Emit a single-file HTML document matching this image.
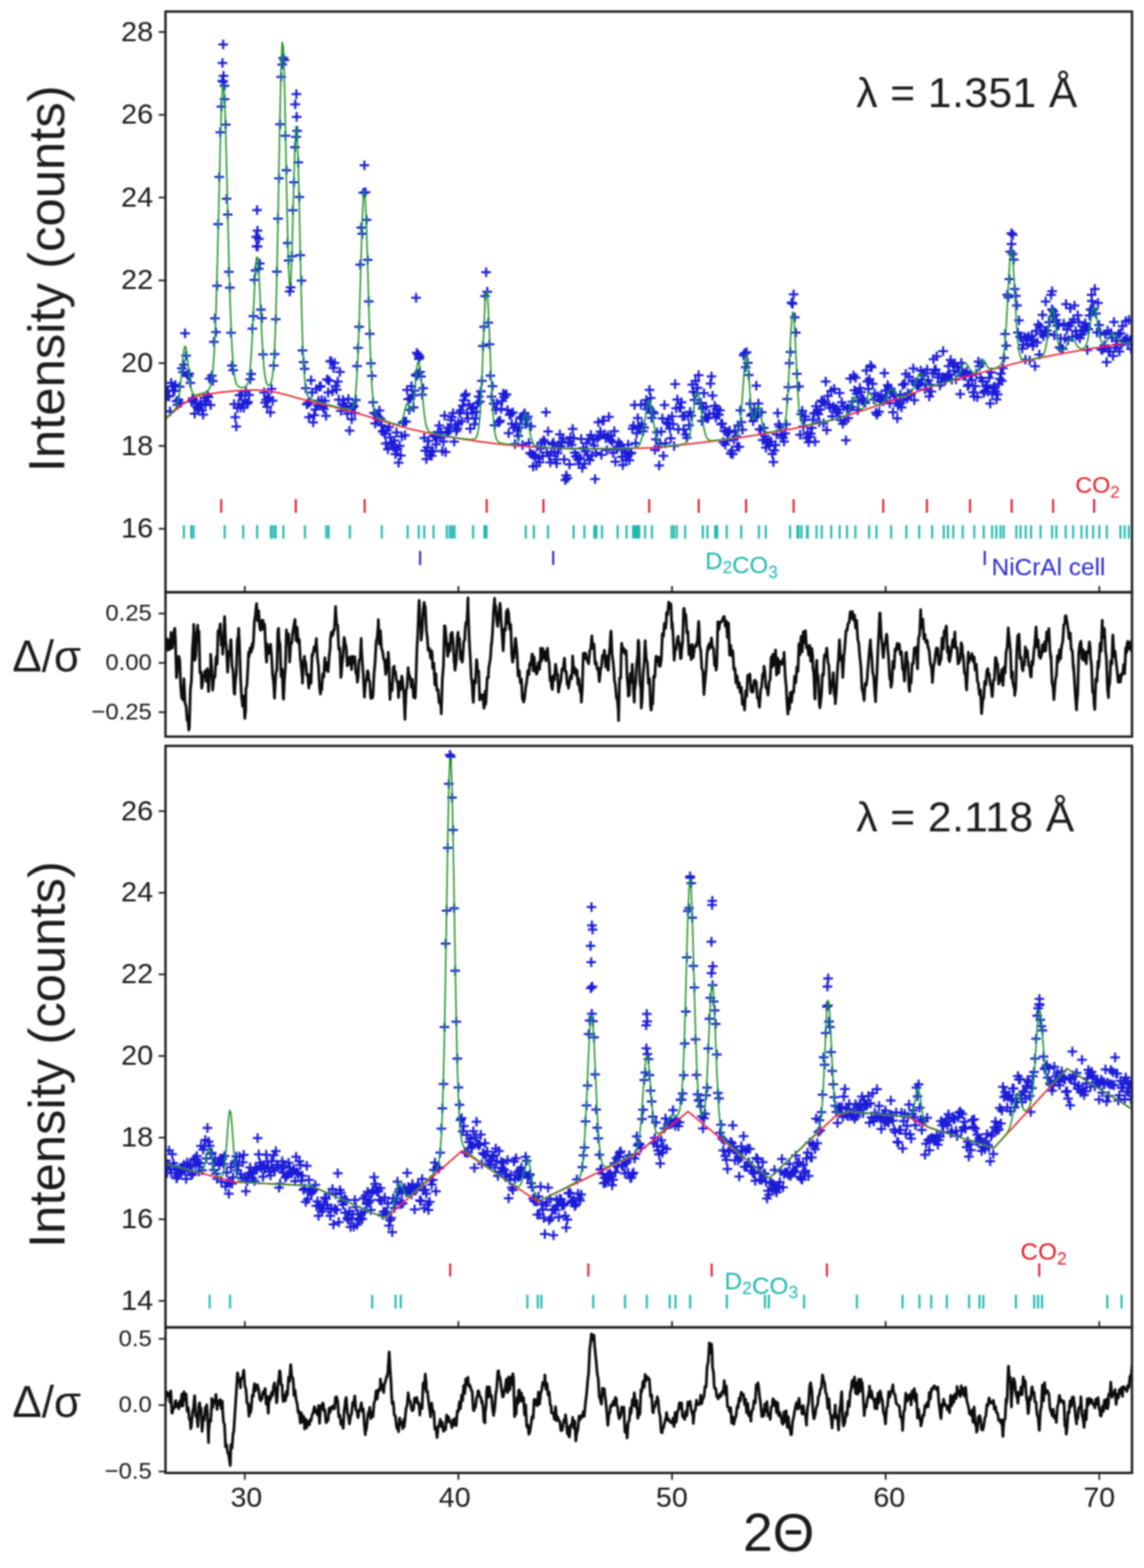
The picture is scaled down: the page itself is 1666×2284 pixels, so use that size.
<!DOCTYPE html>
<html><head><meta charset="utf-8"><title>Powder diffraction refinement</title>
<style>html,body{margin:0;padding:0;background:#fff;} svg{display:block;}</style>
</head><body>
<svg width="1666" height="2284" viewBox="0 0 1666 2284" font-family="'Liberation Sans', Arial, Helvetica, sans-serif">
<rect width="1666" height="2284" fill="#fff"/>
<defs>
<clipPath id="c1"><rect x="241.0" y="16.8" width="1407.5" height="845.8000000000001"/></clipPath>
<clipPath id="c2"><rect x="241.0" y="862.6" width="1407.5" height="210.39999999999998"/></clipPath>
<clipPath id="c3"><rect x="241.0" y="1086.5" width="1407.5" height="847.0"/></clipPath>
<clipPath id="c4"><rect x="241.0" y="1933.5" width="1407.5" height="212.0"/></clipPath>
<filter id="soft" x="0" y="0" width="1666" height="2284" filterUnits="userSpaceOnUse"><feGaussianBlur stdDeviation="0.9"/></filter>
</defs>
<g filter="url(#soft)">
<g clip-path="url(#c1)">
<path d="M234.5 568.9h14M241.5 561.9v14M236.1 576.7h14M243.1 569.7v14M237.6 569.0h14M244.6 562.0v14M239.2 577.5h14M246.2 570.5v14M240.7 599.2h14M247.7 592.2v14M242.3 557.7h14M249.3 550.7v14M243.8 562.8h14M250.8 555.8v14M245.4 569.3h14M252.4 562.3v14M246.9 569.4h14M253.9 562.4v14M248.5 560.8h14M255.5 553.8v14M250.1 584.6h14M257.1 577.6v14M251.6 589.8h14M258.6 582.8v14M253.2 582.8h14M260.2 575.8v14M254.7 563.3h14M261.7 556.3v14M256.3 587.1h14M263.3 580.1v14M257.8 536.6h14M264.8 529.6v14M259.4 541.9h14M266.4 534.9v14M260.9 531.2h14M267.9 524.2v14M262.5 485.5h14M269.5 478.5v14M264.0 518.0h14M271.0 511.0v14M265.6 545.6h14M272.6 538.6v14M267.2 548.1h14M274.2 541.1v14M268.7 544.2h14M275.7 537.2v14M270.3 557.8h14M277.3 550.8v14M271.8 584.9h14M278.8 577.9v14M273.4 580.6h14M280.4 573.6v14M274.9 582.8h14M281.9 575.8v14M276.5 602.5h14M283.5 595.5v14M278.0 586.5h14M285.0 579.5v14M279.6 592.3h14M286.6 585.3v14M281.2 595.0h14M288.2 588.0v14M282.7 594.4h14M289.7 587.4v14M284.3 590.1h14M291.3 583.1v14M285.8 588.5h14M292.8 581.5v14M287.4 597.7h14M294.4 590.7v14M288.9 603.9h14M295.9 596.9v14M290.5 579.4h14M297.5 572.4v14M292.0 588.6h14M299.0 581.6v14M293.6 584.8h14M300.6 577.8v14M295.1 575.7h14M302.1 568.7v14M296.7 578.4h14M303.7 571.4v14M298.3 551.4h14M305.3 544.4v14M299.8 589.9h14M306.8 582.9v14M301.4 547.3h14M308.4 540.3v14M302.9 554.9h14M309.9 547.9v14M304.5 498.1h14M311.5 491.1v14M306.0 463.7h14M313.0 456.7v14M307.6 483.7h14M314.6 476.7v14M309.1 416.2h14M316.1 409.2v14M310.7 326.5h14M317.7 319.5v14M312.3 257.7h14M319.3 250.7v14M313.8 192.8h14M320.8 185.8v14M315.4 155.3h14M322.4 148.3v14M316.9 117.8h14M323.9 110.8v14M318.5 110.5h14M325.5 103.5v14M320.0 144.5h14M327.0 137.5v14M321.6 181.5h14M328.6 174.5v14M323.1 289.6h14M330.1 282.6v14M324.7 312.6h14M331.7 305.6v14M326.2 396.0h14M333.2 389.0v14M327.8 419.0h14M334.8 412.0v14M329.4 484.8h14M336.4 477.8v14M330.9 532.5h14M337.9 525.5v14M332.5 539.3h14M339.5 532.3v14M334.0 588.7h14M341.0 581.7v14M335.6 607.8h14M342.6 600.8v14M337.1 621.3h14M344.1 614.3v14M338.7 594.4h14M345.7 587.4v14M340.2 588.7h14M347.2 581.7v14M341.8 575.7h14M348.8 568.7v14M343.4 593.4h14M350.4 586.4v14M344.9 575.3h14M351.9 568.3v14M346.5 588.9h14M353.5 581.9v14M348.0 594.1h14M355.0 587.1v14M349.6 583.3h14M356.6 576.3v14M351.1 571.0h14M358.1 564.0v14M352.7 588.0h14M359.7 581.0v14M354.2 585.6h14M361.2 578.6v14M355.8 575.3h14M362.8 568.3v14M357.3 552.5h14M364.3 545.5v14M358.9 544.7h14M365.9 537.7v14M360.5 478.7h14M367.5 471.7v14M362.0 460.5h14M369.0 453.5v14M363.6 407.8h14M370.6 400.8v14M365.1 394.0h14M372.1 387.0v14M366.7 358.7h14M373.7 351.7v14M368.2 359.3h14M375.2 352.3v14M369.8 391.6h14M376.8 384.6v14M371.3 383.8h14M378.3 376.8v14M372.9 451.0h14M379.9 444.0v14M374.5 463.5h14M381.5 456.5v14M376.0 516.3h14M383.0 509.3v14M377.6 571.7h14M384.6 564.7v14M379.1 586.5h14M386.1 579.5v14M380.7 582.2h14M387.7 575.2v14M382.2 592.5h14M389.2 585.5v14M383.8 580.2h14M390.8 573.2v14M385.3 579.7h14M392.3 572.7v14M386.9 600.7h14M393.9 593.7v14M388.4 566.6h14M395.4 559.6v14M390.0 583.7h14M397.0 576.7v14M391.6 532.4h14M398.6 525.4v14M393.1 515.7h14M400.1 508.7v14M394.7 465.1h14M401.7 458.1v14M396.2 395.8h14M403.2 388.8v14M397.8 318.5h14M404.8 311.5v14M399.3 259.8h14M406.3 252.8v14M400.9 181.1h14M407.9 174.1v14M402.4 112.1h14M409.4 105.1v14M404.0 93.9h14M411.0 86.9v14M405.6 84.2h14M412.6 77.2v14M407.1 87.4h14M414.1 80.4v14M408.7 197.8h14M415.7 190.8v14M410.2 248.0h14M417.2 241.0v14M411.8 354.0h14M418.8 347.0v14M413.3 379.6h14M420.3 372.6v14M414.9 424.4h14M421.9 417.4v14M416.4 418.5h14M423.4 411.5v14M418.0 373.3h14M425.0 366.3v14M419.5 306.3h14M426.5 299.3v14M421.1 265.4h14M428.1 258.4v14M422.7 214.6h14M429.7 207.6v14M424.2 199.5h14M431.2 192.5v14M425.8 190.4h14M432.8 183.4v14M427.3 236.6h14M434.3 229.6v14M428.9 287.1h14M435.9 280.1v14M430.4 371.8h14M437.4 364.8v14M432.0 408.8h14M439.0 401.8v14M433.5 510.5h14M440.5 503.5v14M435.1 527.5h14M442.1 520.5v14M436.7 537.2h14M443.7 530.2v14M438.2 565.6h14M445.2 558.6v14M439.8 588.9h14M446.8 581.9v14M441.3 587.2h14M448.3 580.2v14M442.9 607.8h14M449.9 600.8v14M444.4 585.8h14M451.4 578.8v14M446.0 554.0h14M453.0 547.0v14M447.5 571.8h14M454.5 564.8v14M449.1 615.2h14M456.1 608.2v14M450.6 604.7h14M457.6 597.7v14M452.2 596.5h14M459.2 589.5v14M453.8 566.7h14M460.8 559.7v14M455.3 589.9h14M462.3 582.9v14M456.9 583.8h14M463.9 576.8v14M458.4 563.4h14M465.4 556.4v14M460.0 562.5h14M467.0 555.5v14M461.5 582.7h14M468.5 575.7v14M463.1 592.5h14M470.1 585.5v14M464.6 595.8h14M471.6 588.8v14M466.2 584.1h14M473.2 577.1v14M467.8 605.8h14M474.8 598.8v14M469.3 552.6h14M476.3 545.6v14M470.9 571.8h14M477.9 564.8v14M472.4 554.6h14M479.4 547.6v14M474.0 526.1h14M481.0 519.1v14M475.5 526.7h14M482.5 519.7v14M477.1 569.9h14M484.1 562.9v14M478.6 536.1h14M485.6 529.1v14M480.2 528.8h14M487.2 521.8v14M481.7 562.2h14M488.7 555.2v14M483.3 567.4h14M490.3 560.4v14M484.9 555.7h14M491.9 548.7v14M486.4 582.2h14M493.4 575.2v14M488.0 541.7h14M495.0 534.7v14M489.5 598.4h14M496.5 591.4v14M491.1 589.0h14M498.1 582.0v14M492.6 582.4h14M499.6 575.4v14M494.2 591.0h14M501.2 584.0v14M495.7 592.4h14M502.7 585.4v14M497.3 593.0h14M504.3 586.0v14M498.9 602.6h14M505.9 595.6v14M500.4 580.9h14M507.4 573.9v14M502.0 627.3h14M509.0 620.3v14M503.5 593.1h14M510.5 586.1v14M505.1 610.8h14M512.1 603.8v14M506.6 593.4h14M513.6 586.4v14M508.2 591.6h14M515.2 584.6v14M509.7 601.7h14M516.7 594.7v14M511.3 582.7h14M518.3 575.7v14M512.8 533.2h14M519.8 526.2v14M514.4 506.7h14M521.4 499.7v14M516.0 475.9h14M523.0 468.9v14M517.5 385.4h14M524.5 378.4v14M519.1 331.4h14M526.1 324.4v14M520.6 340.6h14M527.6 333.6v14M522.2 280.8h14M529.2 273.8v14M523.7 240.8h14M530.7 233.8v14M525.3 280.1h14M532.3 273.1v14M526.8 320.2h14M533.8 313.2v14M528.4 378.6h14M535.4 371.6v14M530.0 439.1h14M537.0 432.1v14M531.5 486.3h14M538.5 479.3v14M533.1 529.3h14M540.1 522.3v14M534.6 547.6h14M541.6 540.6v14M536.2 586.1h14M543.2 579.1v14M537.7 601.6h14M544.7 594.6v14M539.3 616.8h14M546.3 609.8v14M540.8 602.9h14M547.8 595.9v14M542.4 609.7h14M549.4 602.7v14M543.9 607.3h14M550.9 600.3v14M545.5 597.9h14M552.5 590.9v14M547.1 610.0h14M554.1 603.0v14M548.6 619.4h14M555.6 612.4v14M550.2 628.4h14M557.2 621.4v14M551.7 627.7h14M558.7 620.7v14M553.3 631.9h14M560.3 624.9v14M554.8 646.1h14M561.8 639.1v14M556.4 626.5h14M563.4 619.5v14M557.9 654.4h14M564.9 647.4v14M559.5 622.0h14M566.5 615.0v14M561.1 636.9h14M568.1 629.9v14M562.6 644.7h14M569.6 637.7v14M564.2 647.2h14M571.2 640.2v14M565.7 651.2h14M572.7 644.2v14M567.3 641.7h14M574.3 634.7v14M568.8 661.5h14M575.8 654.5v14M570.4 629.9h14M577.4 622.9v14M571.9 653.9h14M578.9 646.9v14M573.5 674.0h14M580.5 667.0v14M575.0 649.6h14M582.0 642.6v14M576.6 663.6h14M583.6 656.6v14M578.2 635.7h14M585.2 628.7v14M579.7 615.7h14M586.7 608.7v14M581.3 614.0h14M588.3 607.0v14M582.8 633.9h14M589.8 626.9v14M584.4 614.1h14M591.4 607.1v14M585.9 567.9h14M592.9 560.9v14M587.5 581.6h14M594.5 574.6v14M589.0 597.0h14M596.0 590.0v14M590.6 580.6h14M597.6 573.6v14M592.2 562.6h14M599.2 555.6v14M593.7 576.2h14M600.7 569.2v14M595.3 593.4h14M602.3 586.4v14M596.8 569.1h14M603.8 562.1v14M598.4 546.3h14M605.4 539.3v14M599.9 547.6h14M606.9 540.6v14M601.5 544.5h14M608.5 537.5v14M603.0 522.8h14M610.0 515.8v14M604.6 541.8h14M611.6 534.8v14M606.1 548.6h14M613.1 541.6v14M607.7 575.0h14M614.7 568.0v14M609.3 565.6h14M616.3 558.6v14M610.8 637.9h14M617.8 630.9v14M612.4 656.5h14M619.4 649.5v14M613.9 668.7h14M620.9 661.7v14M615.5 651.6h14M622.5 644.6v14M617.0 642.2h14M624.0 635.2v14M618.6 662.7h14M625.6 655.7v14M620.1 658.7h14M627.1 651.7v14M621.7 664.1h14M628.7 657.1v14M623.3 657.1h14M630.3 650.1v14M624.8 634.4h14M631.8 627.4v14M626.4 636.0h14M633.4 629.0v14M627.9 647.3h14M634.9 640.3v14M629.5 637.9h14M636.5 630.9v14M631.0 629.2h14M638.0 622.2v14M632.6 619.8h14M639.6 612.8v14M634.1 637.9h14M641.1 630.9v14M635.7 629.5h14M642.7 622.5v14M637.2 657.1h14M644.2 650.1v14M638.8 643.1h14M645.8 636.1v14M640.4 605.4h14M647.4 598.4v14M641.9 658.5h14M648.9 651.5v14M643.5 631.0h14M650.5 624.0v14M645.0 623.2h14M652.0 616.2v14M646.6 628.2h14M653.6 621.2v14M648.1 623.7h14M655.1 616.7v14M649.7 611.7h14M656.7 604.7v14M651.2 607.5h14M658.2 600.5v14M652.8 601.8h14M659.8 594.8v14M654.4 643.2h14M661.4 636.2v14M655.9 619.8h14M662.9 612.8v14M657.5 627.7h14M664.5 620.7v14M659.0 624.2h14M666.0 617.2v14M660.6 616.6h14M667.6 609.6v14M662.1 601.6h14M669.1 594.6v14M663.7 598.1h14M670.7 591.1v14M665.2 613.7h14M672.2 606.7v14M666.8 590.9h14M673.8 583.9v14M668.3 582.9h14M675.3 575.9v14M669.9 576.5h14M676.9 569.5v14M671.5 574.0h14M678.5 567.0v14M673.0 602.2h14M680.0 595.2v14M674.6 609.7h14M681.6 602.7v14M676.1 588.9h14M683.1 581.9v14M677.7 624.5h14M684.7 617.5v14M679.2 595.3h14M686.2 588.3v14M680.8 601.8h14M687.8 594.8v14M682.3 592.7h14M689.3 585.7v14M683.9 618.1h14M690.9 611.1v14M685.5 609.4h14M692.5 602.4v14M687.0 600.0h14M694.0 593.0v14M688.6 587.4h14M695.6 580.4v14M690.1 577.7h14M697.1 570.7v14M691.7 584.9h14M698.7 577.9v14M693.2 569.9h14M700.2 562.9v14M694.8 554.8h14M701.8 547.8v14M696.3 503.9h14M703.3 496.9v14M697.9 475.9h14M704.9 468.9v14M699.4 431.3h14M706.4 424.3v14M701.0 396.5h14M708.0 389.5v14M702.6 425.0h14M709.6 418.0v14M704.1 470.1h14M711.1 463.1v14M705.7 501.4h14M712.7 494.4v14M707.2 547.2h14M714.2 540.2v14M708.8 577.7h14M715.8 570.7v14M710.3 562.4h14M717.3 555.4v14M711.9 588.1h14M718.9 581.1v14M713.4 619.6h14M720.4 612.6v14M715.0 596.9h14M722.0 589.9v14M716.6 587.4h14M723.6 580.4v14M718.1 614.6h14M725.1 607.6v14M719.7 614.9h14M726.7 607.9v14M721.2 612.7h14M728.2 605.7v14M722.8 595.6h14M729.8 588.6v14M724.3 584.0h14M731.3 577.0v14M725.9 573.5h14M732.9 566.5v14M727.4 578.5h14M734.4 571.5v14M729.0 574.9h14M736.0 567.9v14M730.5 574.6h14M737.5 567.6v14M732.1 597.3h14M739.1 590.3v14M733.7 631.1h14M740.7 624.1v14M735.2 604.2h14M742.2 597.2v14M736.8 602.6h14M743.8 595.6v14M738.3 617.2h14M745.3 610.2v14M739.9 600.8h14M746.9 593.8v14M741.4 623.3h14M748.4 616.3v14M743.0 646.7h14M750.0 639.7v14M744.5 617.2h14M751.5 610.2v14M746.1 626.7h14M753.1 619.7v14M747.7 634.9h14M754.7 627.9v14M749.2 622.7h14M756.2 615.7v14M750.8 607.9h14M757.8 600.9v14M752.3 609.6h14M759.3 602.6v14M753.9 648.3h14M760.9 641.3v14M755.4 604.9h14M762.4 597.9v14M757.0 601.9h14M764.0 594.9v14M758.5 617.8h14M765.5 610.8v14M760.1 611.1h14M767.1 604.1v14M761.6 607.1h14M768.6 600.1v14M763.2 645.2h14M770.2 638.2v14M764.8 659.9h14M771.8 652.9v14M766.3 621.1h14M773.3 614.1v14M767.9 662.3h14M774.9 655.3v14M769.4 679.5h14M776.4 672.5v14M771.0 662.9h14M778.0 655.9v14M772.5 664.7h14M779.5 657.7v14M774.1 678.3h14M781.1 671.3v14M775.6 650.7h14M782.6 643.7v14M777.2 667.4h14M784.2 660.4v14M778.8 673.5h14M785.8 666.5v14M780.3 653.4h14M787.3 646.4v14M781.9 644.8h14M788.9 637.8v14M783.4 664.3h14M790.4 657.3v14M785.0 641.3h14M792.0 634.3v14M786.5 644.5h14M793.5 637.5v14M788.1 600.6h14M795.1 593.6v14M789.6 659.3h14M796.6 652.3v14M791.2 628.6h14M798.2 621.6v14M792.7 664.0h14M799.7 657.0v14M794.3 673.4h14M801.3 666.4v14M795.9 658.3h14M802.9 651.3v14M797.4 647.6h14M804.4 640.6v14M799.0 644.7h14M806.0 637.7v14M800.5 659.1h14M807.5 652.1v14M802.1 669.4h14M809.1 662.4v14M803.6 674.9h14M810.6 667.9v14M805.2 660.1h14M812.2 653.1v14M806.7 650.8h14M813.7 643.8v14M808.3 632.8h14M815.3 625.8v14M809.9 649.9h14M816.9 642.9v14M811.4 643.0h14M818.4 636.0v14M813.0 639.0h14M820.0 632.0v14M814.5 669.3h14M821.5 662.3v14M816.1 699.3h14M823.1 692.3v14M817.6 692.6h14M824.6 685.6v14M819.2 696.5h14M826.2 689.5v14M820.7 645.0h14M827.7 638.0v14M822.3 676.4h14M829.3 669.4v14M823.8 636.9h14M830.8 629.9v14M825.4 648.3h14M832.4 641.3v14M827.0 624.8h14M834.0 617.8v14M828.5 638.5h14M835.5 631.5v14M830.1 659.3h14M837.1 652.3v14M831.6 665.2h14M838.6 658.2v14M833.2 663.9h14M840.2 656.9v14M834.7 669.3h14M841.7 662.3v14M836.3 676.1h14M843.3 669.1v14M837.8 666.9h14M844.8 659.9v14M839.4 639.5h14M846.4 632.5v14M841.0 681.4h14M848.0 674.4v14M842.5 652.5h14M849.5 645.5v14M844.1 675.5h14M851.1 668.5v14M845.6 657.1h14M852.6 650.1v14M847.2 645.5h14M854.2 638.5v14M848.7 663.1h14M855.7 656.1v14M850.3 639.5h14M857.3 632.5v14M851.8 670.4h14M858.8 663.4v14M853.4 633.5h14M860.4 626.5v14M854.9 663.4h14M861.9 656.4v14M856.5 640.7h14M863.5 633.7v14M858.1 649.1h14M865.1 642.1v14M859.6 697.7h14M866.6 690.7v14M861.2 659.4h14M868.2 652.4v14M862.7 638.7h14M869.7 631.7v14M864.3 615.1h14M871.3 608.1v14M865.8 635.6h14M872.8 628.6v14M867.4 628.8h14M874.4 621.8v14M868.9 662.6h14M875.9 655.6v14M870.5 612.7h14M877.5 605.7v14M872.1 612.5h14M879.1 605.5v14M873.6 632.5h14M880.6 625.5v14M875.2 638.2h14M882.2 631.2v14M876.7 655.8h14M883.7 648.8v14M878.3 634.3h14M885.3 627.3v14M879.8 607.3h14M886.8 600.3v14M881.4 640.2h14M888.4 633.2v14M882.9 634.8h14M889.9 627.8v14M884.5 643.3h14M891.5 636.3v14M886.0 659.7h14M893.0 652.7v14M887.6 627.9h14M894.6 620.9v14M889.2 672.5h14M896.2 665.5v14M890.7 654.2h14M897.7 647.2v14M892.3 651.2h14M899.3 644.2v14M893.8 644.5h14M900.8 637.5v14M895.4 649.8h14M902.4 642.8v14M896.9 647.7h14M903.9 640.7v14M898.5 665.4h14M905.5 658.4v14M900.0 677.5h14M907.0 670.5v14M901.6 654.4h14M908.6 647.4v14M903.2 658.1h14M910.2 651.1v14M904.7 669.5h14M911.7 662.5v14M906.3 664.0h14M913.3 657.0v14M907.8 647.8h14M914.8 640.8v14M909.4 670.4h14M916.4 663.4v14M910.9 661.0h14M917.9 654.0v14M912.5 659.6h14M919.5 652.6v14M914.0 624.6h14M921.0 617.6v14M915.6 620.0h14M922.6 613.0v14M917.1 590.0h14M924.1 583.0v14M918.7 645.4h14M925.7 638.4v14M920.3 631.0h14M927.3 624.0v14M921.8 609.1h14M928.8 602.1v14M923.4 621.8h14M930.4 614.8v14M924.9 622.2h14M931.9 615.2v14M926.5 589.6h14M933.5 582.6v14M928.0 618.2h14M935.0 611.2v14M929.6 628.3h14M936.6 621.3v14M931.1 622.7h14M938.1 615.7v14M932.7 588.3h14M939.7 581.3v14M934.3 582.8h14M941.3 575.8v14M935.8 596.2h14M942.8 589.2v14M937.4 592.6h14M944.4 585.6v14M938.9 568.0h14M945.9 561.0v14M940.5 579.8h14M947.5 572.8v14M942.0 608.8h14M949.0 601.8v14M943.6 600.1h14M950.6 593.1v14M945.1 601.9h14M952.1 594.9v14M946.7 655.3h14M953.7 648.3v14M948.2 640.0h14M955.2 633.0v14M949.8 629.7h14M956.8 622.7v14M951.4 651.2h14M958.4 644.2v14M952.9 678.1h14M959.9 671.1v14M954.5 646.6h14M961.5 639.6v14M956.0 628.8h14M963.0 621.8v14M957.6 609.4h14M964.6 602.4v14M959.1 664.0h14M966.1 657.0v14M960.7 590.0h14M967.7 583.0v14M962.2 645.8h14M969.2 638.8v14M963.8 615.0h14M970.8 608.0v14M965.4 617.7h14M972.4 610.7v14M966.9 610.6h14M973.9 603.6v14M968.5 624.2h14M975.5 617.2v14M970.0 638.4h14M977.0 631.4v14M971.6 606.6h14M978.6 599.6v14M973.1 617.8h14M980.1 610.8v14M974.7 649.7h14M981.7 642.7v14M976.2 559.5h14M983.2 552.5v14M977.8 594.7h14M984.8 587.7v14M979.3 582.0h14M986.3 575.0v14M980.9 625.5h14M987.9 618.5v14M982.5 593.4h14M989.5 586.4v14M984.0 593.9h14M991.0 586.9v14M985.6 586.0h14M992.6 579.0v14M987.1 606.6h14M994.1 599.6v14M988.7 625.2h14M995.7 618.2v14M990.2 605.7h14M997.2 598.7v14M991.8 633.1h14M998.8 626.1v14M993.3 637.8h14M1000.3 630.8v14M994.9 605.4h14M1001.9 598.4v14M996.5 619.5h14M1003.5 612.5v14M998.0 600.1h14M1005.0 593.1v14M999.6 605.5h14M1006.6 598.5v14M1001.1 560.2h14M1008.1 553.2v14M1002.7 570.7h14M1009.7 563.7v14M1004.2 582.5h14M1011.2 575.5v14M1005.8 554.9h14M1012.8 547.9v14M1007.3 572.6h14M1014.3 565.6v14M1008.9 565.0h14M1015.9 558.0v14M1010.4 546.6h14M1017.4 539.6v14M1012.0 587.9h14M1019.0 580.9v14M1013.6 586.7h14M1020.6 579.7v14M1015.1 613.3h14M1022.1 606.3v14M1016.7 595.2h14M1023.7 588.2v14M1018.2 572.7h14M1025.2 565.7v14M1019.8 607.3h14M1026.8 600.3v14M1021.3 592.4h14M1028.3 585.4v14M1022.9 609.6h14M1029.9 602.6v14M1024.4 608.8h14M1031.4 601.8v14M1026.0 603.0h14M1033.0 596.0v14M1027.6 558.8h14M1034.6 551.8v14M1029.1 548.3h14M1036.1 541.3v14M1030.7 576.3h14M1037.7 569.3v14M1032.2 602.0h14M1039.2 595.0v14M1033.8 591.3h14M1040.8 584.3v14M1035.3 608.2h14M1042.3 601.2v14M1036.9 595.5h14M1043.9 588.5v14M1038.4 603.7h14M1045.4 596.7v14M1040.0 604.3h14M1047.0 597.3v14M1041.5 597.7h14M1048.5 590.7v14M1043.1 618.1h14M1050.1 611.1v14M1044.7 616.9h14M1051.7 609.9v14M1046.2 644.0h14M1053.2 637.0v14M1047.8 627.5h14M1054.8 620.5v14M1049.3 647.6h14M1056.3 640.6v14M1050.9 629.0h14M1057.9 622.0v14M1052.4 641.9h14M1059.4 634.9v14M1054.0 630.0h14M1061.0 623.0v14M1055.5 627.3h14M1062.5 620.3v14M1057.1 660.6h14M1064.1 653.6v14M1058.7 656.5h14M1065.7 649.5v14M1060.2 661.6h14M1067.2 654.6v14M1061.8 640.4h14M1068.8 633.4v14M1063.3 628.1h14M1070.3 621.1v14M1064.9 635.2h14M1071.9 628.2v14M1066.4 650.6h14M1073.4 643.6v14M1068.0 619.8h14M1075.0 612.8v14M1069.5 651.1h14M1076.5 644.1v14M1071.1 597.8h14M1078.1 590.8v14M1072.6 614.9h14M1079.6 607.9v14M1074.2 625.9h14M1081.2 618.9v14M1075.8 517.8h14M1082.8 510.8v14M1077.3 514.5h14M1084.3 507.5v14M1078.9 535.0h14M1085.9 528.0v14M1080.4 513.2h14M1087.4 506.2v14M1082.0 528.5h14M1089.0 521.5v14M1083.5 546.2h14M1090.5 539.2v14M1085.1 588.0h14M1092.1 581.0v14M1086.6 605.5h14M1093.6 598.5v14M1088.2 603.0h14M1095.2 596.0v14M1089.8 613.5h14M1096.8 606.5v14M1091.3 595.9h14M1098.3 588.9v14M1092.9 607.6h14M1099.9 600.6v14M1094.4 561.8h14M1101.4 554.8v14M1096.0 604.2h14M1103.0 597.2v14M1097.5 587.7h14M1104.5 580.7v14M1099.1 625.3h14M1106.1 618.3v14M1100.6 625.8h14M1107.6 618.8v14M1102.2 600.4h14M1109.2 593.4v14M1103.7 640.9h14M1110.7 633.9v14M1105.3 623.2h14M1112.3 616.2v14M1106.9 635.0h14M1113.9 628.0v14M1108.4 652.0h14M1115.4 645.0v14M1110.0 643.8h14M1117.0 636.8v14M1111.5 645.1h14M1118.5 638.1v14M1113.1 649.6h14M1120.1 642.6v14M1114.6 643.6h14M1121.6 636.6v14M1116.2 643.4h14M1123.2 636.4v14M1117.7 661.2h14M1124.7 654.2v14M1119.3 673.0h14M1126.3 666.0v14M1120.9 656.2h14M1127.9 649.2v14M1122.4 648.2h14M1129.4 641.2v14M1124.0 632.8h14M1131.0 625.8v14M1125.5 601.7h14M1132.5 594.7v14M1127.1 617.9h14M1134.1 610.9v14M1128.6 621.8h14M1135.6 614.8v14M1130.2 627.2h14M1137.2 620.2v14M1131.7 634.6h14M1138.7 627.6v14M1133.3 638.1h14M1140.3 631.1v14M1134.8 643.2h14M1141.8 636.2v14M1136.4 631.3h14M1143.4 624.3v14M1138.0 618.1h14M1145.0 611.1v14M1139.5 581.3h14M1146.5 574.3v14M1141.1 564.0h14M1148.1 557.0v14M1142.6 528.9h14M1149.6 521.9v14M1144.2 512.7h14M1151.2 505.7v14M1145.7 440.7h14M1152.7 433.7v14M1147.3 442.6h14M1154.3 435.6v14M1148.8 428.8h14M1155.8 421.8v14M1150.4 462.2h14M1157.4 455.2v14M1152.0 484.5h14M1159.0 477.5v14M1153.5 544.5h14M1160.5 537.5v14M1155.1 563.2h14M1162.1 556.2v14M1156.6 563.0h14M1163.6 556.0v14M1158.2 633.2h14M1165.2 626.2v14M1159.7 603.3h14M1166.7 596.3v14M1161.3 598.6h14M1168.3 591.6v14M1162.8 621.2h14M1169.8 614.2v14M1164.4 611.8h14M1171.4 604.8v14M1165.9 606.7h14M1172.9 599.7v14M1167.5 637.9h14M1174.5 630.9v14M1169.1 630.1h14M1176.1 623.1v14M1170.6 644.2h14M1177.6 637.2v14M1172.2 636.3h14M1179.2 629.3v14M1173.7 631.7h14M1180.7 624.7v14M1175.3 623.3h14M1182.3 616.3v14M1176.8 611.2h14M1183.8 604.2v14M1178.4 602.1h14M1185.4 595.1v14M1179.9 643.3h14M1186.9 636.3v14M1181.5 591.7h14M1188.5 584.7v14M1183.1 600.0h14M1190.1 593.0v14M1184.6 603.6h14M1191.6 596.6v14M1186.2 615.0h14M1193.2 608.0v14M1187.7 596.4h14M1194.7 589.4v14M1189.3 583.5h14M1196.3 576.5v14M1190.8 585.3h14M1197.8 578.3v14M1192.4 616.7h14M1199.4 609.7v14M1193.9 586.3h14M1200.9 579.3v14M1195.5 555.8h14M1202.5 548.8v14M1197.0 626.6h14M1204.0 619.6v14M1198.6 576.8h14M1205.6 569.8v14M1200.2 589.4h14M1207.2 582.4v14M1201.7 594.1h14M1208.7 587.1v14M1203.3 569.4h14M1210.3 562.4v14M1204.8 606.6h14M1211.8 599.6v14M1206.4 592.2h14M1213.4 585.2v14M1207.9 566.4h14M1214.9 559.4v14M1209.5 595.0h14M1216.5 588.0v14M1211.0 599.7h14M1218.0 592.7v14M1212.6 596.5h14M1219.6 589.5v14M1214.2 601.8h14M1221.2 594.8v14M1215.7 572.6h14M1222.7 565.6v14M1217.3 612.0h14M1224.3 605.0v14M1218.8 586.0h14M1225.8 579.0v14M1220.4 617.2h14M1227.4 610.2v14M1221.9 592.0h14M1228.9 585.0v14M1223.5 612.6h14M1230.5 605.6v14M1225.0 641.2h14M1232.0 634.2v14M1226.6 595.1h14M1233.6 588.1v14M1228.1 609.1h14M1235.1 602.1v14M1229.7 595.4h14M1236.7 588.4v14M1231.3 551.4h14M1238.3 544.4v14M1232.8 593.0h14M1239.8 586.0v14M1234.4 584.9h14M1241.4 577.9v14M1235.9 546.9h14M1242.9 539.9v14M1237.5 568.5h14M1244.5 561.5v14M1239.0 550.2h14M1246.0 543.2v14M1240.6 573.5h14M1247.6 566.5v14M1242.1 597.6h14M1249.1 590.6v14M1243.7 583.2h14M1250.7 576.2v14M1245.3 565.2h14M1252.3 558.2v14M1246.8 571.1h14M1253.8 564.1v14M1248.4 583.8h14M1255.4 576.8v14M1249.9 580.8h14M1256.9 573.8v14M1251.5 584.5h14M1258.5 577.5v14M1253.0 587.0h14M1260.0 580.0v14M1254.6 539.7h14M1261.6 532.7v14M1256.1 555.8h14M1263.1 548.8v14M1257.7 566.5h14M1264.7 559.5v14M1259.2 552.3h14M1266.2 545.3v14M1260.8 532.3h14M1267.8 525.3v14M1262.4 535.0h14M1269.4 528.0v14M1263.9 559.1h14M1270.9 552.1v14M1265.5 582.0h14M1272.5 575.0v14M1267.0 573.3h14M1274.0 566.3v14M1268.6 601.0h14M1275.6 594.0v14M1270.1 604.3h14M1277.1 597.3v14M1271.7 577.2h14M1278.7 570.2v14M1273.2 599.7h14M1280.2 592.7v14M1274.8 584.8h14M1281.8 577.8v14M1276.4 575.5h14M1283.4 568.5v14M1277.9 582.1h14M1284.9 575.1v14M1279.5 584.4h14M1286.5 577.4v14M1281.0 543.6h14M1288.0 536.6v14M1282.6 568.9h14M1289.6 561.9v14M1284.1 578.7h14M1291.1 571.7v14M1285.7 561.0h14M1292.7 554.0v14M1287.2 564.9h14M1294.2 557.9v14M1288.8 587.6h14M1295.8 580.6v14M1290.3 566.3h14M1297.3 559.3v14M1291.9 571.7h14M1298.9 564.7v14M1293.5 600.6h14M1300.5 593.6v14M1295.0 574.8h14M1302.0 567.8v14M1296.6 576.3h14M1303.6 569.3v14M1298.1 583.1h14M1305.1 576.1v14M1299.7 609.4h14M1306.7 602.4v14M1301.2 591.0h14M1308.2 584.0v14M1302.8 586.4h14M1309.8 579.4v14M1304.3 575.0h14M1311.3 568.0v14M1305.9 593.6h14M1312.9 586.6v14M1307.5 560.4h14M1314.5 553.4v14M1309.0 583.0h14M1316.0 576.0v14M1310.6 559.0h14M1317.6 552.0v14M1312.1 544.8h14M1319.1 537.8v14M1313.7 580.8h14M1320.7 573.8v14M1315.2 573.1h14M1322.2 566.1v14M1316.8 548.7h14M1323.8 541.7v14M1318.3 575.7h14M1325.3 568.7v14M1319.9 573.8h14M1326.9 566.8v14M1321.4 554.9h14M1328.4 547.9v14M1323.0 536.8h14M1330.0 529.8v14M1324.6 582.9h14M1331.6 575.9v14M1326.1 556.8h14M1333.1 549.8v14M1327.7 560.6h14M1334.7 553.6v14M1329.2 562.0h14M1336.2 555.0v14M1330.8 561.3h14M1337.8 554.3v14M1332.3 558.3h14M1339.3 551.3v14M1333.9 539.7h14M1340.9 532.7v14M1335.4 552.8h14M1342.4 545.8v14M1337.0 546.9h14M1344.0 539.9v14M1338.6 543.2h14M1345.6 536.2v14M1340.1 567.3h14M1347.1 560.3v14M1341.7 559.6h14M1348.7 552.6v14M1343.2 538.2h14M1350.2 531.2v14M1344.8 554.0h14M1351.8 547.0v14M1346.3 577.6h14M1353.3 570.6v14M1347.9 560.5h14M1354.9 553.5v14M1349.4 570.3h14M1356.4 563.3v14M1351.0 543.8h14M1358.0 536.8v14M1352.5 523.3h14M1359.5 516.3v14M1354.1 539.3h14M1361.1 532.3v14M1355.7 538.2h14M1362.7 531.2v14M1357.2 519.0h14M1364.2 512.0v14M1358.8 549.7h14M1365.8 542.7v14M1360.3 545.5h14M1367.3 538.5v14M1361.9 561.5h14M1368.9 554.5v14M1363.4 556.9h14M1370.4 549.9v14M1365.0 549.6h14M1372.0 542.6v14M1366.5 511.6h14M1373.5 504.6v14M1368.1 549.7h14M1375.1 542.7v14M1369.7 554.1h14M1376.7 547.1v14M1371.2 550.4h14M1378.2 543.4v14M1372.8 547.4h14M1379.8 540.4v14M1374.3 533.2h14M1381.3 526.2v14M1375.9 545.6h14M1382.9 538.6v14M1377.4 524.2h14M1384.4 517.2v14M1379.0 553.1h14M1386.0 546.1v14M1380.5 530.0h14M1387.5 523.0v14M1382.1 540.2h14M1389.1 533.2v14M1383.6 529.5h14M1390.6 522.5v14M1385.2 552.4h14M1392.2 545.4v14M1386.8 534.7h14M1393.8 527.7v14M1388.3 534.3h14M1395.3 527.3v14M1389.9 542.7h14M1396.9 535.7v14M1391.4 574.0h14M1398.4 567.0v14M1393.0 528.5h14M1400.0 521.5v14M1394.5 542.5h14M1401.5 535.5v14M1396.1 547.5h14M1403.1 540.5v14M1397.6 544.1h14M1404.6 537.1v14M1399.2 547.8h14M1406.2 540.8v14M1400.8 540.7h14M1407.8 533.7v14M1402.3 562.3h14M1409.3 555.3v14M1403.9 560.4h14M1410.9 553.4v14M1405.4 546.6h14M1412.4 539.6v14M1407.0 546.3h14M1414.0 539.3v14M1408.5 553.7h14M1415.5 546.7v14M1410.1 571.4h14M1417.1 564.4v14M1411.6 577.6h14M1418.6 570.6v14M1413.2 562.5h14M1420.2 555.5v14M1414.7 544.2h14M1421.7 537.2v14M1416.3 578.4h14M1423.3 571.4v14M1417.9 526.8h14M1424.9 519.8v14M1419.4 533.6h14M1426.4 526.6v14M1421.0 550.6h14M1428.0 543.6v14M1422.5 529.4h14M1429.5 522.4v14M1424.1 555.2h14M1431.1 548.2v14M1425.6 572.3h14M1432.6 565.3v14M1427.2 569.3h14M1434.2 562.3v14M1428.7 562.6h14M1435.7 555.6v14M1430.3 561.2h14M1437.3 554.2v14M1431.9 570.4h14M1438.9 563.4v14M1433.4 550.5h14M1440.4 543.5v14M1435.0 587.7h14M1442.0 580.7v14M1436.5 542.6h14M1443.5 535.6v14M1438.1 574.0h14M1445.1 567.0v14M1439.6 565.6h14M1446.6 558.6v14M1441.2 563.1h14M1448.2 556.1v14M1442.7 570.3h14M1449.7 563.3v14M1444.3 581.7h14M1451.3 574.7v14M1445.8 574.4h14M1452.8 567.4v14M1447.4 559.4h14M1454.4 552.4v14M1449.0 551.8h14M1456.0 544.8v14M1450.5 544.3h14M1457.5 537.3v14M1452.1 554.7h14M1459.1 547.7v14M1453.6 536.3h14M1460.6 529.3v14M1455.2 521.2h14M1462.2 514.2v14M1456.7 486.6h14M1463.7 479.6v14M1458.3 503.6h14M1465.3 496.6v14M1459.8 429.2h14M1466.8 422.2v14M1461.4 432.9h14M1468.4 425.9v14M1463.0 406.4h14M1470.0 399.4v14M1464.5 366.6h14M1471.5 359.6v14M1466.1 355.5h14M1473.1 348.5v14M1467.6 370.0h14M1474.6 363.0v14M1469.2 378.2h14M1476.2 371.2v14M1470.7 421.0h14M1477.7 414.0v14M1472.3 431.1h14M1479.3 424.1v14M1473.8 444.9h14M1480.8 437.9v14M1475.4 484.5h14M1482.4 477.5v14M1476.9 466.7h14M1483.9 459.7v14M1478.5 490.6h14M1485.5 483.6v14M1480.1 492.1h14M1487.1 485.1v14M1481.6 507.8h14M1488.6 500.8v14M1483.2 502.4h14M1490.2 495.4v14M1484.7 490.7h14M1491.7 483.7v14M1486.3 523.8h14M1493.3 516.8v14M1487.8 493.1h14M1494.8 486.1v14M1489.4 501.5h14M1496.4 494.5v14M1490.9 490.0h14M1497.9 483.0v14M1492.5 525.1h14M1499.5 518.1v14M1494.1 495.2h14M1501.1 488.2v14M1495.6 489.1h14M1502.6 482.1v14M1497.2 504.1h14M1504.2 497.1v14M1498.7 495.9h14M1505.7 488.9v14M1500.3 533.5h14M1507.3 526.5v14M1501.8 482.0h14M1508.8 475.0v14M1503.4 499.0h14M1510.4 492.0v14M1504.9 472.8h14M1511.9 465.8v14M1506.5 516.6h14M1513.5 509.6v14M1508.0 475.9h14M1515.0 468.9v14M1509.6 486.1h14M1516.6 479.1v14M1511.2 458.8h14M1518.2 451.8v14M1512.7 489.8h14M1519.7 482.8v14M1514.3 482.5h14M1521.3 475.5v14M1515.8 439.3h14M1522.8 432.3v14M1517.4 481.6h14M1524.4 474.6v14M1518.9 486.5h14M1525.9 479.5v14M1520.5 469.3h14M1527.5 462.3v14M1522.0 469.6h14M1529.0 462.6v14M1523.6 429.6h14M1530.6 422.6v14M1525.2 424.3h14M1532.2 417.3v14M1526.7 460.8h14M1533.7 453.8v14M1528.3 488.3h14M1535.3 481.3v14M1529.8 458.5h14M1536.8 451.5v14M1531.4 466.3h14M1538.4 459.3v14M1532.9 474.5h14M1539.9 467.5v14M1534.5 473.5h14M1541.5 466.5v14M1536.0 505.9h14M1543.0 498.9v14M1537.6 493.1h14M1544.6 486.1v14M1539.1 507.9h14M1546.1 500.9v14M1540.7 508.2h14M1547.7 501.2v14M1542.3 471.4h14M1549.3 464.4v14M1543.8 493.0h14M1550.8 486.0v14M1545.4 443.1h14M1552.4 436.1v14M1546.9 480.0h14M1553.9 473.0v14M1548.5 495.4h14M1555.5 488.4v14M1550.0 474.5h14M1557.0 467.5v14M1551.6 449.1h14M1558.6 442.1v14M1553.1 470.6h14M1560.1 463.6v14M1554.7 490.8h14M1561.7 483.8v14M1556.3 464.9h14M1563.3 457.9v14M1557.8 445.0h14M1564.8 438.0v14M1559.4 482.2h14M1566.4 475.2v14M1560.9 489.4h14M1567.9 482.4v14M1562.5 459.3h14M1569.5 452.3v14M1564.0 469.1h14M1571.0 462.1v14M1565.6 492.8h14M1572.6 485.8v14M1567.1 481.6h14M1574.1 474.6v14M1568.7 486.7h14M1575.7 479.7v14M1570.2 475.3h14M1577.2 468.3v14M1571.8 482.8h14M1578.8 475.8v14M1573.4 471.0h14M1580.4 464.0v14M1574.9 476.4h14M1581.9 469.4v14M1576.5 510.0h14M1583.5 503.0v14M1578.0 479.6h14M1585.0 472.6v14M1579.6 459.6h14M1586.6 452.6v14M1581.1 450.9h14M1588.1 443.9v14M1582.7 429.6h14M1589.7 422.6v14M1584.2 450.2h14M1591.2 443.2v14M1585.8 450.1h14M1592.8 443.1v14M1587.4 420.9h14M1594.4 413.9v14M1588.9 456.7h14M1595.9 449.7v14M1590.5 484.3h14M1597.5 477.3v14M1592.0 441.2h14M1599.0 434.2v14M1593.6 473.4h14M1600.6 466.4v14M1595.1 484.7h14M1602.1 477.7v14M1596.7 508.7h14M1603.7 501.7v14M1598.2 509.8h14M1605.2 502.8v14M1599.8 506.8h14M1606.8 499.8v14M1601.3 503.1h14M1608.3 496.1v14M1602.9 487.2h14M1609.9 480.2v14M1604.5 527.4h14M1611.5 520.4v14M1606.0 481.4h14M1613.0 474.4v14M1607.6 512.0h14M1614.6 505.0v14M1609.1 511.7h14M1616.1 504.7v14M1610.7 485.1h14M1617.7 478.1v14M1612.2 491.9h14M1619.2 484.9v14M1613.8 518.4h14M1620.8 511.4v14M1615.3 469.1h14M1622.3 462.1v14M1616.9 506.7h14M1623.9 499.7v14M1618.5 496.3h14M1625.5 489.3v14M1620.0 502.4h14M1627.0 495.4v14M1621.6 486.9h14M1628.6 479.9v14M1623.1 512.0h14M1630.1 505.0v14M1624.7 485.3h14M1631.7 478.3v14M1626.2 502.1h14M1633.2 495.1v14M1627.8 474.9h14M1634.8 467.9v14M1629.3 497.2h14M1636.3 490.2v14M1630.9 495.2h14M1637.9 488.2v14M1632.4 467.9h14M1639.4 460.9v14M1634.0 492.7h14M1641.0 485.7v14M1635.6 499.7h14M1642.6 492.7v14M1637.1 465.9h14M1644.1 458.9v14M1638.7 495.2h14M1645.7 488.2v14M1640.2 508.2h14M1647.2 501.2v14M318.0 64.7h14M325.0 57.7v14M317.0 91.8h14M324.0 84.8v14M318.0 119.0h14M325.0 112.0v14M320.0 125.0h14M327.0 118.0v14M367.4 305.9h14M374.4 298.9v14M368.0 336.0h14M375.0 329.0v14M366.0 345.1h14M373.0 338.1v14M370.0 348.1h14M377.0 341.1v14M424.6 137.0h14M431.6 130.0v14M423.0 152.1h14M430.0 145.1v14M425.0 170.2h14M432.0 163.2v14M602.4 516.9h14M609.4 509.9v14M600.0 513.9h14M607.0 506.9v14M604.0 520.0h14M611.0 513.0v14M599.0 433.7h14M606.0 426.7v14M1465.8 339.7h14M1472.8 332.7v14M1468.0 342.1h14M1475.0 335.1v14M1525.0 450.6h14M1532.0 443.6v14M1527.0 453.6h14M1534.0 446.6v14M1583.0 438.6h14M1590.0 431.6v14" stroke="#1a1ad8" stroke-width="3.0" fill="none"/>
<polyline points="241.5,610.0 243.1,608.6 244.6,607.2 246.2,605.8 247.7,604.4 249.3,603.0 250.8,601.6 252.4,600.2 253.9,598.9 255.5,597.5 257.1,596.2 258.6,594.9 260.2,593.6 261.7,592.3 263.3,591.1 264.8,589.9 266.4,588.7 267.9,587.6 269.5,586.5 271.0,585.4 272.6,584.4 274.2,583.4 275.7,582.5 277.3,581.6 278.8,580.8 280.4,580.0 281.9,579.3 283.5,578.6 285.0,578.0 286.6,577.4 288.2,576.9 289.7,576.5 291.3,576.2 292.8,575.9 294.4,575.6 295.9,575.3 297.5,575.1 299.0,574.8 300.6,574.6 302.1,574.3 303.7,574.1 305.3,573.8 306.8,573.6 308.4,573.3 309.9,573.1 311.5,572.9 313.0,572.7 314.6,572.4 316.1,572.2 317.7,572.0 319.3,571.8 320.8,571.6 322.4,571.4 323.9,571.2 325.5,571.1 327.0,570.9 328.6,570.7 330.1,570.5 331.7,570.4 333.2,570.2 334.8,570.1 336.4,569.9 337.9,569.8 339.5,569.7 341.0,569.5 342.6,569.4 344.1,569.3 345.7,569.2 347.2,569.1 348.8,569.0 350.4,568.9 351.9,568.8 353.5,568.7 355.0,568.6 356.6,568.6 358.1,568.5 359.7,568.4 361.2,568.4 362.8,568.3 364.3,568.3 365.9,568.3 367.5,568.2 369.0,568.2 370.6,568.2 372.1,568.2 373.7,568.2 375.2,568.2 376.8,568.3 378.3,568.3 379.9,568.4 381.5,568.5 383.0,568.7 384.6,568.8 386.1,569.0 387.7,569.1 389.2,569.3 390.8,569.6 392.3,569.8 393.9,570.1 395.4,570.3 397.0,570.6 398.6,570.9 400.1,571.2 401.7,571.5 403.2,571.8 404.8,572.2 406.3,572.5 407.9,572.9 409.4,573.3 411.0,573.7 412.6,574.0 414.1,574.4 415.7,574.8 417.2,575.3 418.8,575.7 420.3,576.1 421.9,576.5 423.4,576.9 425.0,577.4 426.5,577.8 428.1,578.2 429.7,578.7 431.2,579.1 432.8,579.6 434.3,580.0 435.9,580.4 437.4,580.9 439.0,581.3 440.5,581.7 442.1,582.1 443.7,582.6 445.2,583.0 446.8,583.4 448.3,583.8 449.9,584.2 451.4,584.6 453.0,585.0 454.5,585.3 456.1,585.7 457.6,586.1 459.2,586.4 460.8,586.8 462.3,587.2 463.9,587.5 465.4,587.9 467.0,588.3 468.5,588.6 470.1,589.0 471.6,589.4 473.2,589.8 474.8,590.2 476.3,590.5 477.9,590.9 479.4,591.3 481.0,591.7 482.5,592.1 484.1,592.5 485.6,592.9 487.2,593.3 488.7,593.7 490.3,594.1 491.9,594.4 493.4,594.9 495.0,595.3 496.5,595.7 498.1,596.1 499.6,596.5 501.2,596.9 502.7,597.3 504.3,597.7 505.9,598.1 507.4,598.5 509.0,598.9 510.5,599.3 512.1,599.8 513.6,600.2 515.2,600.6 516.7,601.0 518.3,601.4 519.8,601.9 521.4,602.3 523.0,602.7 524.5,603.2 526.1,603.6 527.6,604.1 529.2,604.5 530.7,605.0 532.3,605.5 533.8,605.9 535.4,606.4 537.0,606.9 538.5,607.4 540.1,607.9 541.6,608.3 543.2,608.8 544.7,609.3 546.3,609.8 547.8,610.3 549.4,610.8 550.9,611.3 552.5,611.8 554.1,612.3 555.6,612.8 557.2,613.3 558.7,613.8 560.3,614.2 561.8,614.7 563.4,615.2 564.9,615.7 566.5,616.2 568.1,616.7 569.6,617.2 571.2,617.6 572.7,618.1 574.3,618.6 575.8,619.0 577.4,619.5 578.9,619.9 580.5,620.4 582.0,620.8 583.6,621.3 585.2,621.7 586.7,622.1 588.3,622.6 589.8,623.0 591.4,623.4 592.9,623.8 594.5,624.2 596.0,624.5 597.6,624.9 599.2,625.3 600.7,625.6 602.3,626.0 603.8,626.3 605.4,626.7 606.9,627.0 608.5,627.4 610.0,627.7 611.6,628.1 613.1,628.4 614.7,628.7 616.3,629.1 617.8,629.4 619.4,629.7 620.9,630.1 622.5,630.4 624.0,630.7 625.6,631.0 627.1,631.3 628.7,631.6 630.3,632.0 631.8,632.3 633.4,632.6 634.9,632.9 636.5,633.2 638.0,633.5 639.6,633.8 641.1,634.1 642.7,634.4 644.2,634.6 645.8,634.9 647.4,635.2 648.9,635.5 650.5,635.8 652.0,636.0 653.6,636.3 655.1,636.6 656.7,636.9 658.2,637.1 659.8,637.4 661.4,637.6 662.9,637.9 664.5,638.2 666.0,638.4 667.6,638.7 669.1,638.9 670.7,639.1 672.2,639.4 673.8,639.6 675.3,639.9 676.9,640.1 678.5,640.3 680.0,640.6 681.6,640.8 683.1,641.0 684.7,641.2 686.2,641.5 687.8,641.7 689.3,641.9 690.9,642.1 692.5,642.4 694.0,642.6 695.6,642.8 697.1,643.0 698.7,643.2 700.2,643.5 701.8,643.7 703.3,643.9 704.9,644.1 706.4,644.3 708.0,644.5 709.6,644.7 711.1,644.9 712.7,645.1 714.2,645.3 715.8,645.5 717.3,645.7 718.9,645.9 720.4,646.1 722.0,646.3 723.6,646.5 725.1,646.7 726.7,646.8 728.2,647.0 729.8,647.2 731.3,647.3 732.9,647.5 734.4,647.7 736.0,647.8 737.5,648.0 739.1,648.1 740.7,648.2 742.2,648.4 743.8,648.5 745.3,648.6 746.9,648.8 748.4,648.9 750.0,649.0 751.5,649.1 753.1,649.2 754.7,649.3 756.2,649.4 757.8,649.5 759.3,649.7 760.9,649.8 762.4,649.9 764.0,650.0 765.5,650.1 767.1,650.2 768.6,650.3 770.2,650.4 771.8,650.5 773.3,650.6 774.9,650.7 776.4,650.8 778.0,650.9 779.5,651.0 781.1,651.1 782.6,651.3 784.2,651.4 785.8,651.4 787.3,651.5 788.9,651.6 790.4,651.7 792.0,651.8 793.5,651.9 795.1,652.0 796.6,652.1 798.2,652.2 799.7,652.3 801.3,652.4 802.9,652.4 804.4,652.5 806.0,652.6 807.5,652.7 809.1,652.8 810.6,652.8 812.2,652.9 813.7,653.0 815.3,653.0 816.9,653.1 818.4,653.2 820.0,653.2 821.5,653.3 823.1,653.3 824.6,653.4 826.2,653.4 827.7,653.5 829.3,653.5 830.8,653.6 832.4,653.6 834.0,653.6 835.5,653.7 837.1,653.7 838.6,653.7 840.2,653.8 841.7,653.8 843.3,653.8 844.8,653.8 846.4,653.8 848.0,653.8 849.5,653.8 851.1,653.8 852.6,653.8 854.2,653.8 855.7,653.8 857.3,653.8 858.8,653.8 860.4,653.8 861.9,653.8 863.5,653.8 865.1,653.8 866.6,653.8 868.2,653.8 869.7,653.8 871.3,653.7 872.8,653.7 874.4,653.7 875.9,653.7 877.5,653.7 879.1,653.7 880.6,653.7 882.2,653.6 883.7,653.6 885.3,653.6 886.8,653.6 888.4,653.6 889.9,653.6 891.5,653.5 893.0,653.5 894.6,653.5 896.2,653.5 897.7,653.4 899.3,653.4 900.8,653.4 902.4,653.4 903.9,653.4 905.5,653.3 907.0,653.3 908.6,653.3 910.2,653.2 911.7,653.2 913.3,653.2 914.8,653.2 916.4,653.1 917.9,653.1 919.5,653.1 921.0,653.0 922.6,653.0 924.1,653.0 925.7,652.9 927.3,652.9 928.8,652.9 930.4,652.8 931.9,652.8 933.5,652.8 935.0,652.7 936.6,652.7 938.1,652.7 939.7,652.6 941.3,652.6 942.8,652.5 944.4,652.5 945.9,652.4 947.5,652.3 949.0,652.3 950.6,652.2 952.1,652.1 953.7,652.0 955.2,651.9 956.8,651.8 958.4,651.7 959.9,651.6 961.5,651.4 963.0,651.3 964.6,651.2 966.1,651.0 967.7,650.9 969.2,650.7 970.8,650.6 972.4,650.4 973.9,650.3 975.5,650.1 977.0,649.9 978.6,649.8 980.1,649.6 981.7,649.4 983.2,649.2 984.8,649.0 986.3,648.9 987.9,648.7 989.5,648.5 991.0,648.3 992.6,648.1 994.1,647.9 995.7,647.7 997.2,647.5 998.8,647.3 1000.3,647.2 1001.9,647.0 1003.5,646.8 1005.0,646.6 1006.6,646.4 1008.1,646.2 1009.7,646.0 1011.2,645.8 1012.8,645.6 1014.3,645.4 1015.9,645.3 1017.4,645.1 1019.0,644.9 1020.6,644.7 1022.1,644.5 1023.7,644.4 1025.2,644.2 1026.8,644.0 1028.3,643.8 1029.9,643.6 1031.4,643.4 1033.0,643.3 1034.6,643.1 1036.1,642.9 1037.7,642.7 1039.2,642.5 1040.8,642.3 1042.3,642.1 1043.9,641.9 1045.4,641.7 1047.0,641.5 1048.5,641.3 1050.1,641.1 1051.7,640.9 1053.2,640.7 1054.8,640.5 1056.3,640.3 1057.9,640.1 1059.4,639.9 1061.0,639.7 1062.5,639.5 1064.1,639.2 1065.7,639.0 1067.2,638.8 1068.8,638.6 1070.3,638.4 1071.9,638.2 1073.4,637.9 1075.0,637.7 1076.5,637.5 1078.1,637.3 1079.6,637.0 1081.2,636.8 1082.8,636.6 1084.3,636.4 1085.9,636.1 1087.4,635.9 1089.0,635.7 1090.5,635.4 1092.1,635.2 1093.6,634.9 1095.2,634.7 1096.8,634.5 1098.3,634.2 1099.9,634.0 1101.4,633.7 1103.0,633.5 1104.5,633.2 1106.1,633.0 1107.6,632.7 1109.2,632.5 1110.7,632.2 1112.3,632.0 1113.9,631.7 1115.4,631.5 1117.0,631.2 1118.5,630.9 1120.1,630.7 1121.6,630.4 1123.2,630.2 1124.7,629.9 1126.3,629.6 1127.9,629.3 1129.4,629.1 1131.0,628.8 1132.5,628.5 1134.1,628.3 1135.6,628.0 1137.2,627.7 1138.7,627.4 1140.3,627.1 1141.8,626.8 1143.4,626.6 1145.0,626.3 1146.5,626.0 1148.1,625.7 1149.6,625.4 1151.2,625.1 1152.7,624.8 1154.3,624.5 1155.8,624.2 1157.4,623.9 1159.0,623.6 1160.5,623.3 1162.1,623.0 1163.6,622.6 1165.2,622.3 1166.7,622.0 1168.3,621.7 1169.8,621.4 1171.4,621.0 1172.9,620.7 1174.5,620.4 1176.1,620.1 1177.6,619.7 1179.2,619.4 1180.7,619.0 1182.3,618.7 1183.8,618.4 1185.4,618.0 1186.9,617.7 1188.5,617.3 1190.1,617.0 1191.6,616.6 1193.2,616.2 1194.7,615.9 1196.3,615.5 1197.8,615.1 1199.4,614.8 1200.9,614.4 1202.5,614.0 1204.0,613.6 1205.6,613.2 1207.2,612.8 1208.7,612.4 1210.3,612.0 1211.8,611.6 1213.4,611.2 1214.9,610.8 1216.5,610.3 1218.0,609.9 1219.6,609.5 1221.2,609.0 1222.7,608.6 1224.3,608.1 1225.8,607.7 1227.4,607.2 1228.9,606.7 1230.5,606.3 1232.0,605.8 1233.6,605.3 1235.1,604.8 1236.7,604.3 1238.3,603.9 1239.8,603.4 1241.4,602.9 1242.9,602.4 1244.5,601.9 1246.0,601.4 1247.6,600.9 1249.1,600.4 1250.7,599.8 1252.3,599.3 1253.8,598.8 1255.4,598.3 1256.9,597.8 1258.5,597.3 1260.0,596.7 1261.6,596.2 1263.1,595.7 1264.7,595.2 1266.2,594.7 1267.8,594.1 1269.4,593.6 1270.9,593.1 1272.5,592.5 1274.0,592.0 1275.6,591.5 1277.1,591.0 1278.7,590.4 1280.2,589.9 1281.8,589.4 1283.4,588.9 1284.9,588.3 1286.5,587.8 1288.0,587.3 1289.6,586.7 1291.1,586.2 1292.7,585.7 1294.2,585.2 1295.8,584.7 1297.3,584.1 1298.9,583.6 1300.5,583.1 1302.0,582.6 1303.6,582.1 1305.1,581.6 1306.7,581.0 1308.2,580.5 1309.8,580.0 1311.3,579.4 1312.9,578.9 1314.5,578.3 1316.0,577.8 1317.6,577.2 1319.1,576.7 1320.7,576.1 1322.2,575.6 1323.8,575.0 1325.3,574.4 1326.9,573.9 1328.4,573.3 1330.0,572.8 1331.6,572.2 1333.1,571.6 1334.7,571.1 1336.2,570.5 1337.8,570.0 1339.3,569.4 1340.9,568.9 1342.4,568.3 1344.0,567.8 1345.6,567.2 1347.1,566.7 1348.7,566.1 1350.2,565.6 1351.8,565.0 1353.3,564.5 1354.9,564.0 1356.4,563.5 1358.0,563.0 1359.5,562.4 1361.1,561.9 1362.7,561.4 1364.2,560.9 1365.8,560.4 1367.3,560.0 1368.9,559.5 1370.4,559.0 1372.0,558.5 1373.5,558.1 1375.1,557.6 1376.7,557.2 1378.2,556.7 1379.8,556.3 1381.3,555.8 1382.9,555.4 1384.4,554.9 1386.0,554.5 1387.5,554.1 1389.1,553.6 1390.6,553.2 1392.2,552.8 1393.8,552.4 1395.3,551.9 1396.9,551.5 1398.4,551.1 1400.0,550.7 1401.5,550.3 1403.1,549.8 1404.6,549.4 1406.2,549.0 1407.8,548.6 1409.3,548.2 1410.9,547.8 1412.4,547.3 1414.0,546.9 1415.5,546.5 1417.1,546.1 1418.6,545.7 1420.2,545.2 1421.7,544.8 1423.3,544.4 1424.9,543.9 1426.4,543.5 1428.0,543.1 1429.5,542.7 1431.1,542.2 1432.6,541.8 1434.2,541.3 1435.7,540.9 1437.3,540.5 1438.9,540.0 1440.4,539.6 1442.0,539.2 1443.5,538.7 1445.1,538.3 1446.6,537.9 1448.2,537.4 1449.7,537.0 1451.3,536.6 1452.8,536.1 1454.4,535.7 1456.0,535.3 1457.5,534.8 1459.1,534.4 1460.6,534.0 1462.2,533.6 1463.7,533.2 1465.3,532.7 1466.8,532.3 1468.4,531.9 1470.0,531.5 1471.5,531.1 1473.1,530.7 1474.6,530.3 1476.2,529.9 1477.7,529.5 1479.3,529.1 1480.8,528.8 1482.4,528.4 1483.9,528.0 1485.5,527.6 1487.1,527.3 1488.6,526.9 1490.2,526.6 1491.7,526.2 1493.3,525.9 1494.8,525.5 1496.4,525.2 1497.9,524.8 1499.5,524.5 1501.1,524.1 1502.6,523.8 1504.2,523.5 1505.7,523.1 1507.3,522.8 1508.8,522.5 1510.4,522.2 1511.9,521.8 1513.5,521.5 1515.0,521.2 1516.6,520.9 1518.2,520.6 1519.7,520.2 1521.3,519.9 1522.8,519.6 1524.4,519.3 1525.9,519.0 1527.5,518.7 1529.0,518.4 1530.6,518.1 1532.2,517.8 1533.7,517.5 1535.3,517.2 1536.8,516.9 1538.4,516.6 1539.9,516.3 1541.5,516.0 1543.0,515.7 1544.6,515.4 1546.1,515.2 1547.7,514.9 1549.3,514.6 1550.8,514.3 1552.4,514.0 1553.9,513.7 1555.5,513.5 1557.0,513.2 1558.6,512.9 1560.1,512.6 1561.7,512.4 1563.3,512.1 1564.8,511.8 1566.4,511.5 1567.9,511.3 1569.5,511.0 1571.0,510.7 1572.6,510.5 1574.1,510.2 1575.7,509.9 1577.2,509.7 1578.8,509.4 1580.4,509.1 1581.9,508.9 1583.5,508.6 1585.0,508.4 1586.6,508.1 1588.1,507.8 1589.7,507.6 1591.2,507.3 1592.8,507.1 1594.4,506.8 1595.9,506.6 1597.5,506.3 1599.0,506.1 1600.6,505.8 1602.1,505.6 1603.7,505.3 1605.2,505.1 1606.8,504.8 1608.3,504.6 1609.9,504.4 1611.5,504.1 1613.0,503.9 1614.6,503.6 1616.1,503.4 1617.7,503.2 1619.2,502.9 1620.8,502.7 1622.3,502.5 1623.9,502.2 1625.5,502.0 1627.0,501.8 1628.6,501.6 1630.1,501.3 1631.7,501.1 1633.2,500.9 1634.8,500.7 1636.3,500.5 1637.9,500.2 1639.4,500.0 1641.0,499.8 1642.6,499.6 1644.1,499.4 1645.7,499.2 1647.2,499.0" fill="none" stroke="#e0242a" stroke-width="2.2" stroke-linejoin="round" />
<polyline points="241.5,609.3 243.1,607.8 244.6,606.4 246.2,604.9 247.7,603.5 249.3,602.0 250.8,600.5 252.4,599.0 253.9,597.3 255.5,595.2 257.1,592.2 258.6,587.7 260.2,580.6 261.7,570.0 263.3,555.7 264.8,538.8 266.4,522.0 267.9,509.1 269.5,504.0 271.0,507.9 272.6,519.2 274.2,533.9 275.7,548.5 277.3,560.2 278.8,568.1 280.4,572.7 281.9,574.8 283.5,575.5 285.0,575.5 286.6,575.1 288.2,574.7 289.7,574.2 291.3,573.8 292.8,573.4 294.4,573.0 295.9,572.5 297.5,572.0 299.0,571.4 300.6,570.7 302.1,569.6 303.7,568.0 305.3,565.4 306.8,560.8 308.4,553.1 309.9,540.4 311.5,520.5 313.0,491.3 314.6,451.1 316.1,399.6 317.7,338.9 319.3,273.7 320.8,211.0 322.4,159.6 323.9,128.2 325.5,122.5 327.0,143.9 328.6,187.9 330.1,246.8 331.7,311.6 333.2,374.4 334.8,429.4 336.4,473.8 337.9,506.8 339.5,529.7 341.0,544.5 342.6,553.6 344.1,558.8 345.7,561.6 347.2,563.1 348.8,563.9 350.4,564.2 351.9,564.4 353.5,564.4 355.0,564.2 356.6,563.8 358.1,562.9 359.7,561.0 361.2,557.0 362.8,549.4 364.3,536.6 365.9,516.6 367.5,489.2 369.0,455.9 370.6,421.2 372.1,391.7 373.7,374.8 375.2,375.4 376.8,393.2 378.3,423.2 379.9,457.9 381.5,490.9 383.0,517.8 384.6,537.1 386.1,549.4 387.7,556.5 389.2,560.1 390.8,561.4 392.3,561.3 393.9,559.5 395.4,555.2 397.0,546.4 398.6,530.2 400.1,502.9 401.7,460.6 403.2,401.2 404.8,326.2 406.3,241.8 407.9,159.6 409.4,94.7 411.0,61.6 412.6,68.7 414.1,113.7 415.7,184.8 417.2,265.2 418.8,338.7 420.3,392.2 421.9,417.3 423.4,411.0 425.0,376.2 426.5,321.2 428.1,259.8 429.7,208.7 431.2,184.1 432.8,194.8 434.3,238.5 435.9,303.5 437.4,375.0 439.0,440.4 440.5,492.4 442.1,529.1 443.7,552.4 445.2,565.8 446.8,573.1 448.3,576.9 449.9,579.0 451.4,580.3 453.0,581.2 454.5,582.0 456.1,582.6 457.6,583.3 459.2,583.8 460.8,584.4 462.3,584.9 463.9,585.4 465.4,585.9 467.0,586.4 468.5,586.8 470.1,587.3 471.6,587.7 473.2,588.2 474.8,588.6 476.3,589.0 477.9,589.4 479.4,589.9 481.0,590.3 482.5,590.7 484.1,591.1 485.6,591.5 487.2,591.9 488.7,592.2 490.3,592.6 491.9,593.0 493.4,593.4 495.0,593.7 496.5,594.1 498.1,594.4 499.6,594.7 501.2,595.0 502.7,595.3 504.3,595.6 505.9,595.8 507.4,596.0 509.0,596.1 510.5,595.9 512.1,595.2 513.6,593.5 515.2,589.7 516.7,582.4 518.3,569.2 519.8,547.7 521.4,515.8 523.0,473.0 524.5,421.8 526.1,367.7 527.6,319.4 529.2,286.9 530.7,278.1 532.3,295.4 533.8,334.5 535.4,386.4 537.0,441.4 538.5,491.5 540.1,532.1 541.6,561.7 543.2,581.4 544.7,593.6 546.3,600.6 547.8,604.5 549.4,606.8 550.9,608.2 552.5,609.2 554.1,610.0 555.6,610.7 557.2,611.4 558.7,612.0 560.3,612.6 561.8,613.2 563.4,613.8 564.9,614.4 566.5,614.9 568.1,615.4 569.6,615.9 571.2,616.4 572.7,616.9 574.3,617.4 575.8,617.8 577.4,618.2 578.9,618.5 580.5,618.6 582.0,618.3 583.6,617.0 585.2,614.2 586.7,609.6 588.3,603.2 589.8,596.2 591.4,590.5 592.9,588.0 594.5,589.5 596.0,593.6 597.6,597.6 599.2,598.5 600.7,594.1 602.3,583.9 603.8,569.0 605.4,551.9 606.9,536.7 608.5,527.4 610.0,526.9 611.6,535.7 613.1,551.1 614.7,569.6 616.3,587.5 617.8,602.4 619.4,613.4 620.9,620.7 622.5,625.1 624.0,627.6 625.6,629.1 627.1,629.9 628.7,630.5 630.3,630.9 631.8,631.3 633.4,631.7 634.9,632.1 636.5,632.4 638.0,632.8 639.6,633.1 641.1,633.4 642.7,633.7 644.2,634.0 645.8,634.3 647.4,634.6 648.9,634.9 650.5,635.2 652.0,635.5 653.6,635.8 655.1,636.0 656.7,636.3 658.2,636.6 659.8,636.8 661.4,637.1 662.9,637.3 664.5,637.6 666.0,637.8 667.6,638.0 669.1,638.3 670.7,638.5 672.2,638.7 673.8,638.9 675.3,639.1 676.9,639.3 678.5,639.4 680.0,639.6 681.6,639.7 683.1,639.9 684.7,640.0 686.2,640.1 687.8,640.1 689.3,640.0 690.9,639.6 692.5,638.7 694.0,636.4 695.6,631.8 697.1,622.9 698.7,607.7 700.2,584.3 701.8,552.2 703.3,513.7 704.9,474.1 706.4,441.3 708.0,423.6 709.6,426.2 711.1,448.4 712.7,484.0 714.2,524.3 715.8,562.1 717.3,592.7 718.9,614.5 720.4,628.5 722.0,636.7 723.6,641.0 725.1,643.3 726.7,644.5 728.2,645.1 729.8,645.6 731.3,645.9 732.9,646.2 734.4,646.5 736.0,646.7 737.5,647.0 739.1,647.1 740.7,647.3 742.2,647.5 743.8,647.6 745.3,647.7 746.9,647.8 748.4,647.8 750.0,647.5 751.5,646.9 753.1,645.5 754.7,643.0 756.2,638.8 757.8,632.8 759.3,625.3 760.9,616.9 762.4,609.3 764.0,604.1 765.5,603.0 767.1,606.2 768.6,612.9 770.2,621.3 771.8,629.7 773.3,636.9 774.9,642.3 776.4,646.0 778.0,648.2 779.5,649.4 781.1,650.1 782.6,650.5 784.2,650.8 785.8,650.9 787.3,651.1 788.9,651.2 790.4,651.4 792.0,651.5 793.5,651.6 795.1,651.7 796.6,651.8 798.2,651.9 799.7,652.0 801.3,652.1 802.9,652.2 804.4,652.3 806.0,652.4 807.5,652.5 809.1,652.5 810.6,652.6 812.2,652.7 813.7,652.8 815.3,652.8 816.9,652.9 818.4,653.0 820.0,653.0 821.5,653.1 823.1,653.2 824.6,653.2 826.2,653.3 827.7,653.3 829.3,653.4 830.8,653.4 832.4,653.4 834.0,653.5 835.5,653.5 837.1,653.5 838.6,653.6 840.2,653.6 841.7,653.6 843.3,653.6 844.8,653.7 846.4,653.7 848.0,653.7 849.5,653.7 851.1,653.7 852.6,653.7 854.2,653.7 855.7,653.7 857.3,653.7 858.8,653.7 860.4,653.7 861.9,653.6 863.5,653.6 865.1,653.6 866.6,653.6 868.2,653.6 869.7,653.6 871.3,653.6 872.8,653.6 874.4,653.6 875.9,653.5 877.5,653.5 879.1,653.5 880.6,653.5 882.2,653.5 883.7,653.5 885.3,653.4 886.8,653.4 888.4,653.4 889.9,653.4 891.5,653.3 893.0,653.3 894.6,653.3 896.2,653.3 897.7,653.2 899.3,653.2 900.8,653.2 902.4,653.1 903.9,653.1 905.5,653.1 907.0,653.0 908.6,653.0 910.2,652.9 911.7,652.9 913.3,652.8 914.8,652.8 916.4,652.7 917.9,652.7 919.5,652.6 921.0,652.5 922.6,652.4 924.1,652.2 925.7,651.9 927.3,651.4 928.8,650.6 930.4,649.0 931.9,646.4 933.5,642.4 935.0,636.5 936.6,628.7 938.1,619.0 939.7,608.3 941.3,597.9 942.8,589.2 944.4,584.1 945.9,583.5 947.5,587.6 949.0,595.5 950.6,605.6 952.1,616.3 953.7,626.1 955.2,634.2 956.8,640.3 958.4,644.6 959.9,647.2 961.5,648.8 963.0,649.6 964.6,650.0 966.1,650.1 967.7,650.1 969.2,650.1 970.8,650.0 972.4,649.8 973.9,649.7 975.5,649.6 977.0,649.4 978.6,649.2 980.1,649.1 981.7,648.9 983.2,648.7 984.8,648.5 986.3,648.3 987.9,648.1 989.5,647.9 991.0,647.6 992.6,647.4 994.1,647.0 995.7,646.6 997.2,646.0 998.8,645.0 1000.3,643.3 1001.9,640.6 1003.5,636.3 1005.0,630.2 1006.6,621.9 1008.1,611.7 1009.7,600.2 1011.2,588.7 1012.8,578.9 1014.3,572.6 1015.9,571.1 1017.4,574.8 1019.0,582.7 1020.6,593.1 1022.1,604.5 1023.7,615.1 1025.2,624.1 1026.8,630.9 1028.3,635.6 1029.9,638.6 1031.4,640.4 1033.0,641.3 1034.6,641.7 1036.1,641.9 1037.7,641.8 1039.2,641.7 1040.8,641.6 1042.3,641.5 1043.9,641.3 1045.4,641.1 1047.0,640.9 1048.5,640.7 1050.1,640.5 1051.7,640.3 1053.2,640.1 1054.8,639.9 1056.3,639.7 1057.9,639.5 1059.4,639.2 1061.0,639.0 1062.5,638.7 1064.1,638.4 1065.7,638.1 1067.2,637.8 1068.8,637.4 1070.3,636.9 1071.9,636.1 1073.4,634.4 1075.0,631.2 1076.5,625.2 1078.1,614.9 1079.6,599.1 1081.2,578.1 1082.8,554.4 1084.3,532.5 1085.9,518.5 1087.4,516.8 1089.0,528.0 1090.5,548.0 1092.1,570.7 1093.6,590.7 1095.2,604.5 1096.8,610.6 1098.3,609.9 1099.9,604.3 1101.4,597.1 1103.0,591.6 1104.5,590.8 1106.1,595.2 1107.6,603.1 1109.2,611.9 1110.7,619.4 1112.3,624.7 1113.9,627.7 1115.4,629.2 1117.0,629.7 1118.5,629.8 1120.1,629.7 1121.6,629.5 1123.2,629.2 1124.7,629.0 1126.3,628.7 1127.9,628.4 1129.4,628.1 1131.0,627.8 1132.5,627.4 1134.1,627.0 1135.6,626.6 1137.2,626.1 1138.7,625.2 1140.3,623.7 1141.8,620.7 1143.4,614.9 1145.0,604.2 1146.5,586.5 1148.1,561.0 1149.6,529.0 1151.2,495.4 1152.7,467.9 1154.3,454.5 1155.8,459.9 1157.4,482.0 1159.0,513.6 1160.5,546.4 1162.1,574.3 1163.6,594.5 1165.2,607.2 1166.7,614.2 1168.3,617.5 1169.8,618.9 1171.4,619.4 1172.9,619.4 1174.5,619.3 1176.1,619.1 1177.6,618.9 1179.2,618.6 1180.7,618.4 1182.3,618.1 1183.8,617.8 1185.4,617.5 1186.9,617.2 1188.5,616.8 1190.1,616.5 1191.6,616.2 1193.2,615.9 1194.7,615.5 1196.3,615.2 1197.8,614.8 1199.4,614.5 1200.9,614.1 1202.5,613.7 1204.0,613.3 1205.6,613.0 1207.2,612.6 1208.7,612.2 1210.3,611.8 1211.8,611.4 1213.4,610.9 1214.9,610.5 1216.5,610.1 1218.0,609.6 1219.6,609.2 1221.2,608.7 1222.7,608.3 1224.3,607.8 1225.8,607.3 1227.4,606.8 1228.9,606.3 1230.5,605.7 1232.0,604.9 1233.6,603.7 1235.1,601.7 1236.7,598.6 1238.3,594.2 1239.8,588.7 1241.4,583.3 1242.9,579.4 1244.5,578.2 1246.0,580.2 1247.6,584.2 1249.1,588.7 1250.7,592.6 1252.3,595.1 1253.8,596.2 1255.4,596.0 1256.9,594.7 1258.5,592.1 1260.0,588.1 1261.6,583.0 1263.1,577.7 1264.7,573.7 1266.2,572.1 1267.8,573.5 1269.4,577.1 1270.9,581.4 1272.5,585.2 1274.0,587.8 1275.6,589.2 1277.1,589.7 1278.7,589.7 1280.2,589.3 1281.8,588.8 1283.4,588.1 1284.9,587.2 1286.5,586.0 1288.0,584.3 1289.6,582.0 1291.1,578.9 1292.7,575.4 1294.2,571.7 1295.8,568.5 1297.3,566.6 1298.9,566.2 1300.5,567.4 1302.0,569.6 1303.6,572.2 1305.1,574.7 1306.7,576.6 1308.2,577.8 1309.8,578.3 1311.3,578.4 1312.9,578.2 1314.5,577.8 1316.0,577.3 1317.6,576.8 1319.1,576.2 1320.7,575.6 1322.2,574.8 1323.8,573.9 1325.3,572.8 1326.9,571.2 1328.4,569.1 1330.0,566.3 1331.6,562.8 1333.1,558.7 1334.7,554.2 1336.2,550.0 1337.8,546.5 1339.3,544.3 1340.9,543.9 1342.4,545.2 1344.0,547.7 1345.6,550.9 1347.1,554.2 1348.7,557.2 1350.2,559.5 1351.8,561.1 1353.3,562.1 1354.9,562.5 1356.4,562.5 1358.0,562.3 1359.5,562.0 1361.1,561.5 1362.7,561.1 1364.2,560.6 1365.8,560.1 1367.3,559.7 1368.9,559.2 1370.4,558.7 1372.0,558.3 1373.5,557.8 1375.1,557.3 1376.7,556.9 1378.2,556.4 1379.8,556.0 1381.3,555.5 1382.9,555.0 1384.4,554.5 1386.0,554.0 1387.5,553.4 1389.1,552.7 1390.6,551.7 1392.2,550.4 1393.8,548.6 1395.3,546.2 1396.9,543.3 1398.4,539.9 1400.0,536.3 1401.5,533.0 1403.1,530.4 1404.6,528.9 1406.2,528.9 1407.8,530.1 1409.3,532.3 1410.9,535.0 1412.4,537.7 1414.0,540.0 1415.5,541.7 1417.1,542.9 1418.6,543.4 1420.2,543.3 1421.7,542.5 1423.3,540.9 1424.9,538.2 1426.4,534.6 1428.0,530.4 1429.5,526.7 1431.1,524.5 1432.6,524.6 1434.2,526.8 1435.7,529.9 1437.3,533.1 1438.9,535.5 1440.4,536.9 1442.0,537.5 1443.5,537.6 1445.1,537.3 1446.6,536.9 1448.2,536.4 1449.7,535.9 1451.3,535.4 1452.8,534.8 1454.4,534.0 1456.0,532.9 1457.5,531.2 1459.1,528.0 1460.6,522.4 1462.2,512.6 1463.7,497.3 1465.3,475.4 1466.8,447.6 1468.4,416.9 1470.0,388.6 1471.5,368.9 1473.1,363.2 1474.6,373.2 1476.2,395.7 1477.7,424.7 1479.3,454.1 1480.8,479.3 1482.4,498.2 1483.9,510.7 1485.5,518.1 1487.1,522.0 1488.6,523.8 1490.2,524.5 1491.7,524.6 1493.3,524.5 1494.8,524.3 1496.4,524.1 1497.9,523.8 1499.5,523.6 1501.1,523.3 1502.6,523.0 1504.2,522.7 1505.7,522.4 1507.3,522.0 1508.8,521.7 1510.4,521.3 1511.9,521.0 1513.5,520.6 1515.0,520.0 1516.6,519.3 1518.2,518.0 1519.7,515.9 1521.3,512.3 1522.8,506.6 1524.4,498.2 1525.9,487.3 1527.5,474.8 1529.0,462.6 1530.6,453.3 1532.2,449.2 1533.7,451.4 1535.3,459.3 1536.8,470.6 1538.4,482.6 1539.9,493.3 1541.5,501.4 1543.0,506.9 1544.6,509.9 1546.1,511.0 1547.7,510.8 1549.3,509.5 1550.8,507.4 1552.4,504.6 1553.9,501.4 1555.5,498.1 1557.0,495.2 1558.6,493.1 1560.1,492.3 1561.7,492.8 1563.3,494.6 1564.8,497.1 1566.4,499.9 1567.9,502.5 1569.5,504.8 1571.0,506.4 1572.6,507.5 1574.1,508.1 1575.7,508.2 1577.2,507.9 1578.8,507.0 1580.4,505.3 1581.9,502.3 1583.5,497.3 1585.0,490.1 1586.6,480.6 1588.1,469.7 1589.7,458.9 1591.2,450.6 1592.8,446.8 1594.4,448.7 1595.9,455.5 1597.5,465.3 1599.0,475.9 1600.6,485.3 1602.1,492.6 1603.7,497.4 1605.2,500.0 1606.8,501.0 1608.3,500.8 1609.9,499.6 1611.5,497.7 1613.0,495.3 1614.6,492.7 1616.1,490.1 1617.7,488.0 1619.2,486.7 1620.8,486.5 1622.3,487.4 1623.9,489.1 1625.5,491.3 1627.0,493.6 1628.6,495.6 1630.1,497.3 1631.7,498.4 1633.2,499.2 1634.8,499.6 1636.3,499.8 1637.9,499.8 1639.4,499.7 1641.0,499.5 1642.6,499.3 1644.1,499.2 1645.7,499.0 1647.2,498.8" fill="none" stroke="#138a13" stroke-width="2.0" stroke-linejoin="round" />
</g>
<g clip-path="url(#c3)">
<path d="M234.5 1690.6h14M241.5 1683.6v14M236.1 1708.7h14M243.1 1701.7v14M237.6 1698.1h14M244.6 1691.1v14M239.2 1675.7h14M246.2 1668.7v14M240.7 1703.2h14M247.7 1696.2v14M242.3 1708.6h14M249.3 1701.6v14M243.8 1681.2h14M250.8 1674.2v14M245.4 1694.6h14M252.4 1687.6v14M246.9 1698.7h14M253.9 1691.7v14M248.5 1704.1h14M255.5 1697.1v14M250.1 1716.4h14M257.1 1709.4v14M251.6 1713.3h14M258.6 1706.3v14M253.2 1710.3h14M260.2 1703.3v14M254.7 1706.9h14M261.7 1699.9v14M256.3 1701.1h14M263.3 1694.1v14M257.8 1701.7h14M264.8 1694.7v14M259.4 1704.3h14M266.4 1697.3v14M260.9 1696.8h14M267.9 1689.8v14M262.5 1706.0h14M269.5 1699.0v14M264.0 1717.3h14M271.0 1710.3v14M265.6 1693.6h14M272.6 1686.6v14M267.2 1703.6h14M274.2 1696.6v14M268.7 1700.1h14M275.7 1693.1v14M270.3 1697.1h14M277.3 1690.1v14M271.8 1711.7h14M278.8 1704.7v14M273.4 1709.7h14M280.4 1702.7v14M274.9 1689.8h14M281.9 1682.8v14M276.5 1687.8h14M283.5 1680.8v14M278.0 1697.2h14M285.0 1690.2v14M279.6 1684.1h14M286.6 1677.1v14M281.2 1693.1h14M288.2 1686.1v14M282.7 1706.6h14M289.7 1699.6v14M284.3 1694.6h14M291.3 1687.6v14M285.8 1669.2h14M292.8 1662.2v14M287.4 1704.7h14M294.4 1697.7v14M288.9 1674.4h14M295.9 1667.4v14M290.5 1669.8h14M297.5 1662.8v14M292.0 1660.4h14M299.0 1653.4v14M293.6 1687.4h14M300.6 1680.4v14M295.1 1643.1h14M302.1 1636.1v14M296.7 1663.0h14M303.7 1656.0v14M298.3 1669.0h14M305.3 1662.0v14M299.8 1680.6h14M306.8 1673.6v14M301.4 1679.2h14M308.4 1672.2v14M302.9 1694.9h14M309.9 1687.9v14M304.5 1704.2h14M311.5 1697.2v14M306.0 1687.6h14M313.0 1680.6v14M307.6 1709.8h14M314.6 1702.8v14M309.1 1717.0h14M316.1 1710.0v14M310.7 1691.4h14M317.7 1684.4v14M312.3 1697.5h14M319.3 1690.5v14M313.8 1687.6h14M320.8 1680.6v14M315.4 1721.2h14M322.4 1714.2v14M316.9 1687.7h14M323.9 1680.7v14M318.5 1695.6h14M325.5 1688.6v14M320.0 1683.8h14M327.0 1676.8v14M321.6 1728.5h14M328.6 1721.5v14M323.1 1707.9h14M330.1 1700.9v14M324.7 1723.1h14M331.7 1716.1v14M326.2 1738.7h14M333.2 1731.7v14M327.8 1722.3h14M334.8 1715.3v14M329.4 1699.9h14M336.4 1692.9v14M330.9 1724.0h14M337.9 1717.0v14M332.5 1714.7h14M339.5 1707.7v14M334.0 1695.0h14M341.0 1688.0v14M335.6 1691.3h14M342.6 1684.3v14M337.1 1684.6h14M344.1 1677.6v14M338.7 1704.8h14M345.7 1697.8v14M340.2 1697.2h14M347.2 1690.2v14M341.8 1684.7h14M348.8 1677.7v14M343.4 1710.2h14M350.4 1703.2v14M344.9 1716.1h14M351.9 1709.1v14M346.5 1693.1h14M353.5 1686.1v14M348.0 1682.2h14M355.0 1675.2v14M349.6 1716.7h14M356.6 1709.7v14M351.1 1735.3h14M358.1 1728.3v14M352.7 1720.8h14M359.7 1713.8v14M354.2 1713.3h14M361.2 1706.3v14M355.8 1708.8h14M362.8 1701.8v14M357.3 1700.5h14M364.3 1693.5v14M358.9 1709.7h14M365.9 1702.7v14M360.5 1716.6h14M367.5 1709.6v14M362.0 1706.7h14M369.0 1699.7v14M363.6 1720.2h14M370.6 1713.2v14M365.1 1700.6h14M372.1 1693.6v14M366.7 1704.3h14M373.7 1697.3v14M368.2 1657.8h14M375.2 1650.8v14M369.8 1681.4h14M376.8 1674.4v14M371.3 1694.0h14M378.3 1687.0v14M372.9 1701.3h14M379.9 1694.3v14M374.5 1698.3h14M381.5 1691.3v14M376.0 1714.1h14M383.0 1707.1v14M377.6 1700.3h14M384.6 1693.3v14M379.1 1702.6h14M386.1 1695.6v14M380.7 1682.1h14M387.7 1675.1v14M382.2 1691.7h14M389.2 1684.7v14M383.8 1700.0h14M390.8 1693.0v14M385.3 1706.7h14M392.3 1699.7v14M386.9 1712.2h14M393.9 1705.2v14M388.4 1691.5h14M395.4 1684.5v14M390.0 1702.0h14M397.0 1695.0v14M391.6 1682.8h14M398.6 1675.8v14M393.1 1705.6h14M400.1 1698.6v14M394.7 1676.7h14M401.7 1669.7v14M396.2 1696.5h14M403.2 1689.5v14M397.8 1699.9h14M404.8 1692.9v14M399.3 1730.1h14M406.3 1723.1v14M400.9 1724.2h14M407.9 1717.2v14M402.4 1701.8h14M409.4 1694.8v14M404.0 1691.5h14M411.0 1684.5v14M405.6 1708.2h14M412.6 1701.2v14M407.1 1697.9h14M414.1 1690.9v14M408.7 1715.3h14M415.7 1708.3v14M410.2 1712.6h14M417.2 1705.6v14M411.8 1710.7h14M418.8 1703.7v14M413.3 1693.8h14M420.3 1686.8v14M414.9 1701.1h14M421.9 1694.1v14M416.4 1708.1h14M423.4 1701.1v14M418.0 1709.2h14M425.0 1702.2v14M419.5 1705.6h14M426.5 1698.6v14M421.1 1702.7h14M428.1 1695.7v14M422.7 1720.5h14M429.7 1713.5v14M424.2 1685.0h14M431.2 1678.0v14M425.8 1707.4h14M432.8 1700.4v14M427.3 1710.5h14M434.3 1703.5v14M428.9 1691.6h14M435.9 1684.6v14M430.4 1696.9h14M437.4 1689.9v14M432.0 1720.1h14M439.0 1713.1v14M433.5 1712.7h14M440.5 1705.7v14M435.1 1733.3h14M442.1 1726.3v14M436.7 1731.1h14M443.7 1724.1v14M438.2 1750.7h14M445.2 1743.7v14M439.8 1698.3h14M446.8 1691.3v14M441.3 1746.8h14M448.3 1739.8v14M442.9 1718.7h14M449.9 1711.7v14M444.4 1734.6h14M451.4 1727.6v14M446.0 1738.2h14M453.0 1731.2v14M447.5 1736.2h14M454.5 1729.2v14M449.1 1733.7h14M456.1 1726.7v14M450.6 1731.9h14M457.6 1724.9v14M452.2 1726.1h14M459.2 1719.1v14M453.8 1756.6h14M460.8 1749.6v14M455.3 1750.1h14M462.3 1743.1v14M456.9 1771.1h14M463.9 1764.1v14M458.4 1756.5h14M465.4 1749.5v14M460.0 1759.5h14M467.0 1752.5v14M461.5 1764.8h14M468.5 1757.8v14M463.1 1761.0h14M470.1 1754.0v14M464.6 1754.1h14M471.6 1747.1v14M466.2 1744.5h14M473.2 1737.5v14M467.8 1746.1h14M474.8 1739.1v14M469.3 1755.3h14M476.3 1748.3v14M470.9 1761.1h14M477.9 1754.1v14M472.4 1738.7h14M479.4 1731.7v14M474.0 1771.1h14M481.0 1764.1v14M475.5 1760.0h14M482.5 1753.0v14M477.1 1732.0h14M484.1 1725.0v14M478.6 1783.5h14M485.6 1776.5v14M480.2 1760.9h14M487.2 1753.9v14M481.7 1739.5h14M488.7 1732.5v14M483.3 1762.6h14M490.3 1755.6v14M484.9 1709.1h14M491.9 1702.1v14M486.4 1780.2h14M493.4 1773.2v14M488.0 1733.6h14M495.0 1726.6v14M489.5 1737.7h14M496.5 1730.7v14M491.1 1750.1h14M498.1 1743.1v14M492.6 1754.7h14M499.6 1747.7v14M494.2 1746.9h14M501.2 1739.9v14M495.7 1766.4h14M502.7 1759.4v14M497.3 1748.1h14M504.3 1741.1v14M498.9 1774.5h14M505.9 1767.5v14M500.4 1777.0h14M507.4 1770.0v14M502.0 1764.4h14M509.0 1757.4v14M503.5 1787.3h14M510.5 1780.3v14M505.1 1775.0h14M512.1 1768.0v14M506.6 1768.7h14M513.6 1761.7v14M508.2 1786.7h14M515.2 1779.7v14M509.7 1747.9h14M516.7 1740.9v14M511.3 1758.3h14M518.3 1751.3v14M512.8 1784.0h14M519.8 1777.0v14M514.4 1768.4h14M521.4 1761.4v14M516.0 1776.8h14M523.0 1769.8v14M517.5 1774.4h14M524.5 1767.4v14M519.1 1768.1h14M526.1 1761.1v14M520.6 1775.8h14M527.6 1768.8v14M522.2 1745.8h14M529.2 1738.8v14M523.7 1765.3h14M530.7 1758.3v14M525.3 1742.1h14M532.3 1735.1v14M526.8 1753.8h14M533.8 1746.8v14M528.4 1736.1h14M535.4 1729.1v14M530.0 1751.8h14M537.0 1744.8v14M531.5 1748.3h14M538.5 1741.3v14M533.1 1762.4h14M540.1 1755.4v14M534.6 1738.2h14M541.6 1731.2v14M536.2 1733.7h14M543.2 1726.7v14M537.7 1714.7h14M544.7 1707.7v14M539.3 1724.5h14M546.3 1717.5v14M540.8 1729.2h14M547.8 1722.2v14M542.4 1736.0h14M549.4 1729.0v14M543.9 1734.5h14M550.9 1727.5v14M545.5 1747.8h14M552.5 1740.8v14M547.1 1730.7h14M554.1 1723.7v14M548.6 1749.2h14M555.6 1742.2v14M550.2 1769.6h14M557.2 1762.6v14M551.7 1765.0h14M558.7 1758.0v14M553.3 1744.3h14M560.3 1737.3v14M554.8 1765.2h14M561.8 1758.2v14M556.4 1766.7h14M563.4 1759.7v14M557.9 1752.9h14M564.9 1745.9v14M559.5 1785.3h14M566.5 1778.3v14M561.1 1777.5h14M568.1 1770.5v14M562.6 1774.0h14M569.6 1767.0v14M564.2 1794.8h14M571.2 1787.8v14M565.7 1745.4h14M572.7 1738.4v14M567.3 1759.6h14M574.3 1752.6v14M568.8 1750.2h14M575.8 1743.2v14M570.4 1745.8h14M577.4 1738.8v14M571.9 1721.2h14M578.9 1714.2v14M573.5 1736.1h14M580.5 1729.1v14M575.0 1731.9h14M582.0 1724.9v14M576.6 1754.1h14M583.6 1747.1v14M578.2 1738.1h14M585.2 1731.1v14M579.7 1752.7h14M586.7 1745.7v14M581.3 1730.2h14M588.3 1723.2v14M582.8 1732.4h14M589.8 1725.4v14M584.4 1736.8h14M591.4 1729.8v14M585.9 1708.6h14M592.9 1701.6v14M587.5 1729.3h14M594.5 1722.3v14M589.0 1730.0h14M596.0 1723.0v14M590.6 1731.9h14M597.6 1724.9v14M592.2 1739.7h14M599.2 1732.7v14M593.7 1724.8h14M600.7 1717.8v14M595.3 1730.6h14M602.3 1723.6v14M596.8 1761.7h14M603.8 1754.7v14M598.4 1733.4h14M605.4 1726.4v14M599.9 1731.5h14M606.9 1724.5v14M601.5 1725.7h14M608.5 1718.7v14M603.0 1727.2h14M610.0 1720.2v14M604.6 1748.5h14M611.6 1741.5v14M606.1 1749.5h14M613.1 1742.5v14M607.7 1717.3h14M614.7 1710.3v14M609.3 1734.1h14M616.3 1727.1v14M610.8 1760.0h14M617.8 1753.0v14M612.4 1733.2h14M619.4 1726.2v14M613.9 1738.7h14M620.9 1731.7v14M615.5 1754.6h14M622.5 1747.6v14M617.0 1762.5h14M624.0 1755.5v14M618.6 1750.8h14M625.6 1743.8v14M620.1 1719.4h14M627.1 1712.4v14M621.7 1725.6h14M628.7 1718.6v14M623.3 1718.8h14M630.3 1711.8v14M624.8 1704.2h14M631.8 1697.2v14M626.4 1693.6h14M633.4 1686.6v14M627.9 1735.3h14M634.9 1728.3v14M629.5 1700.2h14M636.5 1693.2v14M631.0 1700.4h14M638.0 1693.4v14M632.6 1701.8h14M639.6 1694.8v14M634.1 1679.0h14M641.1 1672.0v14M635.7 1644.1h14M642.7 1637.1v14M637.2 1614.6h14M644.2 1607.6v14M638.8 1578.9h14M645.8 1571.9v14M640.4 1495.9h14M647.4 1488.9v14M641.9 1374.6h14M648.9 1367.6v14M643.5 1326.5h14M650.5 1319.5v14M645.0 1234.9h14M652.0 1227.9v14M646.6 1141.8h14M653.6 1134.8v14M648.1 1099.4h14M655.1 1092.4v14M649.7 1102.3h14M656.7 1095.3v14M651.2 1161.7h14M658.2 1154.7v14M652.8 1209.0h14M659.8 1202.0v14M654.4 1323.1h14M661.4 1316.1v14M655.9 1413.9h14M662.9 1406.9v14M657.5 1488.2h14M664.5 1481.2v14M659.0 1542.1h14M666.0 1535.1v14M660.6 1583.9h14M667.6 1576.9v14M662.1 1609.2h14M669.1 1602.2v14M663.7 1631.6h14M670.7 1624.6v14M665.2 1628.8h14M672.2 1621.8v14M666.8 1648.1h14M673.8 1641.1v14M668.3 1640.2h14M675.3 1633.2v14M669.9 1677.9h14M676.9 1670.9v14M671.5 1679.0h14M678.5 1672.0v14M673.0 1652.9h14M680.0 1645.9v14M674.6 1679.0h14M681.6 1672.0v14M676.1 1663.4h14M683.1 1656.4v14M677.7 1659.3h14M684.7 1652.3v14M679.2 1671.9h14M686.2 1664.9v14M680.8 1669.3h14M687.8 1662.3v14M682.3 1647.7h14M689.3 1640.7v14M683.9 1701.3h14M690.9 1694.3v14M685.5 1656.8h14M692.5 1649.8v14M687.0 1634.1h14M694.0 1627.1v14M688.6 1665.9h14M695.6 1658.9v14M690.1 1668.3h14M697.1 1661.3v14M691.7 1667.3h14M698.7 1660.3v14M693.2 1652.7h14M700.2 1645.7v14M694.8 1695.6h14M701.8 1688.6v14M696.3 1679.7h14M703.3 1672.7v14M697.9 1681.5h14M704.9 1674.5v14M699.4 1665.2h14M706.4 1658.2v14M701.0 1682.4h14M708.0 1675.4v14M702.6 1677.5h14M709.6 1670.5v14M704.1 1695.9h14M711.1 1688.9v14M705.7 1691.5h14M712.7 1684.5v14M707.2 1696.5h14M714.2 1689.5v14M708.8 1690.1h14M715.8 1683.1v14M710.3 1685.1h14M717.3 1678.1v14M711.9 1682.9h14M718.9 1675.9v14M713.4 1700.8h14M720.4 1693.8v14M715.0 1673.1h14M722.0 1666.1v14M716.6 1691.5h14M723.6 1684.5v14M718.1 1712.8h14M725.1 1705.8v14M719.7 1676.7h14M726.7 1669.7v14M721.2 1706.7h14M728.2 1699.7v14M722.8 1692.4h14M729.8 1685.4v14M724.3 1701.7h14M731.3 1694.7v14M725.9 1694.1h14M732.9 1687.1v14M727.4 1704.0h14M734.4 1697.0v14M729.0 1714.6h14M736.0 1707.6v14M730.5 1710.3h14M737.5 1703.3v14M732.1 1689.7h14M739.1 1682.7v14M733.7 1745.5h14M740.7 1738.5v14M735.2 1718.8h14M742.2 1711.8v14M736.8 1711.8h14M743.8 1704.8v14M738.3 1729.9h14M745.3 1722.9v14M739.9 1733.4h14M746.9 1726.4v14M741.4 1691.8h14M748.4 1684.8v14M743.0 1717.6h14M750.0 1710.6v14M744.5 1687.3h14M751.5 1680.3v14M746.1 1708.0h14M753.1 1701.0v14M747.7 1714.4h14M754.7 1707.4v14M749.2 1705.2h14M756.2 1698.2v14M750.8 1713.0h14M757.8 1706.0v14M752.3 1700.8h14M759.3 1693.8v14M753.9 1708.8h14M760.9 1701.8v14M755.4 1708.0h14M762.4 1701.0v14M757.0 1707.8h14M764.0 1700.8v14M758.5 1684.9h14M765.5 1677.9v14M760.1 1691.0h14M767.1 1684.0v14M761.6 1715.6h14M768.6 1708.6v14M763.2 1712.7h14M770.2 1705.7v14M764.8 1710.5h14M771.8 1703.5v14M766.3 1723.4h14M773.3 1716.4v14M767.9 1729.2h14M774.9 1722.2v14M769.4 1746.0h14M776.4 1739.0v14M771.0 1749.4h14M778.0 1742.4v14M772.5 1744.2h14M779.5 1737.2v14M774.1 1750.2h14M781.1 1743.2v14M775.6 1769.2h14M782.6 1762.2v14M777.2 1742.9h14M784.2 1735.9v14M778.8 1769.3h14M785.8 1762.3v14M780.3 1728.5h14M787.3 1721.5v14M781.9 1754.2h14M788.9 1747.2v14M783.4 1762.1h14M790.4 1755.1v14M785.0 1774.1h14M792.0 1767.1v14M786.5 1797.6h14M793.5 1790.6v14M788.1 1755.8h14M795.1 1748.8v14M789.6 1751.1h14M796.6 1744.1v14M791.2 1730.1h14M798.2 1723.1v14M792.7 1777.6h14M799.7 1770.6v14M794.3 1746.2h14M801.3 1739.2v14M795.9 1774.0h14M802.9 1767.0v14M797.4 1762.6h14M804.4 1755.6v14M799.0 1799.3h14M806.0 1792.3v14M800.5 1761.4h14M807.5 1754.4v14M802.1 1762.8h14M809.1 1755.8v14M803.6 1747.8h14M810.6 1740.8v14M805.2 1755.4h14M812.2 1748.4v14M806.7 1773.1h14M813.7 1766.1v14M808.3 1746.3h14M815.3 1739.3v14M809.9 1747.0h14M816.9 1740.0v14M811.4 1756.5h14M818.4 1749.5v14M813.0 1752.7h14M820.0 1745.7v14M814.5 1755.2h14M821.5 1748.2v14M816.1 1770.9h14M823.1 1763.9v14M817.6 1788.3h14M824.6 1781.3v14M819.2 1776.5h14M826.2 1769.5v14M820.7 1738.3h14M827.7 1731.3v14M822.3 1737.4h14M829.3 1730.4v14M823.8 1738.6h14M830.8 1731.6v14M825.4 1749.7h14M832.4 1742.7v14M827.0 1752.1h14M834.0 1745.1v14M828.5 1748.3h14M835.5 1741.3v14M830.1 1756.8h14M837.1 1749.8v14M831.6 1754.3h14M838.6 1747.3v14M833.2 1718.0h14M840.2 1711.0v14M834.7 1738.8h14M841.7 1731.8v14M836.3 1744.9h14M843.3 1737.9v14M837.8 1748.8h14M844.8 1741.8v14M839.4 1740.0h14M846.4 1733.0v14M841.0 1700.1h14M848.0 1693.1v14M842.5 1682.9h14M849.5 1675.9v14M844.1 1671.4h14M851.1 1664.4v14M845.6 1633.6h14M852.6 1626.6v14M847.2 1610.3h14M854.2 1603.3v14M848.7 1581.2h14M855.7 1574.2v14M850.3 1506.2h14M857.3 1499.2v14M851.8 1486.5h14M858.8 1479.5v14M853.4 1439.4h14M860.4 1432.4v14M854.9 1476.8h14M861.9 1469.8v14M856.5 1487.4h14M863.5 1480.4v14M858.1 1510.9h14M865.1 1503.9v14M859.6 1565.0h14M866.6 1558.0v14M861.2 1616.2h14M868.2 1609.2v14M862.7 1642.8h14M869.7 1635.8v14M864.3 1658.3h14M871.3 1651.3v14M865.8 1682.1h14M872.8 1675.1v14M867.4 1703.5h14M874.4 1696.5v14M868.9 1702.9h14M875.9 1695.9v14M870.5 1709.7h14M877.5 1702.7v14M872.1 1723.5h14M879.1 1716.5v14M873.6 1715.8h14M880.6 1708.8v14M875.2 1722.8h14M882.2 1715.8v14M876.7 1715.5h14M883.7 1708.5v14M878.3 1710.9h14M885.3 1703.9v14M879.8 1715.8h14M886.8 1708.8v14M881.4 1709.6h14M888.4 1702.6v14M882.9 1714.0h14M889.9 1707.0v14M884.5 1726.4h14M891.5 1719.4v14M886.0 1718.6h14M893.0 1711.6v14M887.6 1694.5h14M894.6 1687.5v14M889.2 1707.4h14M896.2 1700.4v14M890.7 1687.0h14M897.7 1680.0v14M892.3 1698.9h14M899.3 1691.9v14M893.8 1684.8h14M900.8 1677.8v14M895.4 1679.3h14M902.4 1672.3v14M896.9 1677.3h14M903.9 1670.3v14M898.5 1696.9h14M905.5 1689.9v14M900.0 1698.9h14M907.0 1691.9v14M901.6 1691.3h14M908.6 1684.3v14M903.2 1709.2h14M910.2 1702.2v14M904.7 1694.7h14M911.7 1687.7v14M906.3 1691.4h14M913.3 1684.4v14M907.8 1708.2h14M914.8 1701.2v14M909.4 1683.1h14M916.4 1676.1v14M910.9 1716.0h14M917.9 1709.0v14M912.5 1715.0h14M919.5 1708.0v14M914.0 1710.3h14M921.0 1703.3v14M915.6 1708.3h14M922.6 1701.3v14M917.1 1687.4h14M924.1 1680.4v14M918.7 1681.4h14M925.7 1674.4v14M920.3 1655.3h14M927.3 1648.3v14M921.8 1668.4h14M928.8 1661.4v14M923.4 1665.8h14M930.4 1658.8v14M924.9 1667.3h14M931.9 1660.3v14M926.5 1671.9h14M933.5 1664.9v14M928.0 1630.1h14M935.0 1623.1v14M929.6 1616.5h14M936.6 1609.5v14M931.1 1573.3h14M938.1 1566.3v14M932.7 1562.3h14M939.7 1555.3v14M934.3 1527.0h14M941.3 1520.0v14M935.8 1535.5h14M942.8 1528.5v14M937.4 1542.7h14M944.4 1535.7v14M938.9 1565.9h14M945.9 1558.9v14M940.5 1588.8h14M947.5 1581.8v14M942.0 1604.6h14M949.0 1597.6v14M943.6 1626.4h14M950.6 1619.4v14M945.1 1665.2h14M952.1 1658.2v14M946.7 1657.4h14M953.7 1650.4v14M948.2 1635.0h14M955.2 1628.0v14M949.8 1668.9h14M956.8 1661.9v14M951.4 1675.9h14M958.4 1668.9v14M952.9 1681.6h14M959.9 1674.6v14M954.5 1694.7h14M961.5 1687.7v14M956.0 1661.1h14M963.0 1654.1v14M957.6 1679.3h14M964.6 1672.3v14M959.1 1670.4h14M966.1 1663.4v14M960.7 1643.4h14M967.7 1636.4v14M962.2 1629.3h14M969.2 1622.3v14M963.8 1673.6h14M970.8 1666.6v14M965.4 1638.0h14M972.4 1631.0v14M966.9 1634.6h14M973.9 1627.6v14M968.5 1637.8h14M975.5 1630.8v14M970.0 1632.3h14M977.0 1625.3v14M971.6 1636.6h14M978.6 1629.6v14M973.1 1617.0h14M980.1 1610.0v14M974.7 1634.6h14M981.7 1627.6v14M976.2 1639.7h14M983.2 1632.7v14M977.8 1631.6h14M984.8 1624.6v14M979.3 1635.1h14M986.3 1628.1v14M980.9 1640.6h14M987.9 1633.6v14M982.5 1634.8h14M989.5 1627.8v14M984.0 1602.1h14M991.0 1595.1v14M985.6 1601.8h14M992.6 1594.8v14M987.1 1592.7h14M994.1 1585.7v14M988.7 1566.2h14M995.7 1559.2v14M990.2 1519.9h14M997.2 1512.9v14M991.8 1473.5h14M998.8 1466.5v14M993.3 1394.5h14M1000.3 1387.5v14M994.9 1326.9h14M1001.9 1319.9v14M996.5 1322.7h14M1003.5 1315.7v14M998.0 1278.5h14M1005.0 1271.5v14M999.6 1286.5h14M1006.6 1279.5v14M1001.1 1336.8h14M1008.1 1329.8v14M1002.7 1406.9h14M1009.7 1399.9v14M1004.2 1438.4h14M1011.2 1431.4v14M1005.8 1514.0h14M1012.8 1507.0v14M1007.3 1565.8h14M1014.3 1558.8v14M1008.9 1594.1h14M1015.9 1587.1v14M1010.4 1603.2h14M1017.4 1596.2v14M1012.0 1602.2h14M1019.0 1595.2v14M1013.6 1611.8h14M1020.6 1604.8v14M1015.1 1626.0h14M1022.1 1619.0v14M1016.7 1643.7h14M1023.7 1636.7v14M1018.2 1629.1h14M1025.2 1622.1v14M1019.8 1622.2h14M1026.8 1615.2v14M1021.3 1595.4h14M1028.3 1588.4v14M1022.9 1584.3h14M1029.9 1577.3v14M1024.4 1527.3h14M1031.4 1520.3v14M1026.0 1484.0h14M1033.0 1477.0v14M1027.6 1453.6h14M1034.6 1446.6v14M1029.1 1417.5h14M1036.1 1410.5v14M1030.7 1435.1h14M1037.7 1428.1v14M1032.2 1458.8h14M1039.2 1451.8v14M1033.8 1471.8h14M1040.8 1464.8v14M1035.3 1491.6h14M1042.3 1484.6v14M1036.9 1536.0h14M1043.9 1529.0v14M1038.4 1592.0h14M1045.4 1585.0v14M1040.0 1600.1h14M1047.0 1593.1v14M1041.5 1650.0h14M1048.5 1643.0v14M1043.1 1638.2h14M1050.1 1631.2v14M1044.7 1658.8h14M1051.7 1651.8v14M1046.2 1675.7h14M1053.2 1668.7v14M1047.8 1661.3h14M1054.8 1654.3v14M1049.3 1683.9h14M1056.3 1676.9v14M1050.9 1689.4h14M1057.9 1682.4v14M1052.4 1702.7h14M1059.4 1695.7v14M1054.0 1677.2h14M1061.0 1670.2v14M1055.5 1675.1h14M1062.5 1668.1v14M1057.1 1663.5h14M1064.1 1656.5v14M1058.7 1665.2h14M1065.7 1658.2v14M1060.2 1639.3h14M1067.2 1632.3v14M1061.8 1670.4h14M1068.8 1663.4v14M1063.3 1690.3h14M1070.3 1683.3v14M1064.9 1677.3h14M1071.9 1670.3v14M1066.4 1679.7h14M1073.4 1672.7v14M1068.0 1690.3h14M1075.0 1683.3v14M1069.5 1713.7h14M1076.5 1706.7v14M1071.1 1686.9h14M1078.1 1679.9v14M1072.6 1669.8h14M1079.6 1662.8v14M1074.2 1675.8h14M1081.2 1668.8v14M1075.8 1655.0h14M1082.8 1648.0v14M1077.3 1699.4h14M1084.3 1692.4v14M1078.9 1677.1h14M1085.9 1670.1v14M1080.4 1700.1h14M1087.4 1693.1v14M1082.0 1673.3h14M1089.0 1666.3v14M1083.5 1692.8h14M1090.5 1685.8v14M1085.1 1673.5h14M1092.1 1666.5v14M1086.6 1699.3h14M1093.6 1692.3v14M1088.2 1705.5h14M1095.2 1698.5v14M1089.8 1709.3h14M1096.8 1702.3v14M1091.3 1708.7h14M1098.3 1701.7v14M1092.9 1719.9h14M1099.9 1712.9v14M1094.4 1686.7h14M1101.4 1679.7v14M1096.0 1688.4h14M1103.0 1681.4v14M1097.5 1700.3h14M1104.5 1693.3v14M1099.1 1718.3h14M1106.1 1711.3v14M1100.6 1707.6h14M1107.6 1700.6v14M1102.2 1718.4h14M1109.2 1711.4v14M1103.7 1692.7h14M1110.7 1685.7v14M1105.3 1709.2h14M1112.3 1702.2v14M1106.9 1710.1h14M1113.9 1703.1v14M1108.4 1721.6h14M1115.4 1714.6v14M1110.0 1745.7h14M1117.0 1738.7v14M1111.5 1734.5h14M1118.5 1727.5v14M1113.1 1740.3h14M1120.1 1733.3v14M1114.6 1722.2h14M1121.6 1715.2v14M1116.2 1723.0h14M1123.2 1716.0v14M1117.7 1731.5h14M1124.7 1724.5v14M1119.3 1725.1h14M1126.3 1718.1v14M1120.9 1704.2h14M1127.9 1697.2v14M1122.4 1733.6h14M1129.4 1726.6v14M1124.0 1736.7h14M1131.0 1729.7v14M1125.5 1731.0h14M1132.5 1724.0v14M1127.1 1728.2h14M1134.1 1721.2v14M1128.6 1721.8h14M1135.6 1714.8v14M1130.2 1706.2h14M1137.2 1699.2v14M1131.7 1688.3h14M1138.7 1681.3v14M1133.3 1729.6h14M1140.3 1722.6v14M1134.8 1710.3h14M1141.8 1703.3v14M1136.4 1707.8h14M1143.4 1700.8v14M1138.0 1708.3h14M1145.0 1701.3v14M1139.5 1707.8h14M1146.5 1700.8v14M1141.1 1711.6h14M1148.1 1704.6v14M1142.6 1695.4h14M1149.6 1688.4v14M1144.2 1713.1h14M1151.2 1706.1v14M1145.7 1709.1h14M1152.7 1702.1v14M1147.3 1708.2h14M1154.3 1701.2v14M1148.8 1707.3h14M1155.8 1700.3v14M1150.4 1706.0h14M1157.4 1699.0v14M1152.0 1683.3h14M1159.0 1676.3v14M1153.5 1699.1h14M1160.5 1692.1v14M1155.1 1694.1h14M1162.1 1687.1v14M1156.6 1692.9h14M1163.6 1685.9v14M1158.2 1713.9h14M1165.2 1706.9v14M1159.7 1717.0h14M1166.7 1710.0v14M1161.3 1718.3h14M1168.3 1711.3v14M1162.8 1696.6h14M1169.8 1689.6v14M1164.4 1708.4h14M1171.4 1701.4v14M1165.9 1705.2h14M1172.9 1698.2v14M1167.5 1687.5h14M1174.5 1680.5v14M1169.1 1679.1h14M1176.1 1672.1v14M1170.6 1713.0h14M1177.6 1706.0v14M1172.2 1664.6h14M1179.2 1657.6v14M1173.7 1686.1h14M1180.7 1679.1v14M1175.3 1686.0h14M1182.3 1679.0v14M1176.8 1666.8h14M1183.8 1659.8v14M1178.4 1669.6h14M1185.4 1662.6v14M1179.9 1673.9h14M1186.9 1666.9v14M1181.5 1629.6h14M1188.5 1622.6v14M1183.1 1665.2h14M1190.1 1658.2v14M1184.6 1648.8h14M1191.6 1641.8v14M1186.2 1631.7h14M1193.2 1624.7v14M1187.7 1646.5h14M1194.7 1639.5v14M1189.3 1620.1h14M1196.3 1613.1v14M1190.8 1594.5h14M1197.8 1587.5v14M1192.4 1540.1h14M1199.4 1533.1v14M1193.9 1550.9h14M1200.9 1543.9v14M1195.5 1504.7h14M1202.5 1497.7v14M1197.0 1466.2h14M1204.0 1459.2v14M1198.6 1464.8h14M1205.6 1457.8v14M1200.2 1488.1h14M1207.2 1481.1v14M1201.7 1496.1h14M1208.7 1489.1v14M1203.3 1532.6h14M1210.3 1525.6v14M1204.8 1560.0h14M1211.8 1553.0v14M1206.4 1579.6h14M1213.4 1572.6v14M1207.9 1598.2h14M1214.9 1591.2v14M1209.5 1610.7h14M1216.5 1603.7v14M1211.0 1619.7h14M1218.0 1612.7v14M1212.6 1635.7h14M1219.6 1628.7v14M1214.2 1612.7h14M1221.2 1605.7v14M1215.7 1614.0h14M1222.7 1607.0v14M1217.3 1620.7h14M1224.3 1613.7v14M1218.8 1612.3h14M1225.8 1605.3v14M1220.4 1626.9h14M1227.4 1619.9v14M1221.9 1597.3h14M1228.9 1590.3v14M1223.5 1586.2h14M1230.5 1579.2v14M1225.0 1623.6h14M1232.0 1616.6v14M1226.6 1615.2h14M1233.6 1608.2v14M1228.1 1625.9h14M1235.1 1618.9v14M1229.7 1608.0h14M1236.7 1601.0v14M1231.3 1621.0h14M1238.3 1614.0v14M1232.8 1625.7h14M1239.8 1618.7v14M1234.4 1624.9h14M1241.4 1617.9v14M1235.9 1617.4h14M1242.9 1610.4v14M1237.5 1629.5h14M1244.5 1622.5v14M1239.0 1608.5h14M1246.0 1601.5v14M1240.6 1625.9h14M1247.6 1618.9v14M1242.1 1612.7h14M1249.1 1605.7v14M1243.7 1617.6h14M1250.7 1610.6v14M1245.3 1607.6h14M1252.3 1600.6v14M1246.8 1612.6h14M1253.8 1605.6v14M1248.4 1597.2h14M1255.4 1590.2v14M1249.9 1621.6h14M1256.9 1614.6v14M1251.5 1603.0h14M1258.5 1596.0v14M1253.0 1610.9h14M1260.0 1603.9v14M1254.6 1610.5h14M1261.6 1603.5v14M1256.1 1608.7h14M1263.1 1601.7v14M1257.7 1596.4h14M1264.7 1589.4v14M1259.2 1635.4h14M1266.2 1628.4v14M1260.8 1607.2h14M1267.8 1600.2v14M1262.4 1627.6h14M1269.4 1620.6v14M1263.9 1592.6h14M1270.9 1585.6v14M1265.5 1633.4h14M1272.5 1626.4v14M1267.0 1621.1h14M1274.0 1614.1v14M1268.6 1627.6h14M1275.6 1620.6v14M1270.1 1586.4h14M1277.1 1579.4v14M1271.7 1625.2h14M1278.7 1618.2v14M1273.2 1610.9h14M1280.2 1603.9v14M1274.8 1628.3h14M1281.8 1621.3v14M1276.4 1644.6h14M1283.4 1637.6v14M1277.9 1627.3h14M1284.9 1620.3v14M1279.5 1622.6h14M1286.5 1615.6v14M1281.0 1635.1h14M1288.0 1628.1v14M1282.6 1617.7h14M1289.6 1610.7v14M1284.1 1633.6h14M1291.1 1626.6v14M1285.7 1628.2h14M1292.7 1621.2v14M1287.2 1634.9h14M1294.2 1627.9v14M1288.8 1623.9h14M1295.8 1616.9v14M1290.3 1603.0h14M1297.3 1596.0v14M1291.9 1624.6h14M1298.9 1617.6v14M1293.5 1632.3h14M1300.5 1625.3v14M1295.0 1645.5h14M1302.0 1638.5v14M1296.6 1649.2h14M1303.6 1642.2v14M1298.1 1620.6h14M1305.1 1613.6v14M1299.7 1663.3h14M1306.7 1656.3v14M1301.2 1664.2h14M1308.2 1657.2v14M1302.8 1645.9h14M1309.8 1638.9v14M1304.3 1646.0h14M1311.3 1639.0v14M1305.9 1620.9h14M1312.9 1613.9v14M1307.5 1672.9h14M1314.5 1665.9v14M1309.0 1633.1h14M1316.0 1626.1v14M1310.6 1622.5h14M1317.6 1615.5v14M1312.1 1651.2h14M1319.1 1644.2v14M1313.7 1640.0h14M1320.7 1633.0v14M1315.2 1626.9h14M1322.2 1619.9v14M1316.8 1609.1h14M1323.8 1602.1v14M1318.3 1652.2h14M1325.3 1645.2v14M1319.9 1658.5h14M1326.9 1651.5v14M1321.4 1622.7h14M1328.4 1615.7v14M1323.0 1617.6h14M1330.0 1610.6v14M1324.6 1627.2h14M1331.6 1620.2v14M1326.1 1639.0h14M1333.1 1632.0v14M1327.7 1584.3h14M1334.7 1577.3v14M1329.2 1596.9h14M1336.2 1589.9v14M1330.8 1579.5h14M1337.8 1572.5v14M1332.3 1613.6h14M1339.3 1606.6v14M1333.9 1631.0h14M1340.9 1624.0v14M1335.4 1645.9h14M1342.4 1638.9v14M1337.0 1633.6h14M1344.0 1626.6v14M1338.6 1633.1h14M1345.6 1626.1v14M1340.1 1682.0h14M1347.1 1675.0v14M1341.7 1666.1h14M1348.7 1659.1v14M1343.2 1628.2h14M1350.2 1621.2v14M1344.8 1660.4h14M1351.8 1653.4v14M1346.3 1675.4h14M1353.3 1668.4v14M1347.9 1658.9h14M1354.9 1651.9v14M1349.4 1658.0h14M1356.4 1651.0v14M1351.0 1657.7h14M1358.0 1650.7v14M1352.5 1659.2h14M1359.5 1652.2v14M1354.1 1661.3h14M1361.1 1654.3v14M1355.7 1659.3h14M1362.7 1652.3v14M1357.2 1653.5h14M1364.2 1646.5v14M1358.8 1667.5h14M1365.8 1660.5v14M1360.3 1660.8h14M1367.3 1653.8v14M1361.9 1655.8h14M1368.9 1648.8v14M1363.4 1633.0h14M1370.4 1626.0v14M1365.0 1639.3h14M1372.0 1632.3v14M1366.5 1649.3h14M1373.5 1642.3v14M1368.1 1635.4h14M1375.1 1628.4v14M1369.7 1635.3h14M1376.7 1628.3v14M1371.2 1629.7h14M1378.2 1622.7v14M1372.8 1639.3h14M1379.8 1632.3v14M1374.3 1622.9h14M1381.3 1615.9v14M1375.9 1633.4h14M1382.9 1626.4v14M1377.4 1650.5h14M1384.4 1643.5v14M1379.0 1648.5h14M1386.0 1641.5v14M1380.5 1627.1h14M1387.5 1620.1v14M1382.1 1629.9h14M1389.1 1622.9v14M1383.6 1629.9h14M1390.6 1622.9v14M1385.2 1646.9h14M1392.2 1639.9v14M1386.8 1654.8h14M1393.8 1647.8v14M1388.3 1627.5h14M1395.3 1620.5v14M1389.9 1620.8h14M1396.9 1613.8v14M1391.4 1619.3h14M1398.4 1612.3v14M1393.0 1647.0h14M1400.0 1640.0v14M1394.5 1622.7h14M1401.5 1615.7v14M1396.1 1642.6h14M1403.1 1635.6v14M1397.6 1634.1h14M1404.6 1627.1v14M1399.2 1643.9h14M1406.2 1636.9v14M1400.8 1671.0h14M1407.8 1664.0v14M1402.3 1662.7h14M1409.3 1655.7v14M1403.9 1684.7h14M1410.9 1677.7v14M1405.4 1666.7h14M1412.4 1659.7v14M1407.0 1675.3h14M1414.0 1668.3v14M1408.5 1631.8h14M1415.5 1624.8v14M1410.1 1641.3h14M1417.1 1634.3v14M1411.6 1630.4h14M1418.6 1623.4v14M1413.2 1643.8h14M1420.2 1636.8v14M1414.7 1662.4h14M1421.7 1655.4v14M1416.3 1652.8h14M1423.3 1645.8v14M1417.9 1662.6h14M1424.9 1655.6v14M1419.4 1658.2h14M1426.4 1651.2v14M1421.0 1659.1h14M1428.0 1652.1v14M1422.5 1676.6h14M1429.5 1669.6v14M1424.1 1670.8h14M1431.1 1663.8v14M1425.6 1671.0h14M1432.6 1664.0v14M1427.2 1673.9h14M1434.2 1666.9v14M1428.7 1662.2h14M1435.7 1655.2v14M1430.3 1652.1h14M1437.3 1645.1v14M1431.9 1668.0h14M1438.9 1661.0v14M1433.4 1671.6h14M1440.4 1664.6v14M1435.0 1691.4h14M1442.0 1684.4v14M1436.5 1654.7h14M1443.5 1647.7v14M1438.1 1650.9h14M1445.1 1643.9v14M1439.6 1681.0h14M1446.6 1674.0v14M1441.2 1641.9h14M1448.2 1634.9v14M1442.7 1633.8h14M1449.7 1626.8v14M1444.3 1646.8h14M1451.3 1639.8v14M1445.8 1642.1h14M1452.8 1635.1v14M1447.4 1645.6h14M1454.4 1638.6v14M1449.0 1614.1h14M1456.0 1607.1v14M1450.5 1636.6h14M1457.5 1629.6v14M1452.1 1617.6h14M1459.1 1610.6v14M1453.6 1583.2h14M1460.6 1576.2v14M1455.2 1598.1h14M1462.2 1591.1v14M1456.7 1591.1h14M1463.7 1584.1v14M1458.3 1595.8h14M1465.3 1588.8v14M1459.8 1613.2h14M1466.8 1606.2v14M1461.4 1597.4h14M1468.4 1590.4v14M1463.0 1595.1h14M1470.0 1588.1v14M1464.5 1618.8h14M1471.5 1611.8v14M1466.1 1602.9h14M1473.1 1595.9v14M1467.6 1585.4h14M1474.6 1578.4v14M1469.2 1585.4h14M1476.2 1578.4v14M1470.7 1613.1h14M1477.7 1606.1v14M1472.3 1600.2h14M1479.3 1593.2v14M1473.8 1604.9h14M1480.8 1597.9v14M1475.4 1567.4h14M1482.4 1560.4v14M1476.9 1572.4h14M1483.9 1565.4v14M1478.5 1571.8h14M1485.5 1564.8v14M1480.1 1595.1h14M1487.1 1588.1v14M1481.6 1605.4h14M1488.6 1598.4v14M1483.2 1590.1h14M1490.2 1583.1v14M1484.7 1590.5h14M1491.7 1583.5v14M1486.3 1600.2h14M1493.3 1593.2v14M1487.8 1581.7h14M1494.8 1574.7v14M1489.4 1573.2h14M1496.4 1566.2v14M1490.9 1576.7h14M1497.9 1569.7v14M1492.5 1596.5h14M1499.5 1589.5v14M1494.1 1619.7h14M1501.1 1612.7v14M1495.6 1584.9h14M1502.6 1577.9v14M1497.2 1567.8h14M1504.2 1560.8v14M1498.7 1561.5h14M1505.7 1554.5v14M1500.3 1542.1h14M1507.3 1535.1v14M1501.8 1513.1h14M1508.8 1506.1v14M1503.4 1479.4h14M1510.4 1472.4v14M1504.9 1468.7h14M1511.9 1461.7v14M1506.5 1462.7h14M1513.5 1455.7v14M1508.0 1485.6h14M1515.0 1478.6v14M1509.6 1494.8h14M1516.6 1487.8v14M1511.2 1500.9h14M1518.2 1493.9v14M1512.7 1539.0h14M1519.7 1532.0v14M1514.3 1557.3h14M1521.3 1550.3v14M1515.8 1554.9h14M1522.8 1547.9v14M1517.4 1551.2h14M1524.4 1544.2v14M1518.9 1569.7h14M1525.9 1562.7v14M1520.5 1556.2h14M1527.5 1549.2v14M1522.0 1578.2h14M1529.0 1571.2v14M1523.6 1580.2h14M1530.6 1573.2v14M1525.2 1588.8h14M1532.2 1581.8v14M1526.7 1581.3h14M1533.7 1574.3v14M1528.3 1554.0h14M1535.3 1547.0v14M1529.8 1573.7h14M1536.8 1566.7v14M1531.4 1567.2h14M1538.4 1560.2v14M1532.9 1563.3h14M1539.9 1556.3v14M1534.5 1575.9h14M1541.5 1568.9v14M1536.0 1580.8h14M1543.0 1573.8v14M1537.6 1569.6h14M1544.6 1562.6v14M1539.1 1560.8h14M1546.1 1553.8v14M1540.7 1568.3h14M1547.7 1561.3v14M1542.3 1570.6h14M1549.3 1563.6v14M1543.8 1572.4h14M1550.8 1565.4v14M1545.4 1590.6h14M1552.4 1583.6v14M1546.9 1589.6h14M1553.9 1582.6v14M1548.5 1600.3h14M1555.5 1593.3v14M1550.0 1570.6h14M1557.0 1563.6v14M1551.6 1609.9h14M1558.6 1602.9v14M1553.1 1571.4h14M1560.1 1564.4v14M1554.7 1531.7h14M1561.7 1524.7v14M1556.3 1566.4h14M1563.3 1559.4v14M1557.8 1578.2h14M1564.8 1571.2v14M1559.4 1567.5h14M1566.4 1560.5v14M1560.9 1563.1h14M1567.9 1556.1v14M1562.5 1585.8h14M1569.5 1578.8v14M1564.0 1581.5h14M1571.0 1574.5v14M1565.6 1586.8h14M1572.6 1579.8v14M1567.1 1591.2h14M1574.1 1584.2v14M1568.7 1543.7h14M1575.7 1536.7v14M1570.2 1586.3h14M1577.2 1579.3v14M1571.8 1595.0h14M1578.8 1588.0v14M1573.4 1590.1h14M1580.4 1583.1v14M1574.9 1577.9h14M1581.9 1570.9v14M1576.5 1570.8h14M1583.5 1563.8v14M1578.0 1558.5h14M1585.0 1551.5v14M1579.6 1563.2h14M1586.6 1556.2v14M1581.1 1583.0h14M1588.1 1576.0v14M1582.7 1561.3h14M1589.7 1554.3v14M1584.2 1567.7h14M1591.2 1560.7v14M1585.8 1567.1h14M1592.8 1560.1v14M1587.4 1582.4h14M1594.4 1575.4v14M1588.9 1576.5h14M1595.9 1569.5v14M1590.5 1572.5h14M1597.5 1565.5v14M1592.0 1576.8h14M1599.0 1569.8v14M1593.6 1601.7h14M1600.6 1594.7v14M1595.1 1577.8h14M1602.1 1570.8v14M1596.7 1572.7h14M1603.7 1565.7v14M1598.2 1591.6h14M1605.2 1584.6v14M1599.8 1575.9h14M1606.8 1568.9v14M1601.3 1579.2h14M1608.3 1572.2v14M1602.9 1557.8h14M1609.9 1550.8v14M1604.5 1604.5h14M1611.5 1597.5v14M1606.0 1577.3h14M1613.0 1570.3v14M1607.6 1596.2h14M1614.6 1589.2v14M1609.1 1579.6h14M1616.1 1572.6v14M1610.7 1558.6h14M1617.7 1551.6v14M1612.2 1579.7h14M1619.2 1572.7v14M1613.8 1561.8h14M1620.8 1554.8v14M1615.3 1580.7h14M1622.3 1573.7v14M1616.9 1540.2h14M1623.9 1533.2v14M1618.5 1563.8h14M1625.5 1556.8v14M1620.0 1563.7h14M1627.0 1556.7v14M1621.6 1603.1h14M1628.6 1596.1v14M1623.1 1595.4h14M1630.1 1588.4v14M1624.7 1574.5h14M1631.7 1567.5v14M1626.2 1584.3h14M1633.2 1577.3v14M1627.8 1584.8h14M1634.8 1577.8v14M1629.3 1578.0h14M1636.3 1571.0v14M1630.9 1601.0h14M1637.9 1594.0v14M1632.4 1569.4h14M1639.4 1562.4v14M1634.0 1589.8h14M1641.0 1582.8v14M1635.6 1577.0h14M1642.6 1570.0v14M1637.1 1591.0h14M1644.1 1584.0v14M1638.7 1579.7h14M1645.7 1572.7v14M1640.2 1601.7h14M1647.2 1594.7v14M854.4 1321.2h14M861.4 1314.2v14M855.0 1348.0h14M862.0 1341.0v14M856.0 1353.9h14M863.0 1346.9v14M853.0 1377.7h14M860.0 1370.7v14M854.0 1401.5h14M861.0 1394.5v14M855.5 1437.1h14M862.5 1430.1v14M934.9 1477.0h14M941.9 1470.0v14M935.5 1487.7h14M942.5 1480.7v14M934.0 1493.6h14M941.0 1486.6v14M1030.3 1312.3h14M1037.3 1305.3v14M1030.0 1318.2h14M1037.0 1311.2v14M1029.0 1371.7h14M1036.0 1364.7v14M1031.0 1407.4h14M1038.0 1400.4v14M1199.0 1425.2h14M1206.0 1418.2v14M1198.0 1437.1h14M1205.0 1430.1v14M1506.7 1455.0h14M1513.7 1448.0v14M1507.0 1463.9h14M1514.0 1456.9v14M998.0 1276.6h14M1005.0 1269.6v14" stroke="#1a1ad8" stroke-width="3.0" fill="none"/>
<polyline points="241.5,1695.3 243.1,1695.7 244.6,1696.1 246.2,1696.5 247.7,1696.9 249.3,1697.3 250.8,1697.7 252.4,1698.1 253.9,1698.6 255.5,1699.0 257.1,1699.4 258.6,1699.8 260.2,1700.2 261.7,1700.6 263.3,1701.0 264.8,1701.4 266.4,1701.8 267.9,1702.2 269.5,1702.7 271.0,1703.1 272.6,1703.5 274.2,1703.9 275.7,1704.3 277.3,1704.7 278.8,1705.1 280.4,1705.5 281.9,1705.9 283.5,1706.3 285.0,1706.8 286.6,1707.2 288.2,1707.6 289.7,1708.0 291.3,1708.4 292.8,1708.8 294.4,1709.2 295.9,1709.6 297.5,1710.0 299.0,1710.4 300.6,1710.9 302.1,1711.3 303.7,1711.7 305.3,1712.1 306.8,1712.5 308.4,1712.9 309.9,1713.3 311.5,1713.7 313.0,1714.1 314.6,1714.5 316.1,1715.0 317.7,1715.4 319.3,1715.8 320.8,1716.2 322.4,1716.6 323.9,1717.0 325.5,1717.4 327.0,1717.8 328.6,1718.2 330.1,1718.6 331.7,1719.1 333.2,1719.5 334.8,1719.9 336.4,1720.3 337.9,1720.7 339.5,1721.1 341.0,1721.5 342.6,1721.9 344.1,1722.0 345.7,1722.1 347.2,1722.1 348.8,1722.2 350.4,1722.3 351.9,1722.4 353.5,1722.4 355.0,1722.5 356.6,1722.6 358.1,1722.7 359.7,1722.7 361.2,1722.8 362.8,1722.9 364.3,1723.0 365.9,1723.0 367.5,1723.1 369.0,1723.2 370.6,1723.3 372.1,1723.3 373.7,1723.4 375.2,1723.5 376.8,1723.6 378.3,1723.6 379.9,1723.7 381.5,1723.8 383.0,1723.9 384.6,1723.9 386.1,1724.0 387.7,1724.1 389.2,1724.2 390.8,1724.2 392.3,1724.3 393.9,1724.4 395.4,1724.5 397.0,1724.5 398.6,1724.6 400.1,1724.7 401.7,1724.8 403.2,1724.8 404.8,1724.9 406.3,1725.0 407.9,1725.1 409.4,1725.2 411.0,1725.2 412.6,1725.3 414.1,1725.4 415.7,1725.5 417.2,1725.5 418.8,1725.6 420.3,1725.7 421.9,1725.8 423.4,1725.8 425.0,1725.9 426.5,1726.0 428.1,1726.1 429.7,1726.1 431.2,1726.2 432.8,1726.3 434.3,1726.4 435.9,1726.4 437.4,1726.5 439.0,1726.6 440.5,1726.7 442.1,1726.7 443.7,1726.8 445.2,1726.9 446.8,1727.0 448.3,1727.0 449.9,1727.1 451.4,1727.2 453.0,1727.4 454.5,1728.1 456.1,1728.7 457.6,1729.4 459.2,1730.1 460.8,1730.8 462.3,1731.5 463.9,1732.2 465.4,1732.8 467.0,1733.5 468.5,1734.2 470.1,1734.9 471.6,1735.6 473.2,1736.3 474.8,1736.9 476.3,1737.6 477.9,1738.3 479.4,1739.0 481.0,1739.7 482.5,1740.3 484.1,1741.0 485.6,1741.7 487.2,1742.4 488.7,1743.1 490.3,1743.8 491.9,1744.4 493.4,1745.1 495.0,1745.8 496.5,1746.5 498.1,1747.2 499.6,1747.9 501.2,1748.5 502.7,1749.2 504.3,1749.9 505.9,1750.6 507.4,1751.3 509.0,1752.0 510.5,1752.6 512.1,1753.3 513.6,1754.0 515.2,1754.7 516.7,1755.4 518.3,1756.1 519.8,1756.7 521.4,1757.4 523.0,1758.1 524.5,1758.8 526.1,1759.5 527.6,1760.2 529.2,1760.8 530.7,1761.5 532.3,1762.2 533.8,1762.9 535.4,1763.6 537.0,1764.2 538.5,1764.9 540.1,1765.6 541.6,1766.3 543.2,1767.0 544.7,1767.7 546.3,1768.3 547.8,1769.0 549.4,1769.7 550.9,1770.4 552.5,1771.1 554.1,1771.8 555.6,1772.4 557.2,1773.1 558.7,1773.8 560.3,1774.5 561.8,1774.1 563.4,1772.7 564.9,1771.3 566.5,1770.0 568.1,1768.6 569.6,1767.2 571.2,1765.9 572.7,1764.5 574.3,1763.1 575.8,1761.7 577.4,1760.4 578.9,1759.0 580.5,1757.6 582.0,1756.3 583.6,1754.9 585.2,1753.5 586.7,1752.2 588.3,1750.8 589.8,1749.4 591.4,1748.0 592.9,1746.7 594.5,1745.3 596.0,1743.9 597.6,1742.6 599.2,1741.2 600.7,1739.8 602.3,1738.5 603.8,1737.1 605.4,1735.7 606.9,1734.3 608.5,1733.0 610.0,1731.6 611.6,1730.2 613.1,1728.9 614.7,1727.5 616.3,1726.1 617.8,1724.8 619.4,1723.4 620.9,1722.0 622.5,1720.6 624.0,1719.3 625.6,1717.9 627.1,1716.5 628.7,1715.2 630.3,1713.8 631.8,1712.4 633.4,1711.1 634.9,1709.7 636.5,1708.3 638.0,1706.9 639.6,1705.6 641.1,1704.2 642.7,1702.8 644.2,1701.5 645.8,1700.1 647.4,1698.7 648.9,1697.4 650.5,1696.0 652.0,1694.6 653.6,1693.2 655.1,1691.9 656.7,1690.5 658.2,1689.1 659.8,1687.8 661.4,1686.4 662.9,1685.0 664.5,1683.6 666.0,1682.3 667.6,1680.9 669.1,1679.5 670.7,1678.2 672.2,1676.8 673.8,1676.7 675.3,1677.7 676.9,1678.7 678.5,1679.8 680.0,1680.8 681.6,1681.9 683.1,1682.9 684.7,1684.0 686.2,1685.0 687.8,1686.1 689.3,1687.1 690.9,1688.1 692.5,1689.2 694.0,1690.2 695.6,1691.3 697.1,1692.3 698.7,1693.4 700.2,1694.4 701.8,1695.5 703.3,1696.5 704.9,1697.6 706.4,1698.6 708.0,1699.6 709.6,1700.7 711.1,1701.7 712.7,1702.8 714.2,1703.8 715.8,1704.9 717.3,1705.9 718.9,1707.0 720.4,1708.0 722.0,1709.0 723.6,1710.1 725.1,1711.1 726.7,1712.2 728.2,1713.2 729.8,1714.3 731.3,1715.3 732.9,1716.4 734.4,1717.4 736.0,1718.4 737.5,1719.5 739.1,1720.5 740.7,1721.6 742.2,1722.6 743.8,1723.7 745.3,1724.7 746.9,1725.8 748.4,1726.8 750.0,1727.9 751.5,1728.9 753.1,1729.9 754.7,1731.0 756.2,1732.0 757.8,1733.1 759.3,1734.1 760.9,1735.2 762.4,1736.2 764.0,1737.3 765.5,1738.3 767.1,1739.3 768.6,1740.4 770.2,1741.4 771.8,1742.5 773.3,1743.5 774.9,1744.6 776.4,1745.6 778.0,1746.7 779.5,1747.7 781.1,1748.7 782.6,1749.8 784.2,1750.1 785.8,1749.4 787.3,1748.6 788.9,1747.9 790.4,1747.1 792.0,1746.4 793.5,1745.6 795.1,1744.9 796.6,1744.1 798.2,1743.3 799.7,1742.6 801.3,1741.8 802.9,1741.1 804.4,1740.3 806.0,1739.6 807.5,1738.8 809.1,1738.1 810.6,1737.3 812.2,1736.5 813.7,1735.8 815.3,1735.0 816.9,1734.3 818.4,1733.5 820.0,1732.8 821.5,1732.0 823.1,1731.2 824.6,1730.5 826.2,1729.7 827.7,1729.0 829.3,1728.2 830.8,1727.5 832.4,1726.7 834.0,1726.0 835.5,1725.2 837.1,1724.4 838.6,1723.7 840.2,1722.9 841.7,1722.2 843.3,1721.4 844.8,1720.7 846.4,1719.9 848.0,1719.2 849.5,1718.4 851.1,1717.6 852.6,1716.9 854.2,1716.1 855.7,1715.4 857.3,1714.6 858.8,1713.9 860.4,1713.1 861.9,1712.3 863.5,1711.6 865.1,1710.8 866.6,1710.1 868.2,1709.3 869.7,1708.6 871.3,1707.8 872.8,1707.1 874.4,1706.3 875.9,1705.5 877.5,1704.8 879.1,1704.0 880.6,1703.3 882.2,1702.5 883.7,1701.8 885.3,1701.0 886.8,1700.3 888.4,1699.5 889.9,1698.7 891.5,1698.0 893.0,1697.2 894.6,1696.5 896.2,1695.7 897.7,1695.0 899.3,1694.2 900.8,1693.5 902.4,1692.7 903.9,1691.9 905.5,1691.2 907.0,1690.4 908.6,1689.7 910.2,1688.9 911.7,1688.2 913.3,1687.4 914.8,1686.6 916.4,1685.9 917.9,1685.1 919.5,1684.4 921.0,1683.6 922.6,1682.9 924.1,1682.1 925.7,1681.4 927.3,1680.6 928.8,1679.5 930.4,1678.2 931.9,1677.0 933.5,1675.7 935.0,1674.4 936.6,1673.1 938.1,1671.8 939.7,1670.5 941.3,1669.3 942.8,1668.0 944.4,1666.7 945.9,1665.4 947.5,1664.1 949.0,1662.8 950.6,1661.5 952.1,1660.3 953.7,1659.0 955.2,1657.7 956.8,1656.4 958.4,1655.1 959.9,1653.8 961.5,1652.5 963.0,1651.3 964.6,1650.0 966.1,1648.7 967.7,1647.4 969.2,1646.1 970.8,1644.8 972.4,1643.6 973.9,1642.3 975.5,1641.0 977.0,1639.7 978.6,1638.4 980.1,1637.1 981.7,1635.8 983.2,1634.6 984.8,1633.3 986.3,1632.0 987.9,1630.7 989.5,1629.4 991.0,1628.1 992.6,1626.8 994.1,1625.6 995.7,1624.3 997.2,1623.0 998.8,1621.7 1000.3,1620.4 1001.9,1619.1 1003.5,1620.3 1005.0,1621.5 1006.6,1622.8 1008.1,1624.1 1009.7,1625.4 1011.2,1626.7 1012.8,1628.0 1014.3,1629.2 1015.9,1630.5 1017.4,1631.8 1019.0,1633.1 1020.6,1634.4 1022.1,1635.7 1023.7,1637.0 1025.2,1638.2 1026.8,1639.5 1028.3,1640.8 1029.9,1642.1 1031.4,1643.4 1033.0,1644.7 1034.6,1645.9 1036.1,1647.2 1037.7,1648.5 1039.2,1649.8 1040.8,1651.1 1042.3,1652.4 1043.9,1653.7 1045.4,1654.9 1047.0,1656.2 1048.5,1657.5 1050.1,1658.8 1051.7,1660.1 1053.2,1661.4 1054.8,1662.6 1056.3,1663.9 1057.9,1665.2 1059.4,1666.5 1061.0,1667.8 1062.5,1669.1 1064.1,1670.4 1065.7,1671.6 1067.2,1672.9 1068.8,1674.2 1070.3,1675.5 1071.9,1676.8 1073.4,1678.1 1075.0,1679.4 1076.5,1680.6 1078.1,1681.9 1079.6,1683.2 1081.2,1684.5 1082.8,1685.8 1084.3,1687.1 1085.9,1688.3 1087.4,1689.6 1089.0,1690.9 1090.5,1692.2 1092.1,1693.5 1093.6,1694.8 1095.2,1696.1 1096.8,1697.3 1098.3,1698.6 1099.9,1699.9 1101.4,1701.2 1103.0,1702.5 1104.5,1703.8 1106.1,1705.0 1107.6,1706.3 1109.2,1707.6 1110.7,1708.9 1112.3,1710.2 1113.9,1711.5 1115.4,1712.8 1117.0,1714.0 1118.5,1715.3 1120.1,1716.5 1121.6,1715.0 1123.2,1713.6 1124.7,1712.1 1126.3,1710.6 1127.9,1709.2 1129.4,1707.7 1131.0,1706.3 1132.5,1704.8 1134.1,1703.3 1135.6,1701.9 1137.2,1700.4 1138.7,1699.0 1140.3,1697.5 1141.8,1696.0 1143.4,1694.6 1145.0,1693.1 1146.5,1691.7 1148.1,1690.2 1149.6,1688.7 1151.2,1687.3 1152.7,1685.8 1154.3,1684.4 1155.8,1682.9 1157.4,1681.4 1159.0,1680.0 1160.5,1678.5 1162.1,1677.1 1163.6,1675.6 1165.2,1674.1 1166.7,1672.7 1168.3,1671.2 1169.8,1669.8 1171.4,1668.3 1172.9,1666.8 1174.5,1665.4 1176.1,1663.9 1177.6,1662.5 1179.2,1661.0 1180.7,1659.5 1182.3,1658.1 1183.8,1656.6 1185.4,1655.2 1186.9,1653.7 1188.5,1652.2 1190.1,1650.8 1191.6,1649.3 1193.2,1647.9 1194.7,1646.4 1196.3,1644.9 1197.8,1643.5 1199.4,1642.0 1200.9,1640.6 1202.5,1639.1 1204.0,1637.6 1205.6,1636.2 1207.2,1634.7 1208.7,1633.3 1210.3,1631.8 1211.8,1630.3 1213.4,1628.9 1214.9,1627.4 1216.5,1626.5 1218.0,1625.9 1219.6,1625.3 1221.2,1624.7 1222.7,1624.2 1224.3,1623.6 1225.8,1623.0 1227.4,1622.4 1228.9,1621.9 1230.5,1621.3 1232.0,1620.7 1233.6,1620.1 1235.1,1619.6 1236.7,1619.1 1238.3,1619.2 1239.8,1619.4 1241.4,1619.5 1242.9,1619.6 1244.5,1619.8 1246.0,1619.9 1247.6,1620.1 1249.1,1620.2 1250.7,1620.3 1252.3,1620.5 1253.8,1620.6 1255.4,1620.8 1256.9,1620.9 1258.5,1621.0 1260.0,1621.2 1261.6,1621.3 1263.1,1621.5 1264.7,1621.6 1266.2,1621.7 1267.8,1621.9 1269.4,1622.0 1270.9,1622.2 1272.5,1622.3 1274.0,1622.4 1275.6,1622.6 1277.1,1622.7 1278.7,1622.9 1280.2,1623.0 1281.8,1623.2 1283.4,1623.3 1284.9,1623.4 1286.5,1623.6 1288.0,1623.7 1289.6,1623.9 1291.1,1624.0 1292.7,1624.1 1294.2,1624.3 1295.8,1624.4 1297.3,1624.6 1298.9,1624.7 1300.5,1624.8 1302.0,1625.0 1303.6,1625.1 1305.1,1625.3 1306.7,1625.4 1308.2,1625.5 1309.8,1625.7 1311.3,1625.8 1312.9,1626.0 1314.5,1626.1 1316.0,1626.2 1317.6,1626.4 1319.1,1626.5 1320.7,1626.7 1322.2,1626.9 1323.8,1627.7 1325.3,1628.5 1326.9,1629.3 1328.4,1630.1 1330.0,1630.9 1331.6,1631.7 1333.1,1632.5 1334.7,1633.3 1336.2,1634.1 1337.8,1634.9 1339.3,1635.6 1340.9,1636.4 1342.4,1637.2 1344.0,1638.0 1345.6,1638.8 1347.1,1639.6 1348.7,1640.4 1350.2,1641.2 1351.8,1642.0 1353.3,1642.6 1354.9,1643.1 1356.4,1643.6 1358.0,1644.1 1359.5,1644.6 1361.1,1645.0 1362.7,1645.5 1364.2,1646.0 1365.8,1646.5 1367.3,1647.0 1368.9,1647.5 1370.4,1648.0 1372.0,1648.5 1373.5,1649.0 1375.1,1649.5 1376.7,1650.0 1378.2,1650.5 1379.8,1651.0 1381.3,1651.5 1382.9,1652.0 1384.4,1652.5 1386.0,1653.0 1387.5,1653.5 1389.1,1654.0 1390.6,1654.5 1392.2,1655.0 1393.8,1655.5 1395.3,1656.0 1396.9,1656.5 1398.4,1657.0 1400.0,1657.5 1401.5,1658.0 1403.1,1658.5 1404.6,1659.0 1406.2,1659.5 1407.8,1660.0 1409.3,1660.4 1410.9,1660.9 1412.4,1661.4 1414.0,1661.9 1415.5,1662.4 1417.1,1662.9 1418.6,1663.4 1420.2,1663.9 1421.7,1664.4 1423.3,1664.9 1424.9,1665.4 1426.4,1665.9 1428.0,1666.4 1429.5,1666.9 1431.1,1667.4 1432.6,1667.9 1434.2,1668.4 1435.7,1668.9 1437.3,1669.4 1438.9,1669.9 1440.4,1670.4 1442.0,1670.9 1443.5,1671.4 1445.1,1671.9 1446.6,1672.4 1448.2,1671.5 1449.7,1669.8 1451.3,1668.1 1452.8,1666.4 1454.4,1664.7 1456.0,1663.0 1457.5,1661.3 1459.1,1659.6 1460.6,1657.9 1462.2,1656.2 1463.7,1654.5 1465.3,1652.9 1466.8,1651.2 1468.4,1649.5 1470.0,1647.8 1471.5,1646.1 1473.1,1644.4 1474.6,1642.7 1476.2,1641.0 1477.7,1639.3 1479.3,1637.6 1480.8,1635.9 1482.4,1634.2 1483.9,1632.5 1485.5,1630.8 1487.1,1629.1 1488.6,1627.4 1490.2,1625.7 1491.7,1624.1 1493.3,1622.4 1494.8,1620.7 1496.4,1619.0 1497.9,1617.3 1499.5,1615.6 1501.1,1613.9 1502.6,1612.2 1504.2,1610.5 1505.7,1608.8 1507.3,1607.1 1508.8,1605.4 1510.4,1603.7 1511.9,1602.0 1513.5,1600.3 1515.0,1598.6 1516.6,1596.9 1518.2,1595.2 1519.7,1593.6 1521.3,1591.9 1522.8,1590.2 1524.4,1588.5 1525.9,1586.8 1527.5,1585.1 1529.0,1583.4 1530.6,1581.7 1532.2,1580.0 1533.7,1578.3 1535.3,1576.6 1536.8,1574.9 1538.4,1573.2 1539.9,1571.5 1541.5,1569.8 1543.0,1568.1 1544.6,1566.4 1546.1,1564.8 1547.7,1563.1 1549.3,1561.4 1550.8,1559.7 1552.4,1558.0 1553.9,1556.8 1555.5,1557.8 1557.0,1558.8 1558.6,1559.7 1560.1,1560.7 1561.7,1561.6 1563.3,1562.6 1564.8,1563.6 1566.4,1564.5 1567.9,1565.5 1569.5,1566.5 1571.0,1567.4 1572.6,1568.4 1574.1,1569.4 1575.7,1570.3 1577.2,1571.3 1578.8,1572.3 1580.4,1573.2 1581.9,1574.2 1583.5,1575.2 1585.0,1576.1 1586.6,1577.1 1588.1,1578.0 1589.7,1579.0 1591.2,1580.0 1592.8,1580.9 1594.4,1581.9 1595.9,1582.9 1597.5,1583.8 1599.0,1584.8 1600.6,1585.8 1602.1,1586.7 1603.7,1587.7 1605.2,1588.7 1606.8,1589.6 1608.3,1590.6 1609.9,1591.5 1611.5,1592.5 1613.0,1593.5 1614.6,1594.4 1616.1,1595.4 1617.7,1596.4 1619.2,1597.3 1620.8,1598.3 1622.3,1599.3 1623.9,1600.2 1625.5,1601.2 1627.0,1602.2 1628.6,1603.1 1630.1,1604.1 1631.7,1605.0 1633.2,1606.0 1634.8,1607.0 1636.3,1607.9 1637.9,1608.9 1639.4,1609.9 1641.0,1610.8 1642.6,1611.8 1644.1,1612.8 1645.7,1613.7 1647.2,1614.7" fill="none" stroke="#e0242a" stroke-width="2.2" stroke-linejoin="round" />
<polyline points="241.5,1695.2 243.1,1695.6 244.6,1696.0 246.2,1696.4 247.7,1696.8 249.3,1697.3 250.8,1697.7 252.4,1698.1 253.9,1698.5 255.5,1698.9 257.1,1699.3 258.6,1699.7 260.2,1700.1 261.7,1700.5 263.3,1700.9 264.8,1701.3 266.4,1701.7 267.9,1702.1 269.5,1702.5 271.0,1702.9 272.6,1703.3 274.2,1703.7 275.7,1704.1 277.3,1704.5 278.8,1704.9 280.4,1705.3 281.9,1705.7 283.5,1706.1 285.0,1706.5 286.6,1706.8 288.2,1707.2 289.7,1707.5 291.3,1707.6 292.8,1707.4 294.4,1706.5 295.9,1704.2 297.5,1699.9 299.0,1693.5 300.6,1685.6 302.1,1677.9 303.7,1673.0 305.3,1673.0 306.8,1678.0 308.4,1686.1 309.9,1695.0 311.5,1702.5 313.0,1707.8 314.6,1711.1 316.1,1713.0 317.7,1714.0 319.3,1714.5 320.8,1714.6 322.4,1714.1 323.9,1712.3 325.5,1707.8 327.0,1699.1 328.6,1684.9 330.1,1665.3 331.7,1643.5 333.2,1625.3 334.8,1617.2 336.4,1622.8 337.9,1639.8 339.5,1662.1 341.0,1683.5 342.6,1700.1 344.1,1710.6 345.7,1716.5 347.2,1719.4 348.8,1720.7 350.4,1721.3 351.9,1721.6 353.5,1721.8 355.0,1722.0 356.6,1722.1 358.1,1722.2 359.7,1722.3 361.2,1722.5 362.8,1722.6 364.3,1722.7 365.9,1722.8 367.5,1722.9 369.0,1723.0 370.6,1723.0 372.1,1723.1 373.7,1723.2 375.2,1723.3 376.8,1723.4 378.3,1723.5 379.9,1723.6 381.5,1723.6 383.0,1723.7 384.6,1723.8 386.1,1723.9 387.7,1724.0 389.2,1724.0 390.8,1724.1 392.3,1724.2 393.9,1724.3 395.4,1724.4 397.0,1724.4 398.6,1724.5 400.1,1724.6 401.7,1724.7 403.2,1724.7 404.8,1724.8 406.3,1724.9 407.9,1725.0 409.4,1725.1 411.0,1725.1 412.6,1725.2 414.1,1725.3 415.7,1725.4 417.2,1725.4 418.8,1725.5 420.3,1725.6 421.9,1725.7 423.4,1725.7 425.0,1725.8 426.5,1725.9 428.1,1726.0 429.7,1726.0 431.2,1726.1 432.8,1726.2 434.3,1726.3 435.9,1726.3 437.4,1726.4 439.0,1726.5 440.5,1726.6 442.1,1726.6 443.7,1726.7 445.2,1726.8 446.8,1726.9 448.3,1726.9 449.9,1727.0 451.4,1727.1 453.0,1727.3 454.5,1728.0 456.1,1728.6 457.6,1729.3 459.2,1730.0 460.8,1730.7 462.3,1731.4 463.9,1732.1 465.4,1732.7 467.0,1733.4 468.5,1734.1 470.1,1734.8 471.6,1735.5 473.2,1736.1 474.8,1736.8 476.3,1737.5 477.9,1738.2 479.4,1738.9 481.0,1739.6 482.5,1740.2 484.1,1740.9 485.6,1741.6 487.2,1742.3 488.7,1743.0 490.3,1743.6 491.9,1744.3 493.4,1745.0 495.0,1745.7 496.5,1746.4 498.1,1747.0 499.6,1747.7 501.2,1748.4 502.7,1749.1 504.3,1749.8 505.9,1750.4 507.4,1751.1 509.0,1751.8 510.5,1752.5 512.1,1753.2 513.6,1753.8 515.2,1754.5 516.7,1755.2 518.3,1755.9 519.8,1756.6 521.4,1757.2 523.0,1757.9 524.5,1758.6 526.1,1759.3 527.6,1760.0 529.2,1760.6 530.7,1761.3 532.3,1762.0 533.8,1762.7 535.4,1763.3 537.0,1764.0 538.5,1764.7 540.1,1765.4 541.6,1766.0 543.2,1766.7 544.7,1767.4 546.3,1768.1 547.8,1768.7 549.4,1769.4 550.9,1770.1 552.5,1770.7 554.1,1771.4 555.6,1772.1 557.2,1772.7 558.7,1773.4 560.3,1774.0 561.8,1773.6 563.4,1772.1 564.9,1770.6 566.5,1768.9 568.1,1767.0 569.6,1764.6 571.2,1761.3 572.7,1756.8 574.3,1751.0 575.8,1744.0 577.4,1736.4 578.9,1729.2 580.5,1723.8 582.0,1721.3 583.6,1722.0 585.2,1725.3 586.7,1730.0 588.3,1734.8 589.8,1738.7 591.4,1741.3 592.9,1742.5 594.5,1742.8 596.0,1742.2 597.6,1741.3 599.2,1740.1 600.7,1738.8 602.3,1737.4 603.8,1736.1 605.4,1734.7 606.9,1733.3 608.5,1731.9 610.0,1730.4 611.6,1729.0 613.1,1727.6 614.7,1726.1 616.3,1724.7 617.8,1723.2 619.4,1721.7 620.9,1720.2 622.5,1718.7 624.0,1717.1 625.6,1715.6 627.1,1714.0 628.7,1712.3 630.3,1710.6 631.8,1708.8 633.4,1706.8 634.9,1704.5 636.5,1701.4 638.0,1696.7 639.6,1689.1 641.1,1676.2 642.7,1654.6 644.2,1620.5 645.8,1570.0 647.4,1501.0 648.9,1415.3 650.5,1319.5 652.0,1225.5 653.6,1148.9 655.1,1105.0 656.7,1103.8 658.2,1145.4 659.8,1219.5 661.4,1310.8 662.9,1403.8 664.5,1486.7 666.0,1552.7 667.6,1600.3 669.1,1631.6 670.7,1650.3 672.2,1660.4 673.8,1666.5 675.3,1670.8 676.9,1673.6 678.5,1675.6 680.0,1677.2 681.6,1678.7 683.1,1680.1 684.7,1681.4 686.2,1682.7 687.8,1683.9 689.3,1685.2 690.9,1686.4 692.5,1687.5 694.0,1688.7 695.6,1689.8 697.1,1691.0 698.7,1692.1 700.2,1693.2 701.8,1694.3 703.3,1695.5 704.9,1696.6 706.4,1697.7 708.0,1698.7 709.6,1699.8 711.1,1700.9 712.7,1702.0 714.2,1703.1 715.8,1704.1 717.3,1705.2 718.9,1706.3 720.4,1707.3 722.0,1708.4 723.6,1709.5 725.1,1710.5 726.7,1711.6 728.2,1712.6 729.8,1713.7 731.3,1714.7 732.9,1715.8 734.4,1716.8 736.0,1717.9 737.5,1718.9 739.1,1720.0 740.7,1721.0 742.2,1722.0 743.8,1723.0 745.3,1724.1 746.9,1725.1 748.4,1726.1 750.0,1727.0 751.5,1727.9 753.1,1728.5 754.7,1728.7 756.2,1728.1 757.8,1726.2 759.3,1722.6 760.9,1716.9 762.4,1709.3 764.0,1700.8 765.5,1693.1 767.1,1688.0 768.6,1687.3 770.2,1691.6 771.8,1699.8 773.3,1710.1 774.9,1720.6 776.4,1729.7 778.0,1736.8 779.5,1741.9 781.1,1745.4 782.6,1747.8 784.2,1748.9 785.8,1748.4 787.3,1747.8 788.9,1747.2 790.4,1746.5 792.0,1745.7 793.5,1745.0 795.1,1744.3 796.6,1743.5 798.2,1742.8 799.7,1742.0 801.3,1741.3 802.9,1740.5 804.4,1739.8 806.0,1739.0 807.5,1738.2 809.1,1737.5 810.6,1736.7 812.2,1735.9 813.7,1735.2 815.3,1734.4 816.9,1733.6 818.4,1732.8 820.0,1732.0 821.5,1731.2 823.1,1730.4 824.6,1729.6 826.2,1728.8 827.7,1728.0 829.3,1727.2 830.8,1726.3 832.4,1725.5 834.0,1724.6 835.5,1723.7 837.1,1722.8 838.6,1721.7 840.2,1720.5 841.7,1719.0 843.3,1716.7 844.8,1713.2 846.4,1707.5 848.0,1698.3 849.5,1684.3 851.1,1664.1 852.6,1637.2 854.2,1604.2 855.7,1567.5 857.3,1531.3 858.8,1501.1 860.4,1482.5 861.9,1479.3 863.5,1492.1 865.1,1517.8 866.6,1551.3 868.2,1586.8 869.7,1619.8 871.3,1647.2 872.8,1667.8 874.4,1682.0 875.9,1691.0 877.5,1696.0 879.1,1698.6 880.6,1699.6 882.2,1699.8 883.7,1699.6 885.3,1699.2 886.8,1698.6 888.4,1698.0 889.9,1697.3 891.5,1696.7 893.0,1696.0 894.6,1695.3 896.2,1694.6 897.7,1693.9 899.3,1693.2 900.8,1692.4 902.4,1691.7 903.9,1690.9 905.5,1690.2 907.0,1689.4 908.6,1688.7 910.2,1687.9 911.7,1687.1 913.3,1686.3 914.8,1685.5 916.4,1684.7 917.9,1683.9 919.5,1683.0 921.0,1682.1 922.6,1681.0 924.1,1679.7 925.7,1677.8 927.3,1674.8 928.8,1669.7 930.4,1661.6 931.9,1649.8 933.5,1633.6 935.0,1613.3 936.6,1590.4 938.1,1567.8 939.7,1549.2 941.3,1538.5 942.8,1538.1 944.4,1547.7 945.9,1564.6 947.5,1584.9 949.0,1605.0 950.6,1622.1 952.1,1634.9 953.7,1643.5 955.2,1648.4 956.8,1650.8 958.4,1651.4 959.9,1651.1 961.5,1650.2 963.0,1649.0 964.6,1647.5 966.1,1645.6 967.7,1643.3 969.2,1640.5 970.8,1637.2 972.4,1633.7 973.9,1630.2 975.5,1627.3 977.0,1625.3 978.6,1624.5 980.1,1624.6 981.7,1625.2 983.2,1625.8 984.8,1625.9 986.3,1625.1 987.9,1622.8 989.5,1618.1 991.0,1609.7 992.6,1595.5 994.1,1572.8 995.7,1539.6 997.2,1494.9 998.8,1440.8 1000.3,1382.6 1001.9,1329.1 1003.5,1292.9 1005.0,1280.6 1006.6,1295.5 1008.1,1334.2 1009.7,1387.7 1011.2,1445.7 1012.8,1499.7 1014.3,1544.2 1015.9,1577.2 1017.4,1599.6 1019.0,1613.6 1020.6,1621.4 1022.1,1624.9 1023.7,1624.5 1025.2,1619.8 1026.8,1609.3 1028.3,1591.3 1029.9,1564.7 1031.4,1530.7 1033.0,1493.2 1034.6,1459.1 1036.1,1436.7 1037.7,1432.7 1039.2,1448.6 1040.8,1480.1 1042.3,1519.6 1043.9,1559.0 1045.4,1592.7 1047.0,1618.2 1048.5,1635.6 1050.1,1646.6 1051.7,1653.1 1053.2,1657.1 1054.8,1659.7 1056.3,1661.7 1057.9,1663.3 1059.4,1664.8 1061.0,1666.3 1062.5,1667.7 1064.1,1669.1 1065.7,1670.5 1067.2,1671.9 1068.8,1673.2 1070.3,1674.6 1071.9,1675.9 1073.4,1677.3 1075.0,1678.6 1076.5,1679.9 1078.1,1681.3 1079.6,1682.6 1081.2,1683.9 1082.8,1685.2 1084.3,1686.5 1085.9,1687.8 1087.4,1689.1 1089.0,1690.4 1090.5,1691.7 1092.1,1693.0 1093.6,1694.3 1095.2,1695.6 1096.8,1696.9 1098.3,1698.2 1099.9,1699.5 1101.4,1700.8 1103.0,1702.1 1104.5,1703.4 1106.1,1704.7 1107.6,1706.0 1109.2,1707.3 1110.7,1708.6 1112.3,1709.9 1113.9,1711.2 1115.4,1712.5 1117.0,1713.8 1118.5,1715.0 1120.1,1716.2 1121.6,1714.7 1123.2,1713.3 1124.7,1711.8 1126.3,1710.4 1127.9,1708.9 1129.4,1707.5 1131.0,1706.0 1132.5,1704.5 1134.1,1703.1 1135.6,1701.6 1137.2,1700.2 1138.7,1698.7 1140.3,1697.2 1141.8,1695.8 1143.4,1694.3 1145.0,1692.8 1146.5,1691.4 1148.1,1689.9 1149.6,1688.5 1151.2,1687.0 1152.7,1685.5 1154.3,1684.1 1155.8,1682.6 1157.4,1681.1 1159.0,1679.7 1160.5,1678.2 1162.1,1676.7 1163.6,1675.2 1165.2,1673.8 1166.7,1672.3 1168.3,1670.8 1169.8,1669.3 1171.4,1667.8 1172.9,1666.3 1174.5,1664.8 1176.1,1663.3 1177.6,1661.8 1179.2,1660.3 1180.7,1658.8 1182.3,1657.2 1183.8,1655.7 1185.4,1654.1 1186.9,1652.5 1188.5,1650.7 1190.1,1648.7 1191.6,1646.0 1193.2,1641.8 1194.7,1634.6 1196.3,1622.5 1197.8,1603.2 1199.4,1575.5 1200.9,1540.9 1202.5,1504.2 1204.0,1473.4 1205.6,1457.1 1207.2,1460.6 1208.7,1481.9 1210.3,1513.8 1211.8,1547.4 1213.4,1576.1 1214.9,1596.8 1216.5,1610.0 1218.0,1617.4 1219.6,1620.8 1221.2,1622.1 1222.7,1622.4 1224.3,1622.2 1225.8,1621.9 1227.4,1621.5 1228.9,1621.0 1230.5,1620.5 1232.0,1620.0 1233.6,1619.5 1235.1,1619.0 1236.7,1618.5 1238.3,1618.7 1239.8,1618.9 1241.4,1619.1 1242.9,1619.2 1244.5,1619.4 1246.0,1619.6 1247.6,1619.7 1249.1,1619.9 1250.7,1620.1 1252.3,1620.2 1253.8,1620.4 1255.4,1620.5 1256.9,1620.7 1258.5,1620.8 1260.0,1621.0 1261.6,1621.1 1263.1,1621.3 1264.7,1621.4 1266.2,1621.6 1267.8,1621.7 1269.4,1621.8 1270.9,1622.0 1272.5,1622.1 1274.0,1622.3 1275.6,1622.4 1277.1,1622.6 1278.7,1622.7 1280.2,1622.8 1281.8,1623.0 1283.4,1623.1 1284.9,1623.3 1286.5,1623.4 1288.0,1623.6 1289.6,1623.7 1291.1,1623.8 1292.7,1624.0 1294.2,1624.1 1295.8,1624.3 1297.3,1624.4 1298.9,1624.5 1300.5,1624.7 1302.0,1624.8 1303.6,1624.9 1305.1,1625.1 1306.7,1625.2 1308.2,1625.3 1309.8,1625.5 1311.3,1625.6 1312.9,1625.7 1314.5,1625.8 1316.0,1626.0 1317.6,1626.1 1319.1,1626.2 1320.7,1626.2 1322.2,1626.4 1323.8,1626.8 1325.3,1626.8 1326.9,1625.8 1328.4,1623.1 1330.0,1617.8 1331.6,1609.9 1333.1,1600.1 1334.7,1591.0 1336.2,1585.5 1337.8,1586.3 1339.3,1593.3 1340.9,1604.1 1342.4,1615.4 1344.0,1624.9 1345.6,1631.8 1347.1,1636.1 1348.7,1638.7 1350.2,1640.3 1351.8,1641.4 1353.3,1642.1 1354.9,1642.7 1356.4,1643.2 1358.0,1643.8 1359.5,1644.3 1361.1,1644.8 1362.7,1645.3 1364.2,1645.8 1365.8,1646.4 1367.3,1646.9 1368.9,1647.4 1370.4,1647.9 1372.0,1648.4 1373.5,1648.9 1375.1,1649.4 1376.7,1649.9 1378.2,1650.4 1379.8,1650.9 1381.3,1651.4 1382.9,1651.9 1384.4,1652.4 1386.0,1652.9 1387.5,1653.4 1389.1,1653.9 1390.6,1654.4 1392.2,1654.9 1393.8,1655.4 1395.3,1655.9 1396.9,1656.4 1398.4,1656.9 1400.0,1657.4 1401.5,1657.9 1403.1,1658.4 1404.6,1658.9 1406.2,1659.3 1407.8,1659.8 1409.3,1660.3 1410.9,1660.8 1412.4,1661.3 1414.0,1661.8 1415.5,1662.3 1417.1,1662.8 1418.6,1663.3 1420.2,1663.8 1421.7,1664.3 1423.3,1664.8 1424.9,1665.3 1426.4,1665.8 1428.0,1666.3 1429.5,1666.8 1431.1,1667.3 1432.6,1667.8 1434.2,1668.2 1435.7,1668.7 1437.3,1669.2 1438.9,1669.7 1440.4,1670.2 1442.0,1670.7 1443.5,1671.2 1445.1,1671.7 1446.6,1672.2 1448.2,1671.3 1449.7,1669.6 1451.3,1667.8 1452.8,1666.1 1454.4,1664.4 1456.0,1662.7 1457.5,1661.0 1459.1,1659.2 1460.6,1657.5 1462.2,1655.7 1463.7,1653.9 1465.3,1652.0 1466.8,1649.8 1468.4,1647.2 1470.0,1643.7 1471.5,1639.0 1473.1,1632.8 1474.6,1624.9 1476.2,1615.7 1477.7,1606.5 1479.3,1598.5 1480.8,1593.4 1482.4,1592.2 1483.9,1594.8 1485.5,1599.8 1487.1,1605.7 1488.6,1611.1 1490.2,1615.1 1491.7,1617.4 1493.3,1618.2 1494.8,1617.8 1496.4,1616.5 1497.9,1614.4 1499.5,1611.1 1501.1,1606.2 1502.6,1598.5 1504.2,1586.7 1505.7,1570.1 1507.3,1548.5 1508.8,1523.9 1510.4,1499.6 1511.9,1480.5 1513.5,1471.2 1515.0,1474.0 1516.6,1487.5 1518.2,1507.4 1519.7,1529.1 1521.3,1548.3 1522.8,1563.0 1524.4,1572.7 1525.9,1578.0 1527.5,1580.3 1529.0,1580.7 1530.6,1580.0 1532.2,1578.8 1533.7,1577.3 1535.3,1575.8 1536.8,1574.2 1538.4,1572.6 1539.9,1571.0 1541.5,1569.3 1543.0,1567.7 1544.6,1566.0 1546.1,1564.4 1547.7,1562.7 1549.3,1561.0 1550.8,1559.4 1552.4,1557.7 1553.9,1556.6 1555.5,1557.5 1557.0,1558.5 1558.6,1559.5 1560.1,1560.5 1561.7,1561.5 1563.3,1562.4 1564.8,1563.4 1566.4,1564.4 1567.9,1565.3 1569.5,1566.3 1571.0,1567.3 1572.6,1568.3 1574.1,1569.2 1575.7,1570.2 1577.2,1571.2 1578.8,1572.1 1580.4,1573.1 1581.9,1574.1 1583.5,1575.0 1585.0,1576.0 1586.6,1577.0 1588.1,1578.0 1589.7,1578.9 1591.2,1579.9 1592.8,1580.9 1594.4,1581.8 1595.9,1582.8 1597.5,1583.8 1599.0,1584.7 1600.6,1585.7 1602.1,1586.7 1603.7,1587.6 1605.2,1588.6 1606.8,1589.6 1608.3,1590.5 1609.9,1591.5 1611.5,1592.4 1613.0,1593.4 1614.6,1594.4 1616.1,1595.3 1617.7,1596.3 1619.2,1597.3 1620.8,1598.2 1622.3,1599.2 1623.9,1600.2 1625.5,1601.1 1627.0,1602.1 1628.6,1603.1 1630.1,1604.0 1631.7,1605.0 1633.2,1606.0 1634.8,1606.9 1636.3,1607.9 1637.9,1608.9 1639.4,1609.8 1641.0,1610.8 1642.6,1611.8 1644.1,1612.7 1645.7,1613.7 1647.2,1614.7" fill="none" stroke="#138a13" stroke-width="2.0" stroke-linejoin="round" />
</g>
<g clip-path="url(#c2)">
<polyline points="241.5,945.3 241.5,938.4 243.0,930.5 244.6,947.3 246.1,932.3 247.7,945.6 249.2,921.2 250.8,944.0 251.6,938.4 252.3,932.2 253.9,917.2 254.5,915.2 255.4,930.2 257.0,987.1 257.4,984.9 258.6,969.3 260.1,963.7 260.3,955.9 261.7,961.6 263.2,1000.4 264.7,1016.9 264.8,1010.8 266.3,1019.4 267.6,993.6 267.9,988.7 269.4,1023.8 271.0,1028.8 272.6,1049.6 274.1,1049.8 274.9,1063.4 275.7,1059.6 277.2,1005.6 277.8,999.5 278.8,991.2 280.3,945.4 281.9,921.8 282.1,909.4 283.4,952.0 283.6,961.7 285.0,956.0 286.5,922.8 287.9,910.8 288.1,921.6 289.7,919.2 291.2,980.3 292.8,978.7 293.7,1002.4 294.3,1000.0 295.9,987.3 297.4,981.9 298.1,979.1 299.0,977.2 300.5,992.5 302.1,973.9 303.7,1007.2 303.9,1002.4 305.2,980.2 306.8,975.1 306.8,953.0 308.3,971.4 309.7,1005.3 309.9,1003.7 311.4,984.7 313.0,986.5 314.5,958.3 315.5,955.9 316.1,967.4 317.6,918.8 319.2,923.6 319.9,915.2 320.8,908.8 322.3,939.7 323.9,940.5 324.3,953.0 325.4,934.5 327.0,898.1 327.2,900.7 328.5,934.3 330.1,947.2 331.5,979.1 331.6,979.0 333.2,949.4 334.8,955.0 335.9,934.1 336.3,931.7 337.9,970.8 339.4,976.4 341.0,1009.7 341.7,1011.1 342.5,994.7 344.1,980.2 345.6,932.8 347.2,925.0 347.5,915.2 348.7,938.2 350.3,986.7 351.9,1016.9 351.9,1012.9 353.4,1028.8 355.0,1013.8 356.5,1046.4 357.7,1034.3 358.1,1004.0 359.6,998.1 361.2,968.6 362.0,950.1 362.7,956.3 364.3,943.7 365.9,950.0 367.4,937.5 367.8,944.3 369.0,935.6 370.5,905.2 372.1,894.9 372.2,892.0 373.6,879.2 375.2,904.2 376.5,897.8 376.7,889.6 378.3,914.0 379.5,918.1 379.8,903.8 381.4,916.2 383.0,903.5 384.5,916.8 385.3,909.4 386.1,925.8 387.6,956.8 388.2,964.6 389.2,938.3 390.7,952.2 392.3,941.9 393.8,951.5 394.0,938.4 395.4,954.9 397.0,983.3 398.5,993.7 399.8,1016.9 400.1,1009.3 401.6,981.8 403.2,975.0 404.7,919.8 405.6,915.2 406.3,932.2 407.8,938.3 409.4,985.5 410.9,974.6 412.5,1017.4 412.9,1018.3 414.1,991.1 415.6,971.6 417.2,917.6 417.2,923.9 418.7,932.2 420.3,923.5 421.8,964.3 423.0,944.3 423.4,936.2 424.9,937.2 426.5,920.0 428.1,910.5 428.8,906.5 429.6,902.4 431.2,933.2 432.7,913.8 434.3,936.3 434.7,932.6 435.8,931.6 437.4,959.7 438.9,972.0 440.5,990.7 440.5,995.1 442.0,963.5 443.4,955.9 443.6,961.5 445.2,965.1 446.7,983.0 448.3,982.5 449.2,996.5 449.8,1002.3 451.4,983.1 452.9,995.3 454.5,953.1 455.0,955.9 456.0,951.7 457.6,942.2 459.2,947.9 460.7,930.2 460.8,935.5 462.3,958.7 463.8,969.9 465.4,1001.4 466.6,1011.1 466.9,1001.9 468.5,1005.4 470.0,981.8 471.6,986.1 472.4,970.4 473.1,958.3 474.7,976.1 476.3,965.8 477.8,978.4 478.2,973.3 479.4,956.0 480.9,942.6 481.1,932.6 482.5,921.1 484.0,926.2 485.5,921.0 485.6,917.2 487.1,917.3 488.7,883.4 489.3,896.3 490.3,909.1 491.8,911.2 492.8,935.5 493.4,945.7 494.9,944.0 496.5,986.7 497.1,982.0 498.0,967.6 499.6,955.3 501.1,928.4 501.5,929.7 502.7,937.4 504.2,943.7 505.8,969.9 507.3,964.6 507.4,958.1 508.9,967.5 510.5,956.4 512.0,975.2 513.6,956.0 514.5,961.7 515.1,965.6 516.7,956.8 518.2,979.8 519.8,983.3 520.4,993.6 521.4,987.3 522.9,961.7 524.5,960.1 526.0,930.0 526.2,941.3 527.6,964.0 529.1,983.3 530.5,1011.1 530.7,1015.5 532.2,995.3 533.8,989.7 535.3,977.0 536.3,979.1 536.9,987.8 538.5,993.8 540.0,1017.1 541.6,1009.5 542.1,1016.9 543.1,1013.8 544.7,981.2 546.2,965.5 547.8,934.8 549.3,928.7 550.9,909.4 550.9,902.6 552.5,938.3 554.0,918.7 555.6,945.0 556.7,947.2 557.1,948.9 558.7,959.6 560.2,963.0 561.8,982.4 562.5,979.1 563.3,960.4 564.9,964.8 565.4,950.1 566.4,964.9 568.0,1018.7 568.3,1011.1 569.6,995.4 571.1,1005.7 572.7,972.3 574.1,970.4 574.2,979.1 575.8,978.2 577.3,990.8 578.9,994.2 579.9,1005.3 580.4,1015.9 582.0,992.7 583.6,1004.1 585.1,984.8 585.7,987.8 586.7,997.7 588.2,1011.3 589.8,1047.8 590.1,1034.3 591.3,1007.0 592.9,1000.3 594.4,972.4 594.4,976.2 596.0,983.6 597.5,987.1 599.1,1001.3 600.3,999.5 600.7,989.8 602.2,1015.7 603.8,999.6 604.6,1016.9 605.3,1004.0 606.9,952.3 607.5,938.4 608.4,924.4 610.0,882.6 610.4,874.5 611.5,903.8 613.1,916.1 613.3,932.6 614.7,920.0 616.2,888.5 617.7,877.4 617.8,880.1 619.3,883.8 620.9,917.9 622.4,929.4 623.5,947.2 624.0,946.2 625.5,944.7 627.1,958.7 628.6,948.1 629.3,953.0 630.2,973.3 631.8,965.9 633.3,997.4 634.9,981.6 635.1,993.6 636.4,1005.6 638.0,1004.6 639.5,1023.4 641.1,1023.3 642.4,1031.4 642.6,1039.8 644.2,989.1 645.8,969.2 647.3,911.6 648.2,912.3 648.9,920.5 650.4,935.9 652.0,955.9 652.6,953.0 653.5,937.9 655.1,948.5 656.6,923.2 658.2,924.9 658.4,921.0 659.7,934.2 661.3,961.7 662.7,976.2 662.9,974.0 664.4,963.4 666.0,928.9 667.1,921.0 667.5,938.0 669.1,929.8 670.6,960.1 672.2,949.7 672.9,964.6 673.7,961.2 675.3,934.9 676.9,931.1 677.2,921.0 678.4,906.8 680.0,908.2 681.5,870.8 681.6,881.8 683.1,926.7 684.5,953.0 684.6,952.5 686.2,984.9 687.7,998.2 688.9,1019.8 689.3,1023.1 690.8,990.9 692.4,994.8 694.0,960.8 694.7,964.6 695.5,978.6 697.1,977.4 698.6,1019.4 699.0,1011.1 700.2,1012.0 701.7,1017.8 703.3,1012.1 704.8,1031.5 706.3,1025.6 706.4,1007.1 707.3,1025.6 708.0,1016.0 709.5,986.8 711.1,987.3 711.6,976.2 712.1,970.4 712.6,968.9 714.2,958.8 715.7,936.3 716.0,938.4 717.3,920.5 718.8,889.8 720.3,871.6 720.4,879.3 721.9,883.1 723.5,904.6 724.7,912.3 725.1,907.7 726.6,894.0 728.2,878.8 729.1,889.1 729.7,905.6 731.3,924.2 732.0,935.5 732.8,947.9 734.4,916.5 735.9,918.3 737.5,890.6 739.1,908.1 739.2,887.6 740.6,892.4 742.2,916.7 743.6,918.1 743.7,909.4 745.3,952.4 746.5,964.6 746.8,959.7 748.4,958.3 749.9,937.1 750.8,929.7 751.5,936.2 753.0,951.4 754.6,984.7 755.2,976.2 756.2,976.7 757.7,994.4 759.3,989.2 760.8,1018.1 762.4,1019.6 762.5,1022.7 763.9,1017.2 765.5,1001.4 767.0,993.0 768.3,982.0 768.6,977.0 770.2,982.5 771.7,966.1 773.3,968.8 774.8,952.7 775.5,953.0 776.4,976.9 777.9,957.3 779.5,978.3 781.0,971.2 781.3,982.0 782.6,978.7 784.1,965.0 785.7,974.8 787.2,955.9 787.3,944.2 788.8,962.7 790.4,944.4 791.9,958.1 793.0,958.8 793.5,949.2 795.0,962.4 796.6,946.9 797.3,944.3 798.1,957.1 799.7,965.4 801.3,991.8 802.8,986.3 803.1,999.5 804.4,1004.2 805.9,984.2 807.5,990.2 809.0,967.5 810.4,976.2 810.6,980.5 812.1,982.7 813.3,1008.2 813.7,1005.7 815.2,997.4 816.8,991.1 818.4,974.6 819.9,975.4 821.5,962.9 822.0,958.8 823.0,978.1 824.6,978.3 826.1,997.0 827.7,996.9 827.8,1002.4 829.2,994.3 830.8,984.6 832.4,988.4 833.6,970.4 833.9,955.4 835.5,979.6 837.0,972.8 838.6,983.1 840.1,975.9 841.7,996.9 842.4,987.8 843.2,990.9 844.8,1007.6 846.3,1009.6 846.7,1022.7 847.9,1004.0 849.5,951.5 849.6,953.0 851.0,959.8 852.6,951.3 854.1,957.7 855.7,963.8 856.9,964.6 857.2,967.0 858.8,948.6 860.3,944.8 861.9,926.2 862.1,929.7 863.5,944.5 865.0,938.3 866.6,966.6 867.1,967.5 868.1,964.3 869.7,974.7 871.2,972.9 872.8,992.8 874.3,979.1 874.3,976.8 875.9,970.8 877.4,954.8 879.0,956.9 880.1,947.2 880.6,952.1 882.1,971.3 883.7,955.8 885.2,975.9 885.9,976.2 886.8,955.6 888.3,942.4 889.4,921.0 889.9,919.3 891.4,953.5 893.0,964.8 894.6,984.6 894.7,990.7 896.1,996.8 897.7,1015.8 899.2,1020.1 900.5,1035.8 900.8,1049.5 902.3,987.7 903.9,987.8 904.8,947.2 905.4,937.0 907.0,949.6 908.5,944.6 910.1,952.2 911.7,947.7 912.1,953.0 913.2,984.7 914.8,1005.2 915.0,1014.0 916.3,1012.5 917.9,981.3 919.4,994.0 920.8,967.5 921.0,970.8 922.5,1005.6 923.7,1022.7 924.1,1006.8 925.7,995.2 927.2,966.9 928.8,953.6 929.5,932.6 930.3,936.7 931.9,993.4 933.4,1003.8 933.9,1031.4 935.0,1020.2 936.5,982.7 938.1,965.1 939.6,933.3 939.7,938.4 941.2,960.3 942.8,965.3 944.3,995.5 945.9,988.4 947.4,1028.7 948.4,1034.3 949.0,1027.4 950.5,1025.3 952.1,984.8 953.6,986.3 955.2,956.7 955.7,955.9 956.8,963.2 958.3,957.1 959.9,970.2 961.4,957.4 961.5,970.4 963.0,960.9 964.4,929.7 964.5,923.2 966.1,927.0 967.6,907.9 969.2,915.2 970.2,906.5 970.7,892.5 972.3,895.4 973.9,877.0 974.5,878.9 975.4,885.5 977.0,879.6 978.5,915.4 978.9,906.5 980.1,922.8 981.6,955.3 981.8,961.7 983.2,946.8 984.7,946.1 986.3,932.0 987.6,926.8 987.9,934.8 989.4,935.9 991.0,959.3 992.0,958.8 992.5,948.2 994.1,935.5 995.6,887.6 996.3,886.1 997.2,894.4 998.7,895.2 1000.3,922.0 1001.8,919.8 1002.1,929.7 1003.4,953.5 1005.0,939.9 1006.5,960.7 1008.0,953.0 1008.1,938.8 1009.6,957.8 1011.2,944.0 1012.7,940.9 1013.8,938.4 1014.3,941.1 1015.8,931.6 1017.4,905.3 1018.1,915.2 1019.0,941.1 1020.5,947.5 1022.1,974.0 1023.6,977.6 1025.2,1011.7 1025.4,1008.2 1026.7,992.7 1028.3,975.2 1029.8,950.6 1031.2,941.3 1031.4,947.2 1032.9,937.6 1034.5,943.6 1036.1,929.2 1037.0,938.4 1037.6,942.3 1039.2,944.9 1040.7,969.5 1042.3,962.5 1042.8,976.2 1043.8,970.4 1045.4,905.8 1045.7,912.3 1046.9,917.1 1048.5,905.9 1050.1,906.4 1051.6,903.7 1053.0,900.7 1053.2,899.4 1054.7,897.9 1056.3,912.3 1057.8,904.8 1059.4,928.7 1060.3,921.0 1060.9,907.5 1062.5,954.2 1064.0,939.8 1065.6,955.1 1066.1,947.2 1067.2,948.9 1068.7,975.2 1070.3,973.7 1071.8,994.8 1071.9,984.9 1073.4,984.4 1074.9,1001.6 1076.5,994.4 1078.0,1008.8 1079.6,1001.1 1081.2,1026.2 1082.7,1019.2 1083.5,1025.6 1084.3,1034.3 1085.8,1006.3 1087.4,1014.2 1088.9,983.8 1089.3,987.8 1090.5,990.6 1092.0,981.8 1093.6,1005.6 1095.1,1008.2 1095.1,999.3 1096.7,1007.8 1098.3,991.9 1099.5,990.7 1099.8,995.0 1101.4,993.0 1102.9,1016.9 1104.5,1017.0 1105.3,1025.6 1106.0,1030.1 1107.6,1005.5 1109.1,1000.2 1110.7,981.7 1112.3,984.6 1112.6,970.4 1113.8,977.5 1115.4,1001.7 1116.9,1001.1 1118.4,1011.1 1118.5,1012.4 1120.0,994.2 1121.6,989.4 1123.1,957.0 1124.7,971.6 1125.6,953.0 1126.2,953.8 1127.8,968.7 1129.4,946.7 1130.9,983.3 1132.5,958.5 1132.9,976.2 1134.0,980.2 1135.6,962.7 1137.1,967.2 1138.7,967.7 1140.2,959.9 1141.6,958.8 1141.8,950.2 1143.4,983.4 1144.9,999.9 1146.5,1029.3 1147.4,1040.1 1148.0,1017.5 1149.6,1033.3 1151.1,1008.7 1152.7,1022.7 1154.2,1006.8 1155.8,1008.5 1157.3,985.0 1158.9,994.3 1160.5,971.6 1162.0,977.9 1163.6,937.5 1165.1,953.8 1166.7,927.0 1168.2,949.6 1169.8,920.2 1170.0,929.0 1171.3,936.4 1172.9,918.7 1174.5,943.6 1176.0,944.1 1176.0,940.7 1177.6,954.2 1179.1,940.0 1180.7,963.2 1182.2,944.4 1183.5,956.1 1183.8,972.5 1185.3,982.1 1186.5,1016.1 1186.9,1018.3 1188.4,972.7 1189.5,962.1 1190.0,980.4 1191.6,985.3 1193.1,1023.6 1194.0,1031.1 1194.7,1025.1 1196.2,1011.7 1197.8,981.9 1199.3,983.2 1200.0,962.1 1200.9,953.8 1202.4,956.9 1204.0,944.1 1204.5,950.1 1205.6,964.3 1207.1,969.5 1208.7,1006.2 1209.0,1010.1 1210.2,1000.6 1211.8,997.8 1213.3,981.7 1213.5,980.1 1214.9,1010.9 1216.4,1017.8 1216.5,1025.1 1218.0,1006.3 1219.5,976.8 1221.1,958.7 1222.5,932.1 1222.7,935.5 1224.2,961.1 1225.8,955.4 1227.0,977.1 1227.3,986.7 1228.9,957.2 1230.4,941.0 1232.0,919.3 1233.0,917.0 1233.5,918.6 1235.1,908.1 1236.7,906.8 1238.2,891.3 1239.8,900.8 1240.5,894.5 1241.3,890.6 1242.9,903.0 1244.4,896.0 1246.0,914.7 1247.5,903.7 1248.1,914.0 1249.1,931.2 1250.6,937.2 1252.2,957.3 1253.8,971.9 1255.3,1003.5 1256.9,1008.3 1257.1,1010.1 1258.4,1020.3 1260.0,995.5 1261.5,998.3 1263.1,986.1 1263.1,981.8 1264.6,966.3 1266.2,946.2 1267.6,932.1 1267.8,940.5 1269.3,954.7 1270.9,979.5 1272.4,985.5 1274.0,1008.0 1275.1,1022.1 1275.5,1007.9 1277.1,980.7 1278.6,945.1 1280.2,915.6 1281.1,893.0 1281.7,892.9 1283.3,925.8 1284.9,939.6 1285.6,950.1 1286.4,958.1 1288.0,939.6 1289.5,935.9 1291.1,923.7 1291.6,926.0 1292.6,942.2 1294.2,960.6 1295.7,986.5 1297.3,993.4 1297.6,1001.1 1298.9,994.1 1300.4,963.5 1302.0,973.5 1303.5,945.4 1303.6,950.1 1305.1,946.7 1306.6,937.1 1308.2,945.0 1309.6,938.1 1309.7,940.3 1311.3,953.6 1312.8,949.4 1314.4,973.9 1316.0,977.7 1317.1,992.1 1317.5,988.9 1319.1,951.5 1320.1,950.1 1320.6,959.4 1322.2,966.0 1323.7,1000.0 1324.6,1007.1 1325.3,988.8 1326.8,994.9 1328.4,966.6 1330.0,966.6 1331.5,944.1 1332.1,944.1 1333.1,947.1 1334.6,942.6 1336.2,974.3 1336.6,956.1 1337.7,929.1 1339.3,924.3 1340.8,888.0 1341.1,897.5 1342.4,914.4 1343.9,901.9 1345.5,930.6 1347.1,924.3 1347.1,929.0 1348.6,936.1 1350.2,932.7 1351.6,944.1 1351.7,942.1 1353.3,948.8 1354.8,965.9 1356.4,971.9 1357.6,986.1 1357.9,994.1 1359.5,969.9 1361.1,964.4 1362.6,950.9 1363.6,944.1 1364.2,954.1 1365.7,944.4 1367.3,967.4 1368.1,968.1 1368.8,964.6 1370.4,960.0 1371.9,929.6 1373.5,945.4 1375.0,919.3 1376.6,921.9 1377.1,915.5 1378.2,911.9 1379.7,949.8 1381.3,942.3 1381.6,959.1 1382.8,963.7 1384.4,954.1 1385.9,944.3 1387.5,931.7 1389.0,942.6 1390.6,920.6 1390.7,929.0 1392.2,943.9 1393.7,943.6 1395.3,967.0 1396.7,965.1 1396.8,963.0 1398.4,960.7 1399.9,936.3 1401.2,941.1 1401.5,950.0 1403.0,957.5 1404.6,980.9 1406.1,981.6 1407.2,1001.1 1407.7,1005.1 1409.3,968.4 1410.2,950.1 1410.8,965.1 1412.4,956.3 1413.9,959.8 1415.5,952.1 1417.0,963.5 1418.6,957.0 1419.2,965.1 1420.1,975.9 1421.7,967.5 1423.3,991.7 1424.8,995.6 1425.2,1001.1 1426.4,1011.9 1427.9,1005.0 1429.5,1039.6 1429.7,1037.1 1431.0,1020.7 1432.6,1016.5 1434.1,992.6 1434.2,998.1 1435.7,997.5 1437.2,976.8 1438.7,974.1 1438.8,979.7 1440.4,981.0 1441.9,995.1 1443.5,1000.3 1444.7,1013.1 1445.0,1014.7 1446.6,991.2 1448.1,990.6 1449.7,957.7 1450.7,959.1 1451.2,963.2 1452.8,967.5 1454.4,996.4 1455.9,983.6 1456.7,992.1 1457.5,988.0 1459.0,975.3 1460.6,998.3 1461.2,989.1 1462.1,971.8 1463.7,980.4 1465.2,949.7 1466.8,942.4 1468.3,914.6 1468.7,920.0 1469.9,931.9 1471.5,947.8 1473.0,987.7 1474.6,978.6 1474.7,992.1 1476.1,999.1 1477.7,1005.7 1477.7,1013.1 1479.2,1001.4 1480.8,948.2 1482.2,926.0 1482.3,935.2 1483.9,923.7 1485.5,959.0 1487.0,957.1 1488.6,973.7 1489.7,977.1 1490.1,971.3 1491.7,968.5 1493.2,942.3 1494.8,956.7 1495.7,947.1 1496.3,949.8 1497.9,969.1 1499.4,970.8 1501.0,985.9 1501.7,986.1 1502.6,963.5 1504.1,968.4 1505.7,948.4 1507.2,936.5 1508.8,913.2 1509.2,920.0 1510.3,942.5 1511.9,932.2 1513.4,956.1 1515.0,951.0 1515.2,959.1 1516.6,954.5 1518.1,939.3 1519.7,949.3 1521.2,938.3 1521.2,935.1 1522.8,948.0 1524.3,920.6 1525.9,933.0 1527.3,926.0 1527.4,915.6 1529.0,946.2 1530.3,959.1 1530.5,954.9 1532.1,994.4 1533.7,1001.4 1534.8,1019.1 1535.2,1012.8 1536.8,990.9 1538.3,984.4 1539.3,968.1 1539.9,955.3 1541.4,964.0 1543.0,946.3 1544.5,959.6 1545.3,947.1 1546.1,941.0 1547.7,934.3 1549.2,910.4 1550.8,907.8 1551.3,897.5 1552.3,896.8 1553.9,905.5 1555.4,915.6 1557.0,930.3 1557.3,923.0 1558.5,922.0 1560.1,946.5 1561.6,947.4 1563.2,975.2 1563.3,968.1 1564.8,991.8 1566.3,1017.1 1567.8,1034.1 1567.9,1026.7 1569.4,1010.1 1571.0,950.3 1572.3,941.1 1572.5,938.5 1574.1,934.0 1575.6,959.6 1577.2,946.2 1578.3,962.1 1578.8,960.3 1580.3,949.6 1581.9,966.9 1583.4,949.3 1585.0,950.9 1586.5,934.9 1587.3,941.1 1588.1,956.9 1589.6,969.4 1591.2,1008.4 1592.7,1009.8 1593.3,1025.1 1594.3,1033.5 1595.9,988.9 1597.4,992.6 1599.0,963.3 1599.3,974.1 1600.5,964.9 1602.1,937.0 1603.6,948.4 1605.2,903.4 1605.3,911.0 1606.7,928.9 1608.3,915.5 1609.9,947.5 1611.3,959.1 1611.4,963.0 1613.0,1005.1 1614.3,1016.1 1614.5,1003.0 1616.1,993.8 1617.6,962.5 1619.2,967.3 1620.3,932.1 1620.7,924.9 1622.3,956.3 1623.8,948.5 1625.4,964.5 1627.0,977.9 1627.8,986.1 1628.5,993.8 1630.1,984.2 1631.6,993.5 1633.2,981.5 1634.7,982.3 1635.3,980.1 1636.3,968.0 1637.8,981.3 1639.4,943.8 1641.0,950.3 1641.3,938.1 1642.5,934.3 1644.1,945.0 1645.6,935.2 1647.2,947.6 1647.3,935.1" fill="none" stroke="#0a0a0a" stroke-width="4.0" stroke-linejoin="round" />
</g>
<g clip-path="url(#c4)">
<polyline points="241.5,2041.6 241.5,2034.6 243.0,2027.7 244.6,2033.2 246.1,2029.2 247.7,2042.8 248.7,2025.9 249.2,2033.4 250.2,2057.8 250.8,2058.4 252.3,2051.6 253.9,2050.8 255.4,2040.6 256.0,2040.4 257.0,2049.0 258.6,2045.1 260.1,2049.4 260.3,2052.0 261.7,2040.8 263.2,2048.0 264.8,2030.7 266.3,2047.9 267.6,2031.7 267.9,2027.2 269.4,2039.6 271.0,2030.4 272.0,2046.2 272.6,2055.5 274.1,2050.5 275.7,2067.1 277.2,2069.8 277.8,2081.1 278.8,2076.0 280.3,2058.0 281.9,2049.8 283.4,2032.9 283.6,2034.6 285.0,2062.5 286.5,2061.5 287.9,2075.3 288.1,2078.0 289.7,2047.1 290.8,2043.3 291.2,2048.9 292.8,2051.3 294.3,2084.9 295.2,2075.3 295.9,2063.9 297.4,2068.5 299.0,2050.0 300.5,2049.3 301.0,2046.2 302.1,2058.6 303.7,2101.3 303.9,2086.9 305.2,2068.4 306.8,2070.4 308.3,2046.2 308.3,2036.9 309.9,2050.1 311.4,2039.9 312.6,2040.4 313.0,2043.3 314.5,2031.3 316.1,2052.9 317.6,2040.9 318.4,2040.4 319.2,2046.0 320.8,2038.8 322.3,2051.9 323.9,2041.3 324.3,2054.9 325.4,2070.3 327.0,2075.7 328.5,2107.5 330.1,2104.3 330.1,2105.3 331.6,2115.9 333.2,2119.5 334.8,2131.2 335.3,2134.8 336.3,2104.5 337.9,2109.4 339.4,2087.9 340.2,2086.9 341.0,2076.3 342.5,2052.5 344.1,2028.7 345.6,2005.1 346.0,1999.7 347.2,2007.1 348.7,2009.9 350.3,2021.5 350.4,2014.3 351.9,2006.9 353.4,2006.4 354.8,1996.8 355.0,1995.9 356.5,2018.1 358.1,2023.6 359.1,2034.6 359.6,2043.8 361.2,2044.0 362.7,2063.0 364.3,2047.3 364.9,2057.8 365.9,2051.5 367.4,2032.2 369.0,2033.5 369.3,2025.9 370.5,2015.4 372.1,2026.1 373.6,2017.8 375.1,2017.2 375.2,2019.4 376.7,2023.9 378.3,2037.3 379.5,2040.4 379.8,2038.6 381.4,2037.8 383.0,2027.4 384.5,2030.5 385.3,2025.9 386.1,2022.6 387.6,2045.2 389.2,2034.7 390.7,2058.4 391.1,2049.1 392.3,2034.1 393.8,2038.6 395.4,2028.2 397.0,2032.8 398.5,2018.9 399.8,2014.3 400.1,2021.0 401.6,2022.8 402.7,2043.3 403.2,2042.6 404.7,2016.4 406.3,2007.7 407.1,1996.8 407.8,1997.3 409.4,2017.3 410.9,2017.4 411.4,2031.7 412.5,2041.5 414.1,2031.9 415.6,2040.3 417.2,2026.8 417.2,2034.6 418.7,2030.6 420.3,2006.1 421.8,2012.0 423.0,1991.0 423.4,1987.8 424.9,2006.3 426.5,2007.1 427.4,2017.2 428.1,2032.7 429.6,2024.9 431.2,2039.0 431.7,2040.4 432.7,2044.1 434.3,2057.8 435.8,2056.1 437.4,2072.7 437.6,2063.6 438.9,2058.0 440.5,2071.7 442.0,2062.7 443.4,2072.4 443.6,2081.5 445.2,2067.1 446.7,2079.6 448.3,2070.5 449.8,2074.4 450.6,2075.3 451.4,2068.2 452.9,2069.3 454.5,2061.1 456.0,2057.9 457.6,2050.2 457.9,2049.1 459.2,2057.1 460.7,2053.7 462.3,2061.0 463.7,2060.7 463.8,2047.5 465.4,2073.3 466.9,2047.6 468.5,2051.8 470.0,2043.5 471.0,2046.2 471.6,2054.9 473.1,2053.7 474.7,2071.4 475.3,2072.4 476.3,2068.7 477.8,2068.9 479.4,2050.9 480.9,2057.1 482.5,2049.6 482.6,2052.0 484.0,2051.7 485.6,2047.6 487.1,2052.1 488.7,2035.2 489.9,2034.6 490.3,2035.8 491.8,2041.4 493.4,2063.8 494.2,2060.7 494.9,2061.7 496.5,2074.9 498.0,2069.0 499.6,2080.6 500.0,2078.2 501.1,2056.1 502.7,2044.8 502.9,2040.4 504.2,2035.6 505.8,2057.0 507.4,2062.8 508.7,2072.4 508.9,2074.1 510.5,2063.0 512.0,2059.5 513.6,2043.0 515.1,2047.7 516.0,2037.5 516.7,2033.4 518.2,2053.4 519.8,2055.6 521.4,2064.9 521.8,2063.6 522.9,2054.0 524.5,2052.7 526.0,2045.0 526.2,2043.3 527.6,2056.1 529.1,2052.1 530.7,2076.3 532.0,2089.8 532.2,2085.5 533.8,2080.8 535.3,2064.4 536.3,2057.8 536.9,2060.4 538.5,2050.1 540.0,2066.4 541.6,2056.8 542.1,2057.8 543.1,2063.6 544.7,2043.8 546.2,2039.6 547.8,2026.0 548.0,2031.7 549.3,2037.8 550.9,2024.2 552.5,2025.6 553.8,2020.1 554.0,2008.7 555.6,2023.6 557.1,2017.0 558.7,2028.5 559.6,2017.2 560.2,2015.7 561.8,2010.4 563.3,2004.2 563.9,2005.5 564.9,1997.5 566.4,1973.8 566.8,1969.2 568.0,1992.3 569.6,2015.3 569.8,2023.0 571.1,2044.7 572.7,2043.3 572.7,2042.1 574.2,2061.3 575.8,2062.4 577.3,2076.8 578.5,2081.1 578.9,2074.5 580.4,2085.5 582.0,2065.5 582.8,2069.5 583.6,2074.8 585.1,2071.7 586.7,2080.9 588.2,2067.6 588.6,2078.2 589.8,2068.1 591.3,2051.8 592.9,2047.2 594.4,2031.4 594.4,2028.8 596.0,2041.0 597.5,2041.3 599.1,2051.3 600.3,2054.9 600.7,2055.0 602.2,2052.7 603.8,2036.5 605.3,2042.1 606.1,2037.5 606.9,2035.5 608.4,2044.3 610.0,2043.3 611.5,2061.2 611.9,2052.0 613.1,2047.1 614.7,2051.7 616.2,2014.6 616.2,2023.0 617.8,2022.9 619.3,2001.6 620.6,2014.3 620.9,2027.2 622.4,2026.1 624.0,2040.0 625.5,2052.3 626.4,2057.8 627.1,2063.8 628.6,2043.8 630.2,2056.2 630.8,2054.9 631.8,2056.4 633.3,2081.8 634.9,2078.9 636.4,2093.9 636.6,2092.7 638.0,2078.9 639.5,2075.5 640.9,2069.5 641.1,2067.4 642.6,2078.2 644.2,2071.8 645.8,2084.8 646.7,2084.0 647.3,2083.4 648.9,2082.0 650.4,2061.2 652.0,2071.0 652.6,2063.6 653.5,2064.9 655.1,2070.9 656.6,2072.1 658.2,2079.6 658.4,2078.2 659.7,2067.8 661.3,2075.5 662.9,2066.0 664.2,2072.4 664.4,2076.7 666.0,2054.9 667.5,2055.9 669.1,2042.1 670.0,2043.3 670.6,2051.9 672.2,2032.3 673.7,2040.2 674.3,2031.7 675.3,2018.2 676.9,2029.8 678.4,2008.4 680.0,2016.9 681.5,2006.3 681.6,2011.3 683.1,2019.5 684.6,2018.1 686.2,2025.1 687.4,2025.9 687.7,2028.6 689.3,2053.9 690.3,2054.9 690.8,2048.0 692.4,2050.1 694.0,2036.0 695.5,2034.0 696.1,2025.9 697.1,2026.2 698.6,2033.6 700.2,2035.3 701.7,2044.0 701.9,2040.4 703.3,2047.7 704.8,2070.3 705.8,2072.4 706.3,2072.4 706.4,2058.1 708.0,2046.7 708.7,2025.9 709.5,2019.9 710.7,2025.9 711.1,2035.2 712.6,2020.2 714.2,2033.6 714.5,2031.7 715.7,2032.9 717.3,2052.2 718.8,2061.7 718.9,2060.7 720.4,2051.6 721.9,2031.6 723.5,2020.7 725.1,1997.2 726.1,1996.8 726.6,2002.8 728.2,2007.4 729.7,2018.5 731.3,2029.8 732.0,2034.6 732.8,2034.7 734.4,2026.9 735.9,2020.7 737.5,2009.1 737.8,2017.2 739.1,2028.4 740.6,2005.8 742.2,2024.5 743.6,2017.2 743.7,2006.0 745.3,2016.3 746.8,2001.0 747.9,2008.4 748.4,2029.0 749.4,2063.6 749.9,2053.0 751.5,2060.0 753.0,2035.8 754.6,2044.1 755.2,2025.9 756.2,2024.5 757.7,2040.4 759.3,2029.0 760.8,2041.3 761.0,2040.4 762.4,2035.6 763.9,2060.8 765.5,2046.5 767.0,2078.0 768.6,2075.6 770.2,2089.3 771.2,2086.9 771.7,2085.1 773.3,2075.0 774.8,2063.5 776.4,2065.9 777.9,2038.3 778.4,2043.3 779.5,2046.7 781.0,2038.9 782.6,2047.6 784.1,2027.8 785.7,2045.2 787.2,2031.7 787.3,2029.3 788.8,2025.5 790.4,2013.6 791.9,2017.3 793.0,2014.3 793.5,2002.7 795.0,2023.4 796.6,2015.4 798.1,2032.1 798.8,2031.7 799.7,2027.8 801.3,2046.8 802.8,2048.3 803.1,2057.8 804.4,2058.7 805.9,2058.3 807.5,2067.5 809.0,2049.1 810.4,2063.6 810.6,2069.4 812.1,2063.9 813.7,2069.4 815.2,2070.1 816.8,2083.8 818.4,2083.7 819.1,2081.1 819.9,2075.9 821.5,2067.6 823.0,2069.5 823.5,2060.7 824.6,2069.2 826.1,2088.1 827.7,2078.7 827.8,2089.8 829.2,2093.2 830.8,2075.9 832.4,2076.4 833.6,2069.5 833.9,2064.6 835.5,2080.0 837.0,2069.9 838.6,2098.8 839.5,2089.8 840.1,2086.9 841.7,2081.5 843.2,2062.7 844.8,2068.2 845.3,2066.5 846.3,2062.1 847.9,2064.4 849.5,2056.1 851.0,2062.9 851.1,2060.7 852.6,2043.5 854.1,2032.0 855.4,2017.2 855.7,2012.3 857.2,1999.9 858.8,1965.1 860.3,1954.3 861.2,1943.1 861.9,1944.0 863.5,1951.6 865.0,1944.8 865.6,1956.1 866.6,1967.0 868.1,1981.7 869.7,2000.3 870.0,2002.6 871.2,2007.7 872.8,2035.2 874.3,2037.5 874.3,2038.9 875.9,2045.3 877.4,2022.0 879.0,2026.6 880.1,2023.0 880.6,2029.4 882.1,2040.8 883.7,2057.4 884.5,2066.5 885.2,2076.0 886.8,2058.4 888.3,2057.7 888.8,2049.1 889.9,2046.5 891.4,2048.1 893.0,2041.2 894.6,2046.7 896.1,2035.6 897.6,2037.5 897.7,2045.1 899.2,2049.2 900.8,2061.8 901.9,2066.5 902.3,2063.1 903.9,2063.1 905.4,2049.6 907.0,2056.0 907.7,2052.0 908.5,2049.7 910.1,2085.9 911.7,2076.8 913.2,2094.5 913.5,2092.7 914.8,2071.5 916.3,2069.9 917.9,2050.9 917.9,2060.7 919.4,2055.8 921.0,2038.4 922.5,2047.2 923.7,2028.8 924.1,2031.0 925.7,2049.3 927.2,2039.9 928.8,2065.9 929.5,2063.6 930.3,2051.5 931.9,2060.0 933.4,2024.4 933.9,2028.8 935.0,2024.5 936.5,2012.1 938.1,2020.9 939.6,2002.0 939.7,2005.5 941.2,2010.6 942.8,2005.5 944.3,2009.0 945.5,2008.4 945.9,2013.6 947.4,2034.0 949.0,2031.8 950.5,2056.2 951.3,2057.8 952.1,2051.2 953.6,2049.3 955.2,2041.2 956.8,2043.1 957.1,2034.6 958.3,2038.4 959.9,2056.9 961.4,2063.2 963.0,2086.4 964.4,2086.9 964.5,2082.0 966.1,2080.0 967.6,2073.4 969.2,2067.4 970.2,2063.6 970.7,2057.4 972.3,2068.6 973.9,2066.9 975.4,2071.2 977.0,2070.9 978.5,2073.2 978.9,2072.4 980.1,2065.8 981.6,2078.0 983.2,2057.6 984.7,2071.5 986.2,2060.7 986.3,2056.2 987.9,2054.5 989.4,2043.2 991.0,2051.0 992.0,2046.2 992.5,2043.5 994.1,2063.4 995.6,2062.4 996.3,2066.5 997.2,2067.5 998.7,2055.9 1000.3,2062.1 1001.8,2042.2 1003.4,2046.9 1003.6,2043.3 1005.0,2041.4 1006.5,2053.1 1008.1,2058.6 1009.4,2063.6 1009.6,2073.5 1011.2,2055.2 1012.7,2053.9 1014.3,2039.6 1015.2,2046.2 1015.8,2044.3 1017.4,2045.4 1019.0,2045.9 1020.5,2032.2 1022.1,2044.2 1022.5,2040.4 1023.6,2037.6 1025.2,2034.3 1026.7,2019.6 1028.3,2019.8 1028.3,2020.1 1029.8,1990.2 1031.4,1983.7 1032.7,1963.4 1032.9,1955.9 1034.5,1970.9 1036.1,1957.7 1037.0,1967.8 1037.6,1991.6 1039.2,2000.2 1039.9,2017.2 1040.7,2022.1 1042.3,2022.6 1043.8,2034.3 1045.4,2033.4 1045.7,2037.5 1046.9,2036.1 1048.5,2030.6 1050.1,2033.8 1051.5,2028.8 1051.6,2026.9 1053.2,2028.0 1054.4,2017.2 1054.7,2011.0 1056.3,2031.7 1057.8,2018.9 1059.4,2048.9 1060.3,2049.1 1060.9,2049.4 1062.5,2056.0 1064.0,2050.5 1065.6,2072.7 1067.2,2063.8 1068.7,2074.6 1069.0,2072.4 1070.3,2066.8 1071.8,2063.1 1073.4,2049.9 1074.8,2046.2 1074.9,2050.5 1076.5,2036.4 1078.0,2040.6 1079.1,2028.8 1079.6,2028.0 1081.2,2031.8 1082.7,2031.1 1084.3,2045.7 1085.8,2037.9 1086.4,2046.2 1087.4,2058.1 1088.9,2044.3 1090.5,2062.2 1092.0,2057.2 1093.6,2070.2 1093.7,2063.6 1095.1,2054.5 1096.7,2052.9 1098.0,2040.4 1098.3,2040.8 1099.8,2043.7 1101.4,2017.1 1102.9,2019.7 1103.8,2014.3 1104.5,2018.4 1106.0,2032.6 1107.6,2043.6 1109.1,2059.8 1109.6,2063.6 1110.7,2054.1 1112.3,2062.5 1113.8,2045.3 1115.4,2055.9 1115.5,2046.2 1116.9,2041.7 1118.5,2062.6 1120.0,2058.9 1121.3,2060.7 1121.6,2067.6 1123.1,2049.4 1124.7,2047.9 1125.6,2037.5 1126.2,2037.9 1127.8,2047.6 1129.4,2041.1 1130.9,2057.7 1132.5,2043.3 1132.9,2049.1 1134.0,2062.1 1135.6,2057.2 1137.1,2063.8 1138.7,2069.5 1138.7,2072.4 1140.2,2074.6 1141.8,2056.6 1143.4,2071.2 1144.5,2060.7 1144.9,2055.0 1146.5,2078.9 1148.0,2063.7 1149.6,2079.9 1151.1,2084.7 1151.8,2089.8 1152.7,2089.4 1154.2,2070.9 1155.8,2064.6 1157.3,2055.3 1158.9,2047.7 1159.0,2046.2 1160.5,2042.8 1162.0,2052.2 1163.6,2036.8 1165.1,2050.4 1166.7,2048.8 1168.2,2059.7 1169.8,2047.6 1170.0,2050.1 1171.3,2059.2 1172.9,2060.1 1174.5,2075.9 1174.5,2071.1 1176.0,2050.0 1177.6,2043.8 1179.1,2019.7 1180.5,2014.1 1180.7,2016.4 1182.2,2025.1 1183.8,2055.2 1185.0,2065.1 1185.3,2066.7 1186.9,2061.8 1188.4,2051.2 1190.0,2047.6 1191.0,2044.1 1191.6,2034.9 1193.1,2032.2 1194.7,2023.3 1196.2,2021.7 1197.8,2002.7 1198.5,2005.1 1199.3,2010.7 1200.9,2014.9 1202.4,2028.2 1203.0,2029.1 1204.0,2032.6 1205.6,2051.4 1207.1,2037.6 1208.7,2058.4 1210.2,2062.9 1211.8,2080.0 1212.0,2074.1 1213.3,2062.0 1214.9,2064.3 1216.4,2046.4 1216.5,2053.1 1218.0,2066.0 1219.5,2062.9 1221.0,2080.1 1221.1,2083.0 1222.7,2054.1 1224.2,2045.6 1225.5,2029.1 1225.8,2027.3 1227.3,2069.0 1228.5,2077.1 1228.9,2075.6 1230.4,2072.0 1232.0,2057.4 1233.5,2061.8 1235.1,2041.6 1236.0,2041.1 1236.7,2048.7 1238.2,2028.8 1239.8,2022.4 1240.5,2014.1 1241.3,2010.8 1242.9,2020.0 1244.4,2005.8 1246.0,2029.6 1246.6,2026.1 1247.5,2014.1 1249.1,2030.9 1250.6,2009.1 1251.1,2020.1 1252.2,2027.1 1253.8,2009.1 1255.3,2020.0 1255.6,2014.1 1256.9,2032.3 1258.4,2057.6 1258.6,2062.1 1260.0,2047.6 1261.5,2049.7 1263.1,2038.8 1264.6,2032.7 1266.1,2026.1 1266.2,2018.9 1267.8,2035.4 1269.3,2026.5 1270.9,2037.5 1272.4,2038.0 1273.6,2044.1 1274.0,2051.4 1275.5,2037.7 1277.1,2052.2 1278.6,2029.2 1280.2,2043.2 1281.7,2025.9 1282.6,2029.1 1283.3,2035.2 1284.9,2039.3 1286.4,2056.4 1288.0,2061.6 1288.6,2065.1 1289.5,2074.0 1291.1,2051.1 1292.6,2048.1 1294.2,2027.2 1294.6,2032.1 1295.7,2035.2 1297.3,2027.5 1298.9,2025.2 1300.4,2017.1 1300.6,2023.1 1302.0,2030.4 1303.5,2031.8 1305.1,2043.8 1306.6,2045.8 1308.1,2047.1 1308.2,2047.5 1309.7,2048.3 1311.3,2064.2 1312.8,2063.5 1314.1,2074.1 1314.4,2083.4 1316.0,2056.7 1317.5,2053.8 1319.1,2029.2 1320.1,2038.1 1320.6,2041.6 1322.2,2033.3 1323.7,2038.6 1325.3,2030.7 1326.1,2035.1 1326.8,2046.5 1328.4,2026.2 1330.0,2036.3 1331.5,2022.8 1333.1,2040.8 1333.6,2032.1 1334.6,2030.5 1336.2,2065.6 1337.7,2052.9 1339.3,2065.4 1340.8,2071.5 1341.1,2077.1 1342.4,2071.2 1343.9,2061.4 1345.5,2061.9 1347.1,2047.3 1348.6,2049.7 1348.6,2050.1 1350.2,2043.1 1351.7,2049.3 1353.1,2035.1 1353.3,2028.3 1354.8,2037.9 1356.4,2022.9 1357.9,2024.6 1359.1,2020.1 1359.5,2019.7 1361.1,2018.7 1362.6,2022.3 1364.2,2024.7 1365.1,2023.1 1365.7,2020.5 1367.3,2043.4 1368.8,2054.2 1369.6,2062.1 1370.4,2066.4 1371.9,2045.0 1373.5,2048.0 1374.1,2038.1 1375.0,2042.3 1376.6,2046.2 1378.2,2047.6 1379.7,2053.4 1380.1,2050.1 1381.3,2048.1 1382.8,2057.8 1384.4,2032.6 1385.9,2047.6 1386.2,2047.1 1387.5,2033.7 1389.0,2042.8 1390.6,2030.6 1392.2,2037.2 1393.7,2029.1 1393.7,2019.6 1395.3,2030.4 1396.8,2026.3 1398.4,2034.2 1399.9,2018.6 1401.2,2026.1 1401.5,2030.6 1403.0,2022.8 1404.6,2033.7 1406.1,2020.7 1407.2,2032.1 1407.7,2038.7 1409.3,2045.2 1410.8,2051.1 1411.7,2059.1 1412.4,2057.8 1413.9,2061.1 1415.5,2054.1 1417.0,2071.4 1417.7,2056.1 1418.6,2049.4 1420.1,2073.5 1421.7,2078.2 1422.2,2086.1 1423.3,2082.8 1424.8,2064.0 1426.4,2066.9 1426.7,2062.1 1427.9,2066.8 1429.5,2082.3 1431.0,2078.3 1431.2,2083.1 1432.6,2077.2 1434.1,2066.3 1435.7,2062.1 1437.2,2046.0 1438.8,2047.4 1440.2,2038.1 1440.4,2036.2 1441.9,2043.2 1443.5,2042.0 1445.0,2044.5 1446.6,2039.8 1447.7,2047.1 1448.1,2052.7 1449.7,2048.8 1451.2,2057.7 1452.8,2058.7 1454.4,2069.1 1455.2,2068.1 1455.9,2068.6 1457.5,2072.7 1459.0,2068.0 1460.6,2092.3 1461.2,2080.1 1462.1,2069.0 1463.7,2066.9 1465.2,2037.4 1465.7,2044.1 1466.8,2035.3 1468.3,1993.0 1468.7,1990.0 1469.9,2008.0 1471.5,2006.3 1473.0,2049.4 1473.2,2038.1 1474.6,2023.1 1476.1,2009.5 1476.2,2008.1 1477.7,2012.5 1479.2,2028.0 1480.7,2035.1 1480.8,2028.1 1482.3,2044.0 1483.9,2028.3 1485.2,2032.1 1485.5,2030.7 1487.0,2020.2 1488.6,2031.5 1490.1,2005.6 1491.7,2018.9 1492.7,2011.1 1493.2,2013.8 1494.8,2035.6 1496.3,2044.1 1497.2,2059.1 1497.9,2056.7 1499.4,2034.9 1501.0,2038.6 1502.6,2021.2 1503.2,2020.1 1504.1,2031.1 1505.7,2027.7 1507.2,2042.0 1508.8,2042.5 1509.2,2050.1 1510.3,2060.6 1511.9,2064.8 1513.4,2083.4 1513.7,2083.1 1515.0,2056.5 1516.6,2048.5 1518.1,2017.4 1518.2,2026.1 1519.7,2040.7 1521.2,2014.0 1522.8,2030.2 1524.3,2025.5 1525.7,2026.1 1525.9,2027.8 1527.4,2029.5 1529.0,2050.5 1530.3,2056.1 1530.5,2053.3 1532.1,2062.0 1533.7,2052.7 1535.2,2065.4 1536.8,2062.4 1537.8,2065.1 1538.3,2072.1 1539.9,2048.9 1541.4,2045.0 1542.3,2035.1 1543.0,2032.5 1544.5,2041.2 1546.1,2039.5 1547.7,2043.3 1549.2,2041.0 1549.8,2050.1 1550.8,2077.1 1552.3,2078.1 1552.8,2089.1 1553.9,2080.4 1555.4,2057.1 1557.0,2057.6 1557.3,2050.1 1558.5,2040.3 1560.1,2048.5 1561.6,2035.1 1563.2,2036.0 1563.3,2035.1 1564.8,2047.5 1566.3,2063.3 1567.8,2074.1 1567.9,2067.6 1569.4,2066.6 1571.0,2050.7 1572.5,2050.1 1573.8,2044.1 1574.1,2034.6 1575.6,2060.3 1577.2,2066.5 1578.3,2074.1 1578.8,2079.2 1580.3,2054.6 1581.9,2068.0 1583.4,2037.5 1584.3,2044.1 1585.0,2046.7 1586.5,2037.0 1588.1,2043.2 1589.6,2038.6 1591.2,2044.9 1592.7,2045.8 1593.3,2047.1 1594.3,2050.8 1595.9,2038.1 1597.4,2045.4 1599.0,2035.8 1599.3,2038.1 1600.5,2051.2 1602.1,2056.1 1602.3,2062.1 1603.6,2062.6 1605.2,2048.8 1606.7,2056.0 1608.3,2039.4 1608.3,2047.1 1609.9,2051.3 1611.4,2038.0 1613.0,2051.9 1614.3,2044.1 1614.5,2030.9 1616.1,2032.3 1617.3,2020.1 1617.6,2013.3 1619.2,2035.6 1620.7,2029.2 1622.3,2027.7 1623.3,2032.1 1623.8,2024.1 1625.4,2045.7 1627.0,2030.9 1628.5,2036.4 1629.3,2032.1 1630.1,2024.3 1631.6,2029.5 1633.2,2020.9 1634.7,2034.0 1635.3,2023.1 1636.3,2019.7 1637.8,2023.0 1639.4,2022.0 1641.0,2026.8 1641.3,2026.1 1642.5,2018.1 1644.1,2020.7 1645.6,2004.6 1645.8,2011.1 1647.2,2007.1 1648.7,1988.8 1648.8,2002.1" fill="none" stroke="#0a0a0a" stroke-width="4.0" stroke-linejoin="round" />
</g>
<path d="M322.1 727.0V747.0M430.8 727.0V747.0M531.0 727.0V747.0M708.8 727.0V747.0M791.4 727.0V747.0M945.4 727.0V747.0M1017.5 727.0V747.0M1086.5 727.0V747.0M1155.8 727.0V747.0M1286.2 727.0V747.0M1349.9 727.0V747.0M1412.7 727.0V747.0M1473.3 727.0V747.0M1533.7 727.0V747.0M1593.4 727.0V747.0" stroke="#e0242a" stroke-width="3.0" fill="none"/>
<path d="M267.8 765.0V784.5M278.5 765.0V784.5M282.0 765.0V784.5M327.2 765.0V784.5M354.2 765.0V784.5M374.5 765.0V784.5M394.5 765.0V784.5M398.0 765.0V784.5M401.5 765.0V784.5M412.7 765.0V784.5M444.1 765.0V784.5M475.0 765.0V784.5M478.5 765.0V784.5M509.6 765.0V784.5M556.0 765.0V784.5M593.7 765.0V784.5M609.8 765.0V784.5M617.9 765.0V784.5M631.3 765.0V784.5M650.7 765.0V784.5M655.0 765.0V784.5M658.5 765.0V784.5M661.9 765.0V784.5M688.9 765.0V784.5M705.5 765.0V784.5M708.5 765.0V784.5M765.7 765.0V784.5M777.5 765.0V784.5M798.0 765.0V784.5M835.3 765.0V784.5M851.0 765.0V784.5M865.5 765.0V784.5M868.5 765.0V784.5M876.7 765.0V784.5M899.4 765.0V784.5M912.4 765.0V784.5M922.0 765.0V784.5M925.0 765.0V784.5M928.0 765.0V784.5M931.0 765.0V784.5M939.4 765.0V784.5M949.4 765.0V784.5M978.0 765.0V784.5M981.5 765.0V784.5M985.7 765.0V784.5M997.8 765.0V784.5M1023.5 765.0V784.5M1030.2 765.0V784.5M1041.5 765.0V784.5M1044.5 765.0V784.5M1058.3 765.0V784.5M1079.5 765.0V784.5M1105.2 765.0V784.5M1115.2 765.0V784.5M1150.6 765.0V784.5M1161.2 765.0V784.5M1167.3 765.0V784.5M1176.4 765.0V784.5M1163.1 765.0V784.5M1175.3 765.0V784.5M1189.1 765.0V784.5M1196.8 765.0V784.5M1210.5 765.0V784.5M1222.8 765.0V784.5M1233.5 765.0V784.5M1245.8 765.0V784.5M1265.7 765.0V784.5M1276.4 765.0V784.5M1297.8 765.0V784.5M1319.9 765.0V784.5M1338.6 765.0V784.5M1357.5 765.0V784.5M1374.4 765.0V784.5M1380.5 765.0V784.5M1388.2 765.0V784.5M1402.0 765.0V784.5M1418.8 765.0V784.5M1432.6 765.0V784.5M1444.8 765.0V784.5M1451.0 765.0V784.5M1457.1 765.0V784.5M1461.7 765.0V784.5M1480.1 765.0V784.5M1486.2 765.0V784.5M1493.8 765.0V784.5M1501.5 765.0V784.5M1515.3 765.0V784.5M1532.1 765.0V784.5M1538.3 765.0V784.5M1552.0 765.0V784.5M1562.8 765.0V784.5M1575.0 765.0V784.5M1582.7 765.0V784.5M1591.9 765.0V784.5M1601.0 765.0V784.5M1611.8 765.0V784.5M1631.7 765.0V784.5M1637.8 765.0V784.5M1643.9 765.0V784.5" stroke="#22b8b0" stroke-width="3.0" fill="none"/>
<path d="M611.8 802.5V823.0M805.6 802.5V823.0M1434.1 802.5V823.0" stroke="#2a2ab8" stroke-width="3.0" fill="none"/>
<path d="M655.6 1840.5V1859.5M856.8 1840.5V1859.5M1036.4 1840.5V1859.5M1204.2 1840.5V1859.5M1513.4 1840.5V1859.5" stroke="#e0242a" stroke-width="3.0" fill="none"/>
<path d="M305.3 1886.0V1906.0M335.0 1886.0V1906.0M542.0 1886.0V1906.0M576.0 1886.0V1906.0M583.7 1886.0V1906.0M768.0 1886.0V1906.0M783.1 1886.0V1906.0M788.3 1886.0V1906.0M863.9 1886.0V1906.0M910.2 1886.0V1906.0M942.0 1886.0V1906.0M975.3 1886.0V1906.0M983.8 1886.0V1906.0M1005.0 1886.0V1906.0M1058.5 1886.0V1906.0M1114.0 1886.0V1906.0M1119.7 1886.0V1906.0M1171.0 1886.0V1906.0M1247.9 1886.0V1906.0M1314.3 1886.0V1906.0M1339.0 1886.0V1906.0M1356.1 1886.0V1906.0M1378.9 1886.0V1906.0M1411.2 1886.0V1906.0M1426.4 1886.0V1906.0M1432.0 1886.0V1906.0M1479.5 1886.0V1906.0M1506.1 1886.0V1906.0M1511.8 1886.0V1906.0M1517.5 1886.0V1906.0M1612.5 1886.0V1906.0M1633.3 1886.0V1906.0" stroke="#22b8b0" stroke-width="3.0" fill="none"/>
<text x="1566" y="718.3" font-size="34" fill="#e0242a"><tspan>CO</tspan><tspan font-size="24.5" dy="6.5">2</tspan><tspan dy="-6.5"></tspan></text>
<text x="1027" y="828.5" font-size="35" fill="#22b8b0"><tspan>D</tspan><tspan font-size="25.2" dy="6.7">2</tspan><tspan dy="-6.7"></tspan><tspan>CO</tspan><tspan font-size="25.2" dy="6.7">3</tspan><tspan dy="-6.7"></tspan></text>
<text x="1444" y="838" font-size="35.5" fill="#2a2acc">NiCrAl cell</text>
<text x="1486" y="1835" font-size="35.5" fill="#e0242a"><tspan>CO</tspan><tspan font-size="25.6" dy="6.7">2</tspan><tspan dy="-6.7"></tspan></text>
<text x="1055" y="1878" font-size="35.5" fill="#22b8b0"><tspan>D</tspan><tspan font-size="25.6" dy="6.7">2</tspan><tspan dy="-6.7"></tspan><tspan>CO</tspan><tspan font-size="25.6" dy="6.7">3</tspan><tspan dy="-6.7"></tspan></text>
<rect x="241.0" y="16.8" width="1407.5" height="845.8000000000001" fill="none" stroke="#1a1a1a" stroke-width="3.4"/>
<rect x="241.0" y="862.6" width="1407.5" height="210.39999999999998" fill="none" stroke="#1a1a1a" stroke-width="3.4"/>
<rect x="241.0" y="1086.5" width="1407.5" height="847.0" fill="none" stroke="#1a1a1a" stroke-width="3.4"/>
<rect x="241.0" y="1933.5" width="1407.5" height="212.0" fill="none" stroke="#1a1a1a" stroke-width="3.4"/>
<line x1="356.5" y1="853.6" x2="356.5" y2="862.6" stroke="#1a1a1a" stroke-width="2.4"/>
<line x1="667.6" y1="853.6" x2="667.6" y2="862.6" stroke="#1a1a1a" stroke-width="2.4"/>
<line x1="978.7" y1="853.6" x2="978.7" y2="862.6" stroke="#1a1a1a" stroke-width="2.4"/>
<line x1="1289.8" y1="853.6" x2="1289.8" y2="862.6" stroke="#1a1a1a" stroke-width="2.4"/>
<line x1="1600.9" y1="853.6" x2="1600.9" y2="862.6" stroke="#1a1a1a" stroke-width="2.4"/>
<line x1="356.5" y1="1924.5" x2="356.5" y2="1933.5" stroke="#1a1a1a" stroke-width="2.4"/>
<line x1="667.6" y1="1924.5" x2="667.6" y2="1933.5" stroke="#1a1a1a" stroke-width="2.4"/>
<line x1="978.7" y1="1924.5" x2="978.7" y2="1933.5" stroke="#1a1a1a" stroke-width="2.4"/>
<line x1="1289.8" y1="1924.5" x2="1289.8" y2="1933.5" stroke="#1a1a1a" stroke-width="2.4"/>
<line x1="1600.9" y1="1924.5" x2="1600.9" y2="1933.5" stroke="#1a1a1a" stroke-width="2.4"/>
<line x1="231.0" y1="770.2" x2="241.0" y2="770.2" stroke="#1a1a1a" stroke-width="2.4"/>
<text transform="translate(223,783.2) scale(1.05,1)" font-size="40" text-anchor="end" fill="#1a1a1a">16</text>
<line x1="231.0" y1="649.6" x2="241.0" y2="649.6" stroke="#1a1a1a" stroke-width="2.4"/>
<text transform="translate(223,662.6) scale(1.05,1)" font-size="40" text-anchor="end" fill="#1a1a1a">18</text>
<line x1="231.0" y1="529.0" x2="241.0" y2="529.0" stroke="#1a1a1a" stroke-width="2.4"/>
<text transform="translate(223,542.0) scale(1.05,1)" font-size="40" text-anchor="end" fill="#1a1a1a">20</text>
<line x1="231.0" y1="408.4" x2="241.0" y2="408.4" stroke="#1a1a1a" stroke-width="2.4"/>
<text transform="translate(223,421.4) scale(1.05,1)" font-size="40" text-anchor="end" fill="#1a1a1a">22</text>
<line x1="231.0" y1="287.8" x2="241.0" y2="287.8" stroke="#1a1a1a" stroke-width="2.4"/>
<text transform="translate(223,300.8) scale(1.05,1)" font-size="40" text-anchor="end" fill="#1a1a1a">24</text>
<line x1="231.0" y1="167.2" x2="241.0" y2="167.2" stroke="#1a1a1a" stroke-width="2.4"/>
<text transform="translate(223,180.2) scale(1.05,1)" font-size="40" text-anchor="end" fill="#1a1a1a">26</text>
<line x1="231.0" y1="46.6" x2="241.0" y2="46.6" stroke="#1a1a1a" stroke-width="2.4"/>
<text transform="translate(223,59.6) scale(1.05,1)" font-size="40" text-anchor="end" fill="#1a1a1a">28</text>
<line x1="231.0" y1="893.8" x2="241.0" y2="893.8" stroke="#1a1a1a" stroke-width="2.4"/>
<text transform="translate(221,904.3) scale(1.02,1)" font-size="34" text-anchor="end" fill="#1a1a1a">0.25</text>
<line x1="231.0" y1="965.6" x2="241.0" y2="965.6" stroke="#1a1a1a" stroke-width="2.4"/>
<text transform="translate(221,976.1) scale(1.02,1)" font-size="34" text-anchor="end" fill="#1a1a1a">0.00</text>
<line x1="231.0" y1="1037.4" x2="241.0" y2="1037.4" stroke="#1a1a1a" stroke-width="2.4"/>
<text transform="translate(221,1047.9) scale(1.02,1)" font-size="34" text-anchor="end" fill="#1a1a1a">&#8722;0.25</text>
<line x1="231.0" y1="1894.9" x2="241.0" y2="1894.9" stroke="#1a1a1a" stroke-width="2.4"/>
<text transform="translate(223,1907.9) scale(1.05,1)" font-size="40" text-anchor="end" fill="#1a1a1a">14</text>
<line x1="231.0" y1="1776.0" x2="241.0" y2="1776.0" stroke="#1a1a1a" stroke-width="2.4"/>
<text transform="translate(223,1789.0) scale(1.05,1)" font-size="40" text-anchor="end" fill="#1a1a1a">16</text>
<line x1="231.0" y1="1657.1" x2="241.0" y2="1657.1" stroke="#1a1a1a" stroke-width="2.4"/>
<text transform="translate(223,1670.1) scale(1.05,1)" font-size="40" text-anchor="end" fill="#1a1a1a">18</text>
<line x1="231.0" y1="1538.2" x2="241.0" y2="1538.2" stroke="#1a1a1a" stroke-width="2.4"/>
<text transform="translate(223,1551.2) scale(1.05,1)" font-size="40" text-anchor="end" fill="#1a1a1a">20</text>
<line x1="231.0" y1="1419.3" x2="241.0" y2="1419.3" stroke="#1a1a1a" stroke-width="2.4"/>
<text transform="translate(223,1432.3) scale(1.05,1)" font-size="40" text-anchor="end" fill="#1a1a1a">22</text>
<line x1="231.0" y1="1300.4" x2="241.0" y2="1300.4" stroke="#1a1a1a" stroke-width="2.4"/>
<text transform="translate(223,1313.4) scale(1.05,1)" font-size="40" text-anchor="end" fill="#1a1a1a">24</text>
<line x1="231.0" y1="1181.5" x2="241.0" y2="1181.5" stroke="#1a1a1a" stroke-width="2.4"/>
<text transform="translate(223,1194.5) scale(1.05,1)" font-size="40" text-anchor="end" fill="#1a1a1a">26</text>
<line x1="231.0" y1="1950.1" x2="241.0" y2="1950.1" stroke="#1a1a1a" stroke-width="2.4"/>
<text transform="translate(221,1960.6) scale(1.02,1)" font-size="34" text-anchor="end" fill="#1a1a1a">0.5</text>
<line x1="231.0" y1="2046.8" x2="241.0" y2="2046.8" stroke="#1a1a1a" stroke-width="2.4"/>
<text transform="translate(221,2057.3) scale(1.02,1)" font-size="34" text-anchor="end" fill="#1a1a1a">0.0</text>
<line x1="231.0" y1="2143.5" x2="241.0" y2="2143.5" stroke="#1a1a1a" stroke-width="2.4"/>
<text transform="translate(221,2154.0) scale(1.02,1)" font-size="34" text-anchor="end" fill="#1a1a1a">&#8722;0.5</text>
<line x1="356.5" y1="2145.5" x2="356.5" y2="2155.5" stroke="#1a1a1a" stroke-width="2.4"/>
<text transform="translate(358.8,2195) scale(1.04,1)" font-size="40" text-anchor="middle" fill="#1a1a1a">30</text>
<line x1="667.6" y1="2145.5" x2="667.6" y2="2155.5" stroke="#1a1a1a" stroke-width="2.4"/>
<text transform="translate(662.2,2195) scale(1.04,1)" font-size="40" text-anchor="middle" fill="#1a1a1a">40</text>
<line x1="978.7" y1="2145.5" x2="978.7" y2="2155.5" stroke="#1a1a1a" stroke-width="2.4"/>
<text transform="translate(978.5,2195) scale(1.04,1)" font-size="40" text-anchor="middle" fill="#1a1a1a">50</text>
<line x1="1289.8" y1="2145.5" x2="1289.8" y2="2155.5" stroke="#1a1a1a" stroke-width="2.4"/>
<text transform="translate(1295.1,2195) scale(1.04,1)" font-size="40" text-anchor="middle" fill="#1a1a1a">60</text>
<line x1="1600.9" y1="2145.5" x2="1600.9" y2="2155.5" stroke="#1a1a1a" stroke-width="2.4"/>
<text transform="translate(1600.8,2195) scale(1.04,1)" font-size="40" text-anchor="middle" fill="#1a1a1a">70</text>
<text transform="translate(93.5,406) rotate(-90)" font-size="74" text-anchor="middle" fill="#1a1a1a">Intensity (counts)</text>
<text transform="translate(93.5,1536) rotate(-90)" font-size="74" text-anchor="middle" fill="#1a1a1a">Intensity (counts)</text>
<text x="68" y="978" font-size="64" text-anchor="middle" fill="#1a1a1a">&#916;/&#963;</text>
<text x="68" y="2064" font-size="64" text-anchor="middle" fill="#1a1a1a">&#916;/&#963;</text>
<text x="1134" y="2259" font-size="78" text-anchor="middle" fill="#1a1a1a">2&#920;</text>
<text x="1247" y="155.6" font-size="62" letter-spacing="0.65" fill="#1a1a1a">&#955; = 1.351 &#197;</text>
<text x="1247" y="1211" font-size="62" letter-spacing="0.65" fill="#1a1a1a">&#955; = 2.118 &#197;</text>
</g>
</svg>
</body></html>
